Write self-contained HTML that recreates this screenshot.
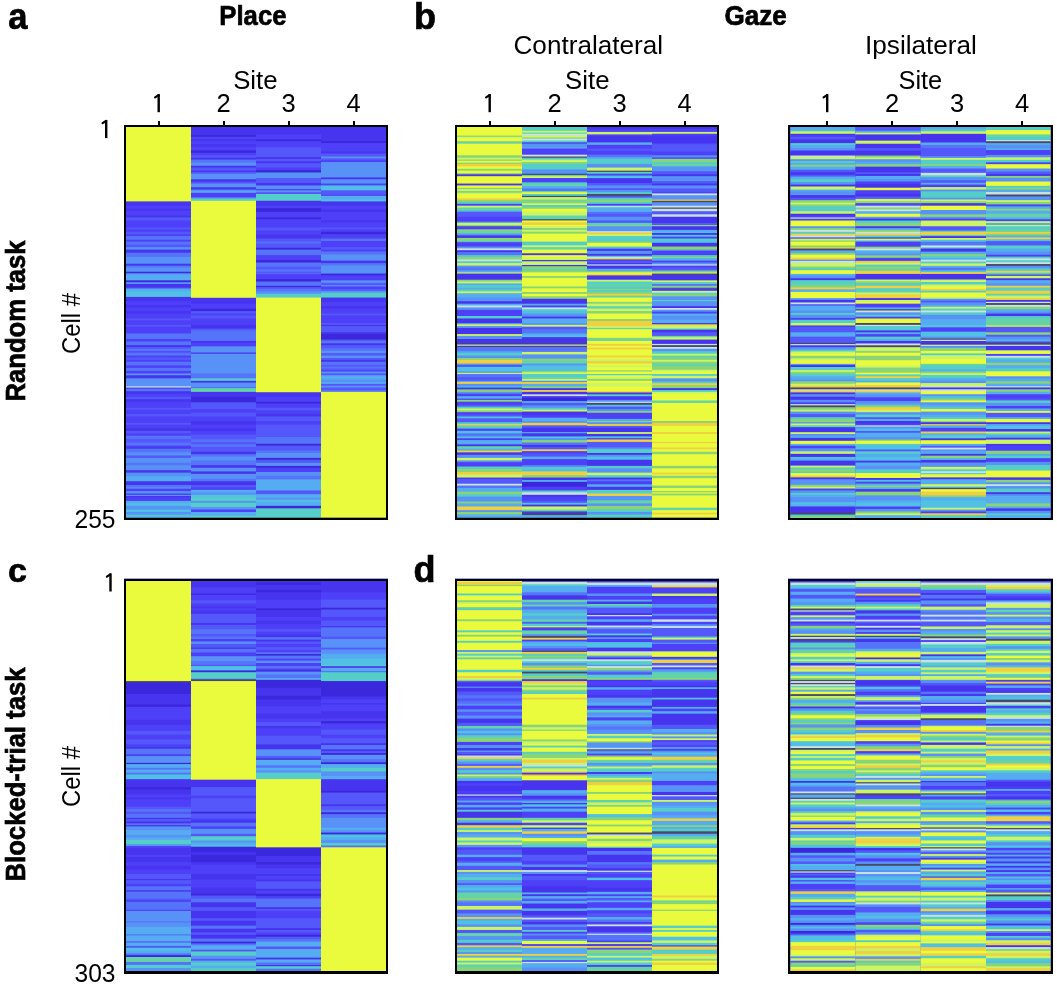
<!DOCTYPE html>
<html><head><meta charset="utf-8"><title>Figure</title>
<style>html,body{margin:0;padding:0;background:#fff;}body{width:1057px;height:985px;overflow:hidden;font-family:"Liberation Sans",sans-serif;}svg{display:block;will-change:transform;}</style>
</head><body>
<svg width="1057" height="985" viewBox="0 0 1057 985" shape-rendering="crispEdges">
<rect width="1057" height="985" fill="#fff"/>
<g shape-rendering="auto">
<rect x="124" y="125" width="264" height="395" fill="#4c46f8"/>
<rect x="455" y="125" width="264" height="395" fill="#4c46f8"/>
<rect x="788" y="125" width="265" height="395" fill="#4c46f8"/>
<rect x="124" y="578.5" width="264" height="395.0" fill="#4c46f8"/>
<rect x="455" y="578.5" width="264" height="395.0" fill="#4c46f8"/>
<rect x="788" y="578.5" width="265" height="395.0" fill="#4c46f8"/>
<rect x="126" y="127.00" width="65" height="75.39" fill="#e9fb3c"/>
<rect x="126" y="201.39" width="65" height="5.30" fill="#4634ee"/>
<rect x="126" y="205.70" width="65" height="4.07" fill="#4e40f8"/>
<rect x="126" y="208.77" width="65" height="2.84" fill="#4634ee"/>
<rect x="126" y="210.61" width="65" height="5.92" fill="#4e40f8"/>
<rect x="126" y="215.53" width="65" height="2.84" fill="#4634ee"/>
<rect x="126" y="217.38" width="65" height="4.07" fill="#5458fb"/>
<rect x="126" y="220.45" width="65" height="4.55" fill="#4e40f8"/>
<rect x="191" y="127.00" width="65" height="8.99" fill="#4634ee"/>
<rect x="191" y="134.99" width="65" height="2.84" fill="#3c28dc"/>
<rect x="191" y="136.84" width="65" height="3.46" fill="#4e40f8"/>
<rect x="191" y="139.30" width="65" height="2.84" fill="#4634ee"/>
<rect x="191" y="141.14" width="65" height="4.07" fill="#4e40f8"/>
<rect x="191" y="144.21" width="65" height="3.46" fill="#4634ee"/>
<rect x="191" y="146.67" width="65" height="4.69" fill="#4e40f8"/>
<rect x="191" y="150.36" width="65" height="3.46" fill="#3c28dc"/>
<rect x="191" y="152.82" width="65" height="3.46" fill="#4e40f8"/>
<rect x="191" y="155.28" width="65" height="3.46" fill="#5458fb"/>
<rect x="191" y="157.74" width="65" height="2.84" fill="#4634ee"/>
<rect x="191" y="159.58" width="65" height="4.07" fill="#5674fa"/>
<rect x="191" y="162.66" width="65" height="4.07" fill="#5892f6"/>
<rect x="191" y="165.73" width="65" height="2.84" fill="#4634ee"/>
<rect x="191" y="167.58" width="65" height="4.07" fill="#5458fb"/>
<rect x="191" y="170.65" width="65" height="2.23" fill="#4634ee"/>
<rect x="191" y="171.88" width="65" height="2.84" fill="#5458fb"/>
<rect x="191" y="173.73" width="65" height="6.53" fill="#5892f6"/>
<rect x="191" y="179.26" width="65" height="3.46" fill="#4634ee"/>
<rect x="191" y="181.72" width="65" height="2.84" fill="#5458fb"/>
<rect x="191" y="183.56" width="65" height="4.69" fill="#5892f6"/>
<rect x="191" y="187.25" width="65" height="2.84" fill="#4634ee"/>
<rect x="191" y="189.10" width="65" height="2.23" fill="#5458fb"/>
<rect x="191" y="190.32" width="65" height="3.46" fill="#55acf0"/>
<rect x="191" y="192.78" width="65" height="5.30" fill="#4e40f8"/>
<rect x="191" y="197.09" width="65" height="2.23" fill="#5674fa"/>
<rect x="191" y="198.32" width="65" height="3.46" fill="#55cdc8"/>
<rect x="191" y="200.78" width="65" height="24.22" fill="#e9fb3c"/>
<rect x="256" y="127.00" width="65" height="8.38" fill="#4634ee"/>
<rect x="256" y="134.38" width="65" height="5.92" fill="#4e40f8"/>
<rect x="256" y="139.30" width="65" height="2.84" fill="#3c28dc"/>
<rect x="256" y="141.14" width="65" height="7.15" fill="#4e40f8"/>
<rect x="256" y="147.29" width="65" height="10.84" fill="#5458fb"/>
<rect x="256" y="157.13" width="65" height="2.84" fill="#4634ee"/>
<rect x="256" y="158.97" width="65" height="3.46" fill="#5458fb"/>
<rect x="256" y="161.43" width="65" height="2.84" fill="#4634ee"/>
<rect x="256" y="163.27" width="65" height="5.30" fill="#5458fb"/>
<rect x="256" y="167.58" width="65" height="3.46" fill="#4e40f8"/>
<rect x="256" y="170.04" width="65" height="3.46" fill="#3c28dc"/>
<rect x="256" y="172.50" width="65" height="6.53" fill="#5892f6"/>
<rect x="256" y="178.03" width="65" height="5.92" fill="#5458fb"/>
<rect x="256" y="182.95" width="65" height="3.46" fill="#4634ee"/>
<rect x="256" y="185.41" width="65" height="4.69" fill="#5892f6"/>
<rect x="256" y="189.10" width="65" height="2.23" fill="#4e40f8"/>
<rect x="256" y="190.32" width="65" height="2.84" fill="#5892f6"/>
<rect x="256" y="192.17" width="65" height="2.84" fill="#5458fb"/>
<rect x="256" y="194.01" width="65" height="7.76" fill="#55cdc8"/>
<rect x="256" y="200.78" width="65" height="5.92" fill="#4634ee"/>
<rect x="256" y="205.70" width="65" height="3.46" fill="#4e40f8"/>
<rect x="256" y="208.15" width="65" height="4.69" fill="#3c28dc"/>
<rect x="256" y="211.84" width="65" height="6.53" fill="#4e40f8"/>
<rect x="256" y="217.38" width="65" height="2.84" fill="#3c28dc"/>
<rect x="256" y="219.22" width="65" height="5.78" fill="#4e40f8"/>
<rect x="321" y="127.00" width="65" height="15.14" fill="#4634ee"/>
<rect x="321" y="141.14" width="65" height="2.84" fill="#3c28dc"/>
<rect x="321" y="142.98" width="65" height="9.61" fill="#4e40f8"/>
<rect x="321" y="151.59" width="65" height="2.84" fill="#4634ee"/>
<rect x="321" y="153.44" width="65" height="4.07" fill="#5458fb"/>
<rect x="321" y="156.51" width="65" height="2.84" fill="#5892f6"/>
<rect x="321" y="158.36" width="65" height="2.84" fill="#5458fb"/>
<rect x="321" y="160.20" width="65" height="2.84" fill="#4e40f8"/>
<rect x="321" y="162.04" width="65" height="16.37" fill="#5892f6"/>
<rect x="321" y="177.41" width="65" height="2.84" fill="#4634ee"/>
<rect x="321" y="179.26" width="65" height="5.30" fill="#5892f6"/>
<rect x="321" y="183.56" width="65" height="2.84" fill="#4e40f8"/>
<rect x="321" y="185.41" width="65" height="5.92" fill="#50c0e4"/>
<rect x="321" y="190.32" width="65" height="5.30" fill="#5458fb"/>
<rect x="321" y="194.63" width="65" height="2.23" fill="#4e40f8"/>
<rect x="321" y="195.86" width="65" height="4.69" fill="#55acf0"/>
<rect x="321" y="199.55" width="65" height="2.84" fill="#50c0e4"/>
<rect x="321" y="201.39" width="65" height="5.30" fill="#4634ee"/>
<rect x="321" y="205.70" width="65" height="4.69" fill="#4e40f8"/>
<rect x="321" y="209.38" width="65" height="3.46" fill="#4634ee"/>
<rect x="321" y="211.84" width="65" height="9.61" fill="#4e40f8"/>
<rect x="321" y="220.45" width="65" height="2.84" fill="#4634ee"/>
<rect x="321" y="222.29" width="65" height="2.71" fill="#4e40f8"/>
<rect x="126" y="225.00" width="65" height="3.46" fill="#4e40f8"/>
<rect x="126" y="227.46" width="65" height="2.84" fill="#5458fb"/>
<rect x="126" y="229.30" width="65" height="3.46" fill="#4e40f8"/>
<rect x="126" y="231.76" width="65" height="3.46" fill="#5458fb"/>
<rect x="126" y="234.22" width="65" height="2.84" fill="#4e40f8"/>
<rect x="126" y="236.07" width="65" height="4.69" fill="#5674fa"/>
<rect x="126" y="239.76" width="65" height="2.84" fill="#4e40f8"/>
<rect x="126" y="241.60" width="65" height="4.07" fill="#5674fa"/>
<rect x="126" y="244.67" width="65" height="3.46" fill="#5458fb"/>
<rect x="126" y="247.13" width="65" height="3.46" fill="#5892f6"/>
<rect x="126" y="249.59" width="65" height="4.07" fill="#4634ee"/>
<rect x="126" y="252.67" width="65" height="5.30" fill="#5674fa"/>
<rect x="126" y="256.97" width="65" height="7.76" fill="#5892f6"/>
<rect x="126" y="263.73" width="65" height="2.84" fill="#4634ee"/>
<rect x="126" y="265.58" width="65" height="2.84" fill="#5674fa"/>
<rect x="126" y="267.42" width="65" height="5.30" fill="#5892f6"/>
<rect x="126" y="271.73" width="65" height="2.23" fill="#3c28dc"/>
<rect x="126" y="272.95" width="65" height="2.23" fill="#5674fa"/>
<rect x="126" y="274.18" width="65" height="7.15" fill="#55acf0"/>
<rect x="126" y="280.33" width="65" height="2.84" fill="#3c28dc"/>
<rect x="126" y="282.18" width="65" height="2.84" fill="#5892f6"/>
<rect x="126" y="284.02" width="65" height="4.69" fill="#4634ee"/>
<rect x="126" y="287.71" width="65" height="2.23" fill="#5674fa"/>
<rect x="126" y="288.94" width="65" height="3.46" fill="#55acf0"/>
<rect x="126" y="291.40" width="65" height="6.53" fill="#50c0e4"/>
<rect x="126" y="296.93" width="65" height="5.30" fill="#4634ee"/>
<rect x="126" y="301.24" width="65" height="4.69" fill="#4e40f8"/>
<rect x="126" y="304.92" width="65" height="3.46" fill="#4634ee"/>
<rect x="126" y="307.38" width="65" height="4.69" fill="#4e40f8"/>
<rect x="126" y="311.07" width="65" height="3.46" fill="#4634ee"/>
<rect x="126" y="313.53" width="65" height="5.92" fill="#4e40f8"/>
<rect x="126" y="318.45" width="65" height="2.84" fill="#5458fb"/>
<rect x="126" y="320.29" width="65" height="2.71" fill="#4e40f8"/>
<rect x="191" y="225.00" width="65" height="73.79" fill="#e9fb3c"/>
<rect x="191" y="297.79" width="65" height="6.90" fill="#4634ee"/>
<rect x="191" y="303.70" width="65" height="5.92" fill="#4e40f8"/>
<rect x="191" y="308.61" width="65" height="3.46" fill="#3c28dc"/>
<rect x="191" y="311.07" width="65" height="3.46" fill="#5458fb"/>
<rect x="191" y="313.53" width="65" height="2.84" fill="#4e40f8"/>
<rect x="191" y="315.38" width="65" height="4.07" fill="#5458fb"/>
<rect x="191" y="318.45" width="65" height="4.55" fill="#4e40f8"/>
<rect x="256" y="225.00" width="65" height="3.46" fill="#4e40f8"/>
<rect x="256" y="227.46" width="65" height="4.07" fill="#5458fb"/>
<rect x="256" y="230.53" width="65" height="5.30" fill="#4e40f8"/>
<rect x="256" y="234.84" width="65" height="4.69" fill="#4634ee"/>
<rect x="256" y="238.53" width="65" height="4.07" fill="#5458fb"/>
<rect x="256" y="241.60" width="65" height="2.84" fill="#5674fa"/>
<rect x="256" y="243.44" width="65" height="5.30" fill="#5458fb"/>
<rect x="256" y="247.75" width="65" height="2.84" fill="#3c28dc"/>
<rect x="256" y="249.59" width="65" height="6.53" fill="#5674fa"/>
<rect x="256" y="255.13" width="65" height="5.92" fill="#4e40f8"/>
<rect x="256" y="260.04" width="65" height="3.46" fill="#3c28dc"/>
<rect x="256" y="262.50" width="65" height="5.30" fill="#5674fa"/>
<rect x="256" y="266.81" width="65" height="3.46" fill="#5458fb"/>
<rect x="256" y="269.27" width="65" height="3.46" fill="#5674fa"/>
<rect x="256" y="271.73" width="65" height="2.84" fill="#5458fb"/>
<rect x="256" y="273.57" width="65" height="1.61" fill="#5674fa"/>
<rect x="256" y="274.18" width="65" height="5.92" fill="#4e40f8"/>
<rect x="256" y="279.10" width="65" height="3.46" fill="#3c28dc"/>
<rect x="256" y="281.56" width="65" height="5.30" fill="#5674fa"/>
<rect x="256" y="285.87" width="65" height="2.23" fill="#3c28dc"/>
<rect x="256" y="287.10" width="65" height="2.84" fill="#5458fb"/>
<rect x="256" y="288.94" width="65" height="3.46" fill="#5674fa"/>
<rect x="256" y="291.40" width="65" height="3.46" fill="#5892f6"/>
<rect x="256" y="293.86" width="65" height="4.69" fill="#55cdc8"/>
<rect x="256" y="297.55" width="65" height="25.45" fill="#e9fb3c"/>
<rect x="321" y="225.00" width="65" height="3.46" fill="#4e40f8"/>
<rect x="321" y="227.46" width="65" height="2.84" fill="#5458fb"/>
<rect x="321" y="229.30" width="65" height="3.46" fill="#4e40f8"/>
<rect x="321" y="231.76" width="65" height="3.46" fill="#3c28dc"/>
<rect x="321" y="234.22" width="65" height="5.30" fill="#4e40f8"/>
<rect x="321" y="238.53" width="65" height="3.46" fill="#5674fa"/>
<rect x="321" y="240.98" width="65" height="7.15" fill="#4e40f8"/>
<rect x="321" y="247.13" width="65" height="3.46" fill="#5458fb"/>
<rect x="321" y="249.59" width="65" height="2.84" fill="#4e40f8"/>
<rect x="321" y="251.44" width="65" height="4.07" fill="#5674fa"/>
<rect x="321" y="254.51" width="65" height="7.15" fill="#5892f6"/>
<rect x="321" y="260.66" width="65" height="3.46" fill="#4634ee"/>
<rect x="321" y="263.12" width="65" height="3.46" fill="#5674fa"/>
<rect x="321" y="265.58" width="65" height="8.99" fill="#5892f6"/>
<rect x="321" y="273.57" width="65" height="2.84" fill="#3c28dc"/>
<rect x="321" y="275.41" width="65" height="5.92" fill="#4e40f8"/>
<rect x="321" y="280.33" width="65" height="3.46" fill="#5892f6"/>
<rect x="321" y="282.79" width="65" height="3.46" fill="#5458fb"/>
<rect x="321" y="285.25" width="65" height="2.23" fill="#5892f6"/>
<rect x="321" y="286.48" width="65" height="3.46" fill="#4e40f8"/>
<rect x="321" y="288.94" width="65" height="2.84" fill="#5458fb"/>
<rect x="321" y="290.78" width="65" height="2.84" fill="#5892f6"/>
<rect x="321" y="292.63" width="65" height="5.92" fill="#55cdc8"/>
<rect x="321" y="297.55" width="65" height="5.30" fill="#4634ee"/>
<rect x="321" y="301.85" width="65" height="5.30" fill="#4e40f8"/>
<rect x="321" y="306.15" width="65" height="3.46" fill="#4634ee"/>
<rect x="321" y="308.61" width="65" height="5.92" fill="#4e40f8"/>
<rect x="321" y="313.53" width="65" height="2.84" fill="#5458fb"/>
<rect x="321" y="315.38" width="65" height="7.62" fill="#4e40f8"/>
<rect x="126" y="323.00" width="65" height="2.84" fill="#4e40f8"/>
<rect x="126" y="324.84" width="65" height="2.84" fill="#5458fb"/>
<rect x="126" y="326.69" width="65" height="7.76" fill="#4e40f8"/>
<rect x="126" y="333.45" width="65" height="6.53" fill="#5674fa"/>
<rect x="126" y="338.98" width="65" height="3.46" fill="#4e40f8"/>
<rect x="126" y="341.44" width="65" height="4.69" fill="#5674fa"/>
<rect x="126" y="345.13" width="65" height="2.84" fill="#4634ee"/>
<rect x="126" y="346.98" width="65" height="2.84" fill="#5458fb"/>
<rect x="126" y="348.82" width="65" height="3.46" fill="#5674fa"/>
<rect x="126" y="351.28" width="65" height="2.23" fill="#4e40f8"/>
<rect x="126" y="352.51" width="65" height="4.07" fill="#5674fa"/>
<rect x="126" y="355.58" width="65" height="2.84" fill="#4e40f8"/>
<rect x="126" y="357.43" width="65" height="3.46" fill="#5458fb"/>
<rect x="126" y="359.89" width="65" height="2.84" fill="#4e40f8"/>
<rect x="126" y="361.73" width="65" height="4.69" fill="#5674fa"/>
<rect x="126" y="365.42" width="65" height="3.46" fill="#4e40f8"/>
<rect x="126" y="367.88" width="65" height="4.07" fill="#5674fa"/>
<rect x="126" y="370.95" width="65" height="3.46" fill="#4e40f8"/>
<rect x="126" y="373.41" width="65" height="2.84" fill="#5892f6"/>
<rect x="126" y="375.26" width="65" height="4.07" fill="#4634ee"/>
<rect x="126" y="378.33" width="65" height="8.99" fill="#5892f6"/>
<rect x="126" y="386.32" width="65" height="2.23" fill="#c8e2e2"/>
<rect x="126" y="387.55" width="65" height="2.23" fill="#4e40f8"/>
<rect x="126" y="388.78" width="65" height="3.46" fill="#5674fa"/>
<rect x="126" y="391.24" width="65" height="3.46" fill="#4634ee"/>
<rect x="126" y="393.70" width="65" height="4.07" fill="#4e40f8"/>
<rect x="126" y="396.78" width="65" height="3.46" fill="#5458fb"/>
<rect x="126" y="399.24" width="65" height="3.46" fill="#4634ee"/>
<rect x="126" y="401.70" width="65" height="7.15" fill="#4e40f8"/>
<rect x="126" y="407.84" width="65" height="2.84" fill="#5458fb"/>
<rect x="126" y="409.69" width="65" height="5.30" fill="#4e40f8"/>
<rect x="126" y="413.99" width="65" height="3.46" fill="#5458fb"/>
<rect x="126" y="416.45" width="65" height="4.55" fill="#4e40f8"/>
<rect x="191" y="323.00" width="65" height="2.84" fill="#4e40f8"/>
<rect x="191" y="324.84" width="65" height="4.69" fill="#4634ee"/>
<rect x="191" y="328.53" width="65" height="2.84" fill="#5458fb"/>
<rect x="191" y="330.38" width="65" height="11.45" fill="#5674fa"/>
<rect x="191" y="340.83" width="65" height="2.84" fill="#4634ee"/>
<rect x="191" y="342.67" width="65" height="4.69" fill="#4e40f8"/>
<rect x="191" y="346.36" width="65" height="7.15" fill="#5892f6"/>
<rect x="191" y="352.51" width="65" height="2.23" fill="#4634ee"/>
<rect x="191" y="353.74" width="65" height="20.67" fill="#5892f6"/>
<rect x="191" y="373.41" width="65" height="5.92" fill="#5674fa"/>
<rect x="191" y="378.33" width="65" height="3.46" fill="#55cdc8"/>
<rect x="191" y="380.79" width="65" height="2.84" fill="#4634ee"/>
<rect x="191" y="382.64" width="65" height="5.30" fill="#5892f6"/>
<rect x="191" y="386.94" width="65" height="2.23" fill="#5674fa"/>
<rect x="191" y="388.17" width="65" height="4.69" fill="#64d4a8"/>
<rect x="191" y="391.86" width="65" height="5.92" fill="#4634ee"/>
<rect x="191" y="396.78" width="65" height="6.53" fill="#3c28dc"/>
<rect x="191" y="402.31" width="65" height="7.76" fill="#5458fb"/>
<rect x="191" y="409.07" width="65" height="4.69" fill="#4e40f8"/>
<rect x="191" y="412.76" width="65" height="4.69" fill="#5458fb"/>
<rect x="191" y="416.45" width="65" height="4.55" fill="#4e40f8"/>
<rect x="256" y="323.00" width="65" height="70.23" fill="#e9fb3c"/>
<rect x="256" y="392.23" width="65" height="5.55" fill="#4634ee"/>
<rect x="256" y="396.78" width="65" height="5.92" fill="#4e40f8"/>
<rect x="256" y="401.70" width="65" height="2.84" fill="#3c28dc"/>
<rect x="256" y="403.54" width="65" height="5.30" fill="#4e40f8"/>
<rect x="256" y="407.84" width="65" height="3.46" fill="#5458fb"/>
<rect x="256" y="410.30" width="65" height="4.69" fill="#4e40f8"/>
<rect x="256" y="413.99" width="65" height="3.46" fill="#4634ee"/>
<rect x="256" y="416.45" width="65" height="4.55" fill="#5458fb"/>
<rect x="321" y="323.00" width="65" height="2.84" fill="#5458fb"/>
<rect x="321" y="324.84" width="65" height="2.23" fill="#4634ee"/>
<rect x="321" y="326.07" width="65" height="7.15" fill="#5458fb"/>
<rect x="321" y="332.22" width="65" height="2.84" fill="#4634ee"/>
<rect x="321" y="334.07" width="65" height="6.53" fill="#3c28dc"/>
<rect x="321" y="339.60" width="65" height="2.23" fill="#5458fb"/>
<rect x="321" y="340.83" width="65" height="3.46" fill="#5674fa"/>
<rect x="321" y="343.29" width="65" height="2.84" fill="#4634ee"/>
<rect x="321" y="345.13" width="65" height="4.07" fill="#5458fb"/>
<rect x="321" y="348.21" width="65" height="3.46" fill="#5674fa"/>
<rect x="321" y="350.67" width="65" height="3.46" fill="#5892f6"/>
<rect x="321" y="353.13" width="65" height="3.46" fill="#5458fb"/>
<rect x="321" y="355.58" width="65" height="3.46" fill="#5892f6"/>
<rect x="321" y="358.04" width="65" height="2.84" fill="#5458fb"/>
<rect x="321" y="359.89" width="65" height="2.84" fill="#4634ee"/>
<rect x="321" y="361.73" width="65" height="4.07" fill="#5674fa"/>
<rect x="321" y="364.81" width="65" height="2.84" fill="#5458fb"/>
<rect x="321" y="366.65" width="65" height="2.84" fill="#5674fa"/>
<rect x="321" y="368.50" width="65" height="2.84" fill="#5458fb"/>
<rect x="321" y="370.34" width="65" height="2.23" fill="#4e40f8"/>
<rect x="321" y="371.57" width="65" height="2.84" fill="#5892f6"/>
<rect x="321" y="373.41" width="65" height="2.84" fill="#5458fb"/>
<rect x="321" y="375.26" width="65" height="5.30" fill="#55acf0"/>
<rect x="321" y="379.56" width="65" height="3.46" fill="#5892f6"/>
<rect x="321" y="382.02" width="65" height="2.84" fill="#55acf0"/>
<rect x="321" y="383.87" width="65" height="2.84" fill="#5458fb"/>
<rect x="321" y="385.71" width="65" height="2.84" fill="#5892f6"/>
<rect x="321" y="387.55" width="65" height="3.46" fill="#5458fb"/>
<rect x="321" y="390.01" width="65" height="2.84" fill="#5674fa"/>
<rect x="321" y="391.86" width="65" height="29.14" fill="#e9fb3c"/>
<rect x="126" y="421.00" width="65" height="2.84" fill="#4e40f8"/>
<rect x="126" y="422.84" width="65" height="2.84" fill="#5458fb"/>
<rect x="126" y="424.69" width="65" height="4.69" fill="#4e40f8"/>
<rect x="126" y="428.38" width="65" height="3.46" fill="#4634ee"/>
<rect x="126" y="430.84" width="65" height="3.46" fill="#5458fb"/>
<rect x="126" y="433.30" width="65" height="3.46" fill="#4e40f8"/>
<rect x="126" y="435.76" width="65" height="4.07" fill="#5674fa"/>
<rect x="126" y="438.83" width="65" height="4.69" fill="#5458fb"/>
<rect x="126" y="442.52" width="65" height="4.07" fill="#5674fa"/>
<rect x="126" y="445.59" width="65" height="2.84" fill="#4e40f8"/>
<rect x="126" y="447.44" width="65" height="2.23" fill="#4634ee"/>
<rect x="126" y="448.67" width="65" height="4.69" fill="#5674fa"/>
<rect x="126" y="452.36" width="65" height="4.07" fill="#5892f6"/>
<rect x="126" y="455.43" width="65" height="3.46" fill="#5458fb"/>
<rect x="126" y="457.89" width="65" height="5.92" fill="#5892f6"/>
<rect x="126" y="462.81" width="65" height="3.46" fill="#5674fa"/>
<rect x="126" y="465.27" width="65" height="5.92" fill="#5892f6"/>
<rect x="126" y="470.18" width="65" height="3.46" fill="#4634ee"/>
<rect x="126" y="472.64" width="65" height="4.69" fill="#5892f6"/>
<rect x="126" y="476.33" width="65" height="5.92" fill="#55acf0"/>
<rect x="126" y="481.25" width="65" height="4.69" fill="#4634ee"/>
<rect x="126" y="484.94" width="65" height="3.46" fill="#5674fa"/>
<rect x="126" y="487.40" width="65" height="2.23" fill="#5892f6"/>
<rect x="126" y="488.63" width="65" height="3.46" fill="#4e40f8"/>
<rect x="126" y="491.09" width="65" height="3.46" fill="#5892f6"/>
<rect x="126" y="493.55" width="65" height="2.23" fill="#4634ee"/>
<rect x="126" y="494.78" width="65" height="2.23" fill="#5892f6"/>
<rect x="126" y="496.01" width="65" height="2.23" fill="#4634ee"/>
<rect x="126" y="497.24" width="65" height="4.69" fill="#4e40f8"/>
<rect x="126" y="500.92" width="65" height="3.46" fill="#55acf0"/>
<rect x="126" y="503.38" width="65" height="3.46" fill="#50c0e4"/>
<rect x="126" y="505.84" width="65" height="4.69" fill="#5892f6"/>
<rect x="126" y="509.53" width="65" height="3.46" fill="#50c0e4"/>
<rect x="126" y="511.99" width="65" height="3.46" fill="#5892f6"/>
<rect x="126" y="514.45" width="65" height="4.07" fill="#50c0e4"/>
<rect x="126" y="517.52" width="65" height="1.48" fill="#4a4868"/>
<rect x="191" y="421.00" width="65" height="4.69" fill="#4634ee"/>
<rect x="191" y="424.69" width="65" height="4.69" fill="#4e40f8"/>
<rect x="191" y="428.38" width="65" height="3.46" fill="#4634ee"/>
<rect x="191" y="430.84" width="65" height="4.69" fill="#4e40f8"/>
<rect x="191" y="434.53" width="65" height="5.92" fill="#5458fb"/>
<rect x="191" y="439.44" width="65" height="3.46" fill="#5674fa"/>
<rect x="191" y="441.90" width="65" height="3.46" fill="#5458fb"/>
<rect x="191" y="444.36" width="65" height="3.46" fill="#5674fa"/>
<rect x="191" y="446.82" width="65" height="5.92" fill="#5458fb"/>
<rect x="191" y="451.74" width="65" height="3.46" fill="#4634ee"/>
<rect x="191" y="454.20" width="65" height="3.46" fill="#5674fa"/>
<rect x="191" y="456.66" width="65" height="4.69" fill="#5892f6"/>
<rect x="191" y="460.35" width="65" height="5.92" fill="#5674fa"/>
<rect x="191" y="465.27" width="65" height="3.46" fill="#4634ee"/>
<rect x="191" y="467.73" width="65" height="4.69" fill="#5892f6"/>
<rect x="191" y="471.41" width="65" height="3.46" fill="#4634ee"/>
<rect x="191" y="473.87" width="65" height="5.92" fill="#5892f6"/>
<rect x="191" y="478.79" width="65" height="3.46" fill="#5674fa"/>
<rect x="191" y="481.25" width="65" height="4.69" fill="#4634ee"/>
<rect x="191" y="484.94" width="65" height="3.46" fill="#5458fb"/>
<rect x="191" y="487.40" width="65" height="3.46" fill="#4e40f8"/>
<rect x="191" y="489.86" width="65" height="3.46" fill="#55acf0"/>
<rect x="191" y="492.32" width="65" height="3.46" fill="#5892f6"/>
<rect x="191" y="494.78" width="65" height="3.46" fill="#50c0e4"/>
<rect x="191" y="497.24" width="65" height="4.69" fill="#55cdc8"/>
<rect x="191" y="500.92" width="65" height="2.84" fill="#5892f6"/>
<rect x="191" y="502.77" width="65" height="5.30" fill="#55cdc8"/>
<rect x="191" y="507.07" width="65" height="3.46" fill="#5892f6"/>
<rect x="191" y="509.53" width="65" height="3.46" fill="#4e40f8"/>
<rect x="191" y="511.99" width="65" height="4.69" fill="#55acf0"/>
<rect x="191" y="515.68" width="65" height="2.84" fill="#55cdc8"/>
<rect x="191" y="517.52" width="65" height="1.48" fill="#4a4868"/>
<rect x="256" y="421.00" width="65" height="4.69" fill="#4e40f8"/>
<rect x="256" y="424.69" width="65" height="2.23" fill="#5458fb"/>
<rect x="256" y="425.92" width="65" height="12.07" fill="#5458fb"/>
<rect x="256" y="436.98" width="65" height="7.76" fill="#5674fa"/>
<rect x="256" y="443.75" width="65" height="2.84" fill="#3c28dc"/>
<rect x="256" y="445.59" width="65" height="5.92" fill="#5458fb"/>
<rect x="256" y="450.51" width="65" height="3.46" fill="#5674fa"/>
<rect x="256" y="452.97" width="65" height="5.92" fill="#5892f6"/>
<rect x="256" y="457.89" width="65" height="2.84" fill="#3c28dc"/>
<rect x="256" y="459.73" width="65" height="4.07" fill="#5458fb"/>
<rect x="256" y="462.81" width="65" height="4.07" fill="#5892f6"/>
<rect x="256" y="465.88" width="65" height="2.84" fill="#3c28dc"/>
<rect x="256" y="467.73" width="65" height="5.30" fill="#4e40f8"/>
<rect x="256" y="472.03" width="65" height="4.69" fill="#5892f6"/>
<rect x="256" y="475.72" width="65" height="4.69" fill="#5674fa"/>
<rect x="256" y="479.41" width="65" height="12.07" fill="#55acf0"/>
<rect x="256" y="490.47" width="65" height="4.69" fill="#5458fb"/>
<rect x="256" y="494.16" width="65" height="4.69" fill="#55acf0"/>
<rect x="256" y="497.85" width="65" height="2.84" fill="#5892f6"/>
<rect x="256" y="499.70" width="65" height="3.46" fill="#50c0e4"/>
<rect x="256" y="502.15" width="65" height="4.69" fill="#55acf0"/>
<rect x="256" y="505.84" width="65" height="3.46" fill="#3c28dc"/>
<rect x="256" y="508.30" width="65" height="10.22" fill="#55cdc8"/>
<rect x="256" y="517.52" width="65" height="1.48" fill="#4a4868"/>
<rect x="321" y="421.00" width="65" height="97.52" fill="#e9fb3c"/>
<rect x="321" y="517.52" width="65" height="1.48" fill="#4a4868"/>
<rect x="457" y="127.00" width="65" height="9.61" fill="#e9fb3c"/>
<rect x="457" y="135.61" width="65" height="2.23" fill="#88d476"/>
<rect x="457" y="136.84" width="65" height="2.23" fill="#cbf466"/>
<rect x="457" y="138.07" width="65" height="4.07" fill="#e9fb3c"/>
<rect x="457" y="141.14" width="65" height="2.23" fill="#88d476"/>
<rect x="457" y="142.37" width="65" height="2.23" fill="#55cdc8"/>
<rect x="457" y="143.60" width="65" height="12.68" fill="#e9fb3c"/>
<rect x="457" y="155.28" width="65" height="3.46" fill="#88d476"/>
<rect x="457" y="157.74" width="65" height="2.84" fill="#cbf466"/>
<rect x="457" y="159.58" width="65" height="2.23" fill="#88d476"/>
<rect x="457" y="160.81" width="65" height="2.84" fill="#e9fb3c"/>
<rect x="457" y="162.66" width="65" height="2.23" fill="#88d476"/>
<rect x="457" y="163.89" width="65" height="3.46" fill="#f0d040"/>
<rect x="457" y="166.35" width="65" height="3.46" fill="#e9fb3c"/>
<rect x="457" y="168.81" width="65" height="2.84" fill="#88d476"/>
<rect x="457" y="170.65" width="65" height="3.46" fill="#e9fb3c"/>
<rect x="457" y="173.11" width="65" height="2.23" fill="#88d476"/>
<rect x="457" y="174.34" width="65" height="2.84" fill="#4634ee"/>
<rect x="457" y="176.18" width="65" height="8.38" fill="#e9fb3c"/>
<rect x="457" y="183.56" width="65" height="2.84" fill="#4634ee"/>
<rect x="457" y="185.41" width="65" height="3.46" fill="#e9fb3c"/>
<rect x="457" y="187.87" width="65" height="2.23" fill="#88d476"/>
<rect x="457" y="189.10" width="65" height="2.84" fill="#cbf466"/>
<rect x="457" y="190.94" width="65" height="2.84" fill="#88d476"/>
<rect x="457" y="192.78" width="65" height="2.23" fill="#cbf466"/>
<rect x="457" y="194.01" width="65" height="5.30" fill="#e9fb3c"/>
<rect x="457" y="198.32" width="65" height="2.84" fill="#f0d040"/>
<rect x="457" y="200.16" width="65" height="2.84" fill="#88d476"/>
<rect x="457" y="202.01" width="65" height="2.84" fill="#55cdc8"/>
<rect x="457" y="203.85" width="65" height="2.84" fill="#4e40f8"/>
<rect x="457" y="205.70" width="65" height="2.84" fill="#cbf466"/>
<rect x="457" y="207.54" width="65" height="4.07" fill="#64d4a8"/>
<rect x="457" y="210.61" width="65" height="2.23" fill="#55acf0"/>
<rect x="457" y="211.84" width="65" height="5.92" fill="#5458fb"/>
<rect x="457" y="216.76" width="65" height="5.92" fill="#4e40f8"/>
<rect x="457" y="221.68" width="65" height="2.23" fill="#55acf0"/>
<rect x="457" y="222.91" width="65" height="2.09" fill="#cbf466"/>
<rect x="522" y="127.00" width="65" height="4.69" fill="#55cdc8"/>
<rect x="522" y="130.69" width="65" height="2.84" fill="#cbf466"/>
<rect x="522" y="132.53" width="65" height="2.23" fill="#64d4a8"/>
<rect x="522" y="133.76" width="65" height="2.84" fill="#c8e2e2"/>
<rect x="522" y="135.61" width="65" height="2.84" fill="#cbf466"/>
<rect x="522" y="137.45" width="65" height="2.23" fill="#88d476"/>
<rect x="522" y="138.68" width="65" height="2.84" fill="#c8e2e2"/>
<rect x="522" y="140.53" width="65" height="2.84" fill="#55cdc8"/>
<rect x="522" y="142.37" width="65" height="2.23" fill="#4634ee"/>
<rect x="522" y="143.60" width="65" height="4.69" fill="#5892f6"/>
<rect x="522" y="147.29" width="65" height="2.23" fill="#55acf0"/>
<rect x="522" y="148.52" width="65" height="7.15" fill="#4e40f8"/>
<rect x="522" y="154.67" width="65" height="2.84" fill="#c8e2e2"/>
<rect x="522" y="156.51" width="65" height="2.23" fill="#4a4868"/>
<rect x="522" y="157.74" width="65" height="2.84" fill="#55cdc8"/>
<rect x="522" y="159.58" width="65" height="3.46" fill="#cbf466"/>
<rect x="522" y="162.04" width="65" height="2.84" fill="#88d476"/>
<rect x="522" y="163.89" width="65" height="6.53" fill="#55cdc8"/>
<rect x="522" y="169.42" width="65" height="5.30" fill="#5892f6"/>
<rect x="522" y="173.73" width="65" height="2.23" fill="#4a4868"/>
<rect x="522" y="174.95" width="65" height="2.23" fill="#64d4a8"/>
<rect x="522" y="176.18" width="65" height="2.84" fill="#cbf466"/>
<rect x="522" y="178.03" width="65" height="5.30" fill="#4e40f8"/>
<rect x="522" y="182.33" width="65" height="2.84" fill="#55cdc8"/>
<rect x="522" y="184.18" width="65" height="2.84" fill="#64d4a8"/>
<rect x="522" y="186.02" width="65" height="3.46" fill="#55acf0"/>
<rect x="522" y="188.48" width="65" height="3.46" fill="#5674fa"/>
<rect x="522" y="190.94" width="65" height="2.23" fill="#64d4a8"/>
<rect x="522" y="192.17" width="65" height="2.84" fill="#e9fb3c"/>
<rect x="522" y="194.01" width="65" height="2.84" fill="#55cdc8"/>
<rect x="522" y="195.86" width="65" height="2.23" fill="#4a4868"/>
<rect x="522" y="197.09" width="65" height="3.46" fill="#cbf466"/>
<rect x="522" y="199.55" width="65" height="2.23" fill="#64d4a8"/>
<rect x="522" y="200.78" width="65" height="3.46" fill="#88d476"/>
<rect x="522" y="203.24" width="65" height="2.84" fill="#cbf466"/>
<rect x="522" y="205.08" width="65" height="2.84" fill="#55cdc8"/>
<rect x="522" y="206.92" width="65" height="2.84" fill="#88d476"/>
<rect x="522" y="208.77" width="65" height="4.07" fill="#e9fb3c"/>
<rect x="522" y="211.84" width="65" height="4.69" fill="#cbf466"/>
<rect x="522" y="215.53" width="65" height="4.69" fill="#64d4a8"/>
<rect x="522" y="219.22" width="65" height="2.23" fill="#4a4868"/>
<rect x="522" y="220.45" width="65" height="2.84" fill="#e9fb3c"/>
<rect x="522" y="222.29" width="65" height="2.71" fill="#f0d040"/>
<rect x="587" y="127.00" width="65" height="2.84" fill="#4634ee"/>
<rect x="587" y="128.84" width="65" height="4.07" fill="#4e40f8"/>
<rect x="587" y="131.92" width="65" height="3.46" fill="#cbf466"/>
<rect x="587" y="134.38" width="65" height="2.84" fill="#4e40f8"/>
<rect x="587" y="136.22" width="65" height="7.15" fill="#4634ee"/>
<rect x="587" y="142.37" width="65" height="3.46" fill="#55acf0"/>
<rect x="587" y="144.83" width="65" height="4.69" fill="#4e40f8"/>
<rect x="587" y="148.52" width="65" height="3.46" fill="#5458fb"/>
<rect x="587" y="150.98" width="65" height="4.69" fill="#4e40f8"/>
<rect x="587" y="154.67" width="65" height="3.46" fill="#5674fa"/>
<rect x="587" y="157.13" width="65" height="2.84" fill="#55acf0"/>
<rect x="587" y="158.97" width="65" height="5.92" fill="#55cdc8"/>
<rect x="587" y="163.89" width="65" height="4.69" fill="#5892f6"/>
<rect x="587" y="167.58" width="65" height="4.07" fill="#cbf466"/>
<rect x="587" y="170.65" width="65" height="2.23" fill="#4a4868"/>
<rect x="587" y="171.88" width="65" height="2.84" fill="#55cdc8"/>
<rect x="587" y="173.73" width="65" height="2.84" fill="#4e40f8"/>
<rect x="587" y="175.57" width="65" height="3.46" fill="#50c0e4"/>
<rect x="587" y="178.03" width="65" height="2.23" fill="#4e40f8"/>
<rect x="587" y="179.26" width="65" height="4.69" fill="#4634ee"/>
<rect x="587" y="182.95" width="65" height="3.46" fill="#5458fb"/>
<rect x="587" y="185.41" width="65" height="4.07" fill="#5892f6"/>
<rect x="587" y="188.48" width="65" height="2.23" fill="#4e40f8"/>
<rect x="587" y="189.71" width="65" height="3.46" fill="#5892f6"/>
<rect x="587" y="192.17" width="65" height="2.84" fill="#55cdc8"/>
<rect x="587" y="194.01" width="65" height="2.84" fill="#4a4868"/>
<rect x="587" y="195.86" width="65" height="2.84" fill="#5458fb"/>
<rect x="587" y="197.70" width="65" height="2.84" fill="#55cdc8"/>
<rect x="587" y="199.55" width="65" height="3.46" fill="#88d476"/>
<rect x="587" y="202.01" width="65" height="2.84" fill="#55cdc8"/>
<rect x="587" y="203.85" width="65" height="2.84" fill="#4e40f8"/>
<rect x="587" y="205.70" width="65" height="2.23" fill="#c8e2e2"/>
<rect x="587" y="206.92" width="65" height="2.23" fill="#55cdc8"/>
<rect x="587" y="208.15" width="65" height="4.69" fill="#55acf0"/>
<rect x="587" y="211.84" width="65" height="2.84" fill="#5674fa"/>
<rect x="587" y="213.69" width="65" height="4.07" fill="#5458fb"/>
<rect x="587" y="216.76" width="65" height="4.69" fill="#5892f6"/>
<rect x="587" y="220.45" width="65" height="3.46" fill="#5458fb"/>
<rect x="587" y="222.91" width="65" height="2.09" fill="#55cdc8"/>
<rect x="652" y="127.00" width="65" height="2.84" fill="#4634ee"/>
<rect x="652" y="128.84" width="65" height="4.07" fill="#4e40f8"/>
<rect x="652" y="131.92" width="65" height="2.84" fill="#cbf466"/>
<rect x="652" y="133.76" width="65" height="2.84" fill="#4e40f8"/>
<rect x="652" y="135.61" width="65" height="8.38" fill="#4634ee"/>
<rect x="652" y="142.98" width="65" height="2.23" fill="#4e40f8"/>
<rect x="652" y="144.21" width="65" height="8.38" fill="#5458fb"/>
<rect x="652" y="151.59" width="65" height="4.69" fill="#4e40f8"/>
<rect x="652" y="155.28" width="65" height="2.84" fill="#5892f6"/>
<rect x="652" y="157.13" width="65" height="2.84" fill="#5458fb"/>
<rect x="652" y="158.97" width="65" height="4.07" fill="#88d476"/>
<rect x="652" y="162.04" width="65" height="2.84" fill="#55cdc8"/>
<rect x="652" y="163.89" width="65" height="3.46" fill="#64d4a8"/>
<rect x="652" y="166.35" width="65" height="5.92" fill="#5892f6"/>
<rect x="652" y="171.27" width="65" height="4.07" fill="#5458fb"/>
<rect x="652" y="174.34" width="65" height="2.84" fill="#4634ee"/>
<rect x="652" y="176.18" width="65" height="5.92" fill="#5892f6"/>
<rect x="652" y="181.10" width="65" height="3.46" fill="#5458fb"/>
<rect x="652" y="183.56" width="65" height="2.84" fill="#4634ee"/>
<rect x="652" y="185.41" width="65" height="4.07" fill="#5892f6"/>
<rect x="652" y="188.48" width="65" height="4.69" fill="#5458fb"/>
<rect x="652" y="192.17" width="65" height="2.23" fill="#4e40f8"/>
<rect x="652" y="193.40" width="65" height="2.84" fill="#c8e2e2"/>
<rect x="652" y="195.24" width="65" height="5.30" fill="#5892f6"/>
<rect x="652" y="199.55" width="65" height="2.23" fill="#f0d040"/>
<rect x="652" y="200.78" width="65" height="2.48" fill="#4a4868"/>
<rect x="652" y="202.25" width="65" height="4.44" fill="#5892f6"/>
<rect x="652" y="205.70" width="65" height="2.84" fill="#c8e2e2"/>
<rect x="652" y="207.54" width="65" height="2.23" fill="#4a4868"/>
<rect x="652" y="208.77" width="65" height="3.46" fill="#c8e2e2"/>
<rect x="652" y="211.23" width="65" height="4.07" fill="#5458fb"/>
<rect x="652" y="214.30" width="65" height="3.46" fill="#c8e2e2"/>
<rect x="652" y="216.76" width="65" height="7.15" fill="#4634ee"/>
<rect x="652" y="222.91" width="65" height="2.09" fill="#5458fb"/>
<rect x="457" y="225.00" width="65" height="2.23" fill="#88d476"/>
<rect x="457" y="226.23" width="65" height="4.07" fill="#4e40f8"/>
<rect x="457" y="229.30" width="65" height="2.84" fill="#88d476"/>
<rect x="457" y="231.15" width="65" height="3.46" fill="#64d4a8"/>
<rect x="457" y="233.61" width="65" height="2.84" fill="#5892f6"/>
<rect x="457" y="235.45" width="65" height="3.46" fill="#4634ee"/>
<rect x="457" y="237.91" width="65" height="4.07" fill="#88d476"/>
<rect x="457" y="240.98" width="65" height="2.23" fill="#50c0e4"/>
<rect x="457" y="242.21" width="65" height="5.30" fill="#4e40f8"/>
<rect x="457" y="246.52" width="65" height="2.84" fill="#5892f6"/>
<rect x="457" y="248.36" width="65" height="2.84" fill="#c8e2e2"/>
<rect x="457" y="250.21" width="65" height="2.84" fill="#4634ee"/>
<rect x="457" y="252.05" width="65" height="4.07" fill="#5674fa"/>
<rect x="457" y="255.13" width="65" height="2.84" fill="#55cdc8"/>
<rect x="457" y="256.97" width="65" height="3.46" fill="#88d476"/>
<rect x="457" y="259.43" width="65" height="2.84" fill="#c8e2e2"/>
<rect x="457" y="261.27" width="65" height="2.84" fill="#55cdc8"/>
<rect x="457" y="263.12" width="65" height="3.46" fill="#cbf466"/>
<rect x="457" y="265.58" width="65" height="2.84" fill="#5892f6"/>
<rect x="457" y="267.42" width="65" height="4.07" fill="#5674fa"/>
<rect x="457" y="270.50" width="65" height="2.84" fill="#55acf0"/>
<rect x="457" y="272.34" width="65" height="2.23" fill="#cbf466"/>
<rect x="457" y="273.57" width="65" height="7.15" fill="#4634ee"/>
<rect x="457" y="279.72" width="65" height="2.84" fill="#88d476"/>
<rect x="457" y="281.56" width="65" height="2.84" fill="#cbf466"/>
<rect x="457" y="283.41" width="65" height="2.84" fill="#55acf0"/>
<rect x="457" y="285.25" width="65" height="3.46" fill="#55cdc8"/>
<rect x="457" y="287.71" width="65" height="2.84" fill="#55acf0"/>
<rect x="457" y="289.55" width="65" height="2.84" fill="#64d4a8"/>
<rect x="457" y="291.40" width="65" height="2.84" fill="#cbf466"/>
<rect x="457" y="293.24" width="65" height="5.30" fill="#55acf0"/>
<rect x="457" y="297.55" width="65" height="4.69" fill="#5892f6"/>
<rect x="457" y="301.24" width="65" height="3.46" fill="#4634ee"/>
<rect x="457" y="303.70" width="65" height="2.84" fill="#55acf0"/>
<rect x="457" y="305.54" width="65" height="2.84" fill="#c8e2e2"/>
<rect x="457" y="307.38" width="65" height="3.46" fill="#5892f6"/>
<rect x="457" y="309.84" width="65" height="7.15" fill="#4e40f8"/>
<rect x="457" y="315.99" width="65" height="3.46" fill="#55cdc8"/>
<rect x="457" y="318.45" width="65" height="4.55" fill="#4634ee"/>
<rect x="522" y="225.00" width="65" height="2.23" fill="#e9fb3c"/>
<rect x="522" y="226.23" width="65" height="2.84" fill="#cbf466"/>
<rect x="522" y="228.07" width="65" height="2.84" fill="#88d476"/>
<rect x="522" y="229.92" width="65" height="2.84" fill="#cbf466"/>
<rect x="522" y="231.76" width="65" height="2.84" fill="#88d476"/>
<rect x="522" y="233.61" width="65" height="8.99" fill="#e9fb3c"/>
<rect x="522" y="241.60" width="65" height="4.69" fill="#55cdc8"/>
<rect x="522" y="245.29" width="65" height="2.84" fill="#cbf466"/>
<rect x="522" y="247.13" width="65" height="3.46" fill="#64d4a8"/>
<rect x="522" y="249.59" width="65" height="4.69" fill="#e9fb3c"/>
<rect x="522" y="253.28" width="65" height="2.84" fill="#4634ee"/>
<rect x="522" y="255.13" width="65" height="3.46" fill="#e9fb3c"/>
<rect x="522" y="257.58" width="65" height="3.46" fill="#cbf466"/>
<rect x="522" y="260.04" width="65" height="2.23" fill="#4634ee"/>
<rect x="522" y="261.27" width="65" height="4.69" fill="#cbf466"/>
<rect x="522" y="264.96" width="65" height="2.23" fill="#4634ee"/>
<rect x="522" y="266.19" width="65" height="3.46" fill="#88d476"/>
<rect x="522" y="268.65" width="65" height="2.84" fill="#64d4a8"/>
<rect x="522" y="270.50" width="65" height="2.84" fill="#88d476"/>
<rect x="522" y="272.34" width="65" height="4.69" fill="#e9fb3c"/>
<rect x="522" y="276.03" width="65" height="2.84" fill="#88d476"/>
<rect x="522" y="277.87" width="65" height="9.61" fill="#e9fb3c"/>
<rect x="522" y="286.48" width="65" height="2.84" fill="#88d476"/>
<rect x="522" y="288.32" width="65" height="4.69" fill="#e9fb3c"/>
<rect x="522" y="292.01" width="65" height="2.84" fill="#88d476"/>
<rect x="522" y="293.86" width="65" height="3.46" fill="#e9fb3c"/>
<rect x="522" y="296.32" width="65" height="3.46" fill="#88d476"/>
<rect x="522" y="298.78" width="65" height="5.92" fill="#4634ee"/>
<rect x="522" y="303.70" width="65" height="2.84" fill="#55acf0"/>
<rect x="522" y="305.54" width="65" height="2.84" fill="#4e40f8"/>
<rect x="522" y="307.38" width="65" height="2.84" fill="#c8e2e2"/>
<rect x="522" y="309.23" width="65" height="2.84" fill="#55cdc8"/>
<rect x="522" y="311.07" width="65" height="3.46" fill="#50c0e4"/>
<rect x="522" y="313.53" width="65" height="4.07" fill="#5892f6"/>
<rect x="522" y="316.61" width="65" height="2.84" fill="#4634ee"/>
<rect x="522" y="318.45" width="65" height="4.55" fill="#55acf0"/>
<rect x="587" y="225.00" width="65" height="2.23" fill="#88d476"/>
<rect x="587" y="226.23" width="65" height="5.92" fill="#5892f6"/>
<rect x="587" y="231.15" width="65" height="2.23" fill="#c8e2e2"/>
<rect x="587" y="232.38" width="65" height="2.84" fill="#f0d040"/>
<rect x="587" y="234.22" width="65" height="2.84" fill="#cbf466"/>
<rect x="587" y="236.07" width="65" height="6.53" fill="#55cdc8"/>
<rect x="587" y="241.60" width="65" height="2.23" fill="#88d476"/>
<rect x="587" y="242.83" width="65" height="4.69" fill="#e9fb3c"/>
<rect x="587" y="246.52" width="65" height="2.23" fill="#55cdc8"/>
<rect x="587" y="247.75" width="65" height="2.23" fill="#5892f6"/>
<rect x="587" y="248.98" width="65" height="2.84" fill="#4634ee"/>
<rect x="587" y="250.82" width="65" height="4.07" fill="#5892f6"/>
<rect x="587" y="253.90" width="65" height="2.84" fill="#4634ee"/>
<rect x="587" y="255.74" width="65" height="2.23" fill="#55cdc8"/>
<rect x="587" y="256.97" width="65" height="2.23" fill="#c8e2e2"/>
<rect x="587" y="258.20" width="65" height="2.23" fill="#f0d040"/>
<rect x="587" y="259.43" width="65" height="2.23" fill="#4634ee"/>
<rect x="587" y="260.66" width="65" height="3.46" fill="#5458fb"/>
<rect x="587" y="263.12" width="65" height="2.23" fill="#4634ee"/>
<rect x="587" y="264.35" width="65" height="2.23" fill="#c8e2e2"/>
<rect x="587" y="265.58" width="65" height="4.07" fill="#4634ee"/>
<rect x="587" y="268.65" width="65" height="3.46" fill="#55acf0"/>
<rect x="587" y="271.11" width="65" height="2.23" fill="#88d476"/>
<rect x="587" y="272.34" width="65" height="2.84" fill="#e9fb3c"/>
<rect x="587" y="274.18" width="65" height="2.23" fill="#f0d040"/>
<rect x="587" y="275.41" width="65" height="5.30" fill="#4634ee"/>
<rect x="587" y="279.72" width="65" height="2.84" fill="#cbf466"/>
<rect x="587" y="281.56" width="65" height="3.46" fill="#55cdc8"/>
<rect x="587" y="284.02" width="65" height="3.46" fill="#64d4a8"/>
<rect x="587" y="286.48" width="65" height="3.46" fill="#55cdc8"/>
<rect x="587" y="288.94" width="65" height="2.23" fill="#88d476"/>
<rect x="587" y="290.17" width="65" height="2.84" fill="#55cdc8"/>
<rect x="587" y="292.01" width="65" height="2.84" fill="#88d476"/>
<rect x="587" y="293.86" width="65" height="2.84" fill="#f0d040"/>
<rect x="587" y="295.70" width="65" height="2.84" fill="#64d4a8"/>
<rect x="587" y="297.55" width="65" height="5.30" fill="#e9fb3c"/>
<rect x="587" y="301.85" width="65" height="2.84" fill="#88d476"/>
<rect x="587" y="303.70" width="65" height="3.46" fill="#cbf466"/>
<rect x="587" y="306.15" width="65" height="3.46" fill="#64d4a8"/>
<rect x="587" y="308.61" width="65" height="3.46" fill="#cbf466"/>
<rect x="587" y="311.07" width="65" height="3.46" fill="#88d476"/>
<rect x="587" y="313.53" width="65" height="6.53" fill="#e9fb3c"/>
<rect x="587" y="319.07" width="65" height="2.84" fill="#88d476"/>
<rect x="587" y="320.91" width="65" height="2.09" fill="#f0d040"/>
<rect x="652" y="225.00" width="65" height="2.23" fill="#88d476"/>
<rect x="652" y="226.23" width="65" height="4.69" fill="#4634ee"/>
<rect x="652" y="229.92" width="65" height="2.84" fill="#55acf0"/>
<rect x="652" y="231.76" width="65" height="2.23" fill="#50c0e4"/>
<rect x="652" y="232.99" width="65" height="2.84" fill="#4634ee"/>
<rect x="652" y="234.84" width="65" height="2.84" fill="#50c0e4"/>
<rect x="652" y="236.68" width="65" height="2.84" fill="#4e40f8"/>
<rect x="652" y="238.53" width="65" height="3.46" fill="#55cdc8"/>
<rect x="652" y="240.98" width="65" height="2.84" fill="#50c0e4"/>
<rect x="652" y="242.83" width="65" height="4.69" fill="#4634ee"/>
<rect x="652" y="246.52" width="65" height="4.07" fill="#88d476"/>
<rect x="652" y="249.59" width="65" height="2.23" fill="#5892f6"/>
<rect x="652" y="250.82" width="65" height="5.30" fill="#4e40f8"/>
<rect x="652" y="255.13" width="65" height="2.84" fill="#55cdc8"/>
<rect x="652" y="256.97" width="65" height="2.23" fill="#88d476"/>
<rect x="652" y="258.20" width="65" height="3.46" fill="#55acf0"/>
<rect x="652" y="260.66" width="65" height="2.84" fill="#4e40f8"/>
<rect x="652" y="262.50" width="65" height="2.84" fill="#5892f6"/>
<rect x="652" y="264.35" width="65" height="2.23" fill="#c8e2e2"/>
<rect x="652" y="265.58" width="65" height="2.84" fill="#4e40f8"/>
<rect x="652" y="267.42" width="65" height="3.46" fill="#5458fb"/>
<rect x="652" y="269.88" width="65" height="2.23" fill="#5892f6"/>
<rect x="652" y="271.11" width="65" height="2.23" fill="#88d476"/>
<rect x="652" y="272.34" width="65" height="2.23" fill="#cbf466"/>
<rect x="652" y="273.57" width="65" height="2.23" fill="#4a4868"/>
<rect x="652" y="274.80" width="65" height="6.53" fill="#4634ee"/>
<rect x="652" y="280.33" width="65" height="2.84" fill="#cbf466"/>
<rect x="652" y="282.18" width="65" height="2.84" fill="#55cdc8"/>
<rect x="652" y="284.02" width="65" height="2.84" fill="#5674fa"/>
<rect x="652" y="285.87" width="65" height="2.84" fill="#88d476"/>
<rect x="652" y="287.71" width="65" height="2.84" fill="#4e40f8"/>
<rect x="652" y="289.55" width="65" height="2.23" fill="#4a4868"/>
<rect x="652" y="290.78" width="65" height="2.84" fill="#c8e2e2"/>
<rect x="652" y="292.63" width="65" height="2.84" fill="#64d4a8"/>
<rect x="652" y="294.47" width="65" height="2.84" fill="#88d476"/>
<rect x="652" y="296.32" width="65" height="4.69" fill="#5892f6"/>
<rect x="652" y="300.01" width="65" height="2.23" fill="#55cdc8"/>
<rect x="652" y="301.24" width="65" height="5.92" fill="#5892f6"/>
<rect x="652" y="306.15" width="65" height="2.84" fill="#4634ee"/>
<rect x="652" y="308.00" width="65" height="2.84" fill="#c8e2e2"/>
<rect x="652" y="309.84" width="65" height="2.84" fill="#5892f6"/>
<rect x="652" y="311.69" width="65" height="2.84" fill="#4e40f8"/>
<rect x="652" y="313.53" width="65" height="3.46" fill="#55acf0"/>
<rect x="652" y="315.99" width="65" height="4.69" fill="#5892f6"/>
<rect x="652" y="319.68" width="65" height="3.32" fill="#55acf0"/>
<rect x="457" y="323.00" width="65" height="2.23" fill="#5892f6"/>
<rect x="457" y="324.23" width="65" height="2.84" fill="#cbf466"/>
<rect x="457" y="326.07" width="65" height="2.84" fill="#5892f6"/>
<rect x="457" y="327.92" width="65" height="7.15" fill="#4634ee"/>
<rect x="457" y="334.07" width="65" height="2.84" fill="#cbf466"/>
<rect x="457" y="335.91" width="65" height="4.07" fill="#5892f6"/>
<rect x="457" y="338.98" width="65" height="5.30" fill="#4634ee"/>
<rect x="457" y="343.29" width="65" height="2.23" fill="#4a4868"/>
<rect x="457" y="344.52" width="65" height="2.23" fill="#c8e2e2"/>
<rect x="457" y="345.75" width="65" height="2.23" fill="#4a4868"/>
<rect x="457" y="346.98" width="65" height="5.30" fill="#5674fa"/>
<rect x="457" y="351.28" width="65" height="2.84" fill="#55acf0"/>
<rect x="457" y="353.13" width="65" height="3.46" fill="#55cdc8"/>
<rect x="457" y="355.58" width="65" height="3.46" fill="#5892f6"/>
<rect x="457" y="358.04" width="65" height="2.84" fill="#88d476"/>
<rect x="457" y="359.89" width="65" height="4.69" fill="#f0d040"/>
<rect x="457" y="363.58" width="65" height="2.84" fill="#5892f6"/>
<rect x="457" y="365.42" width="65" height="2.23" fill="#4634ee"/>
<rect x="457" y="366.65" width="65" height="5.92" fill="#50c0e4"/>
<rect x="457" y="371.57" width="65" height="2.23" fill="#5892f6"/>
<rect x="457" y="372.80" width="65" height="2.23" fill="#cbf466"/>
<rect x="457" y="374.03" width="65" height="4.07" fill="#5674fa"/>
<rect x="457" y="377.10" width="65" height="4.69" fill="#5458fb"/>
<rect x="457" y="380.79" width="65" height="2.23" fill="#55acf0"/>
<rect x="457" y="382.02" width="65" height="2.84" fill="#f0d040"/>
<rect x="457" y="383.87" width="65" height="3.46" fill="#5892f6"/>
<rect x="457" y="386.32" width="65" height="2.23" fill="#50c0e4"/>
<rect x="457" y="387.55" width="65" height="2.84" fill="#4634ee"/>
<rect x="457" y="389.40" width="65" height="3.46" fill="#88d476"/>
<rect x="457" y="391.86" width="65" height="2.84" fill="#5892f6"/>
<rect x="457" y="393.70" width="65" height="3.46" fill="#4e40f8"/>
<rect x="457" y="396.16" width="65" height="3.46" fill="#55acf0"/>
<rect x="457" y="398.62" width="65" height="2.23" fill="#4e40f8"/>
<rect x="457" y="399.85" width="65" height="2.84" fill="#88d476"/>
<rect x="457" y="401.70" width="65" height="4.07" fill="#4e40f8"/>
<rect x="457" y="404.77" width="65" height="2.84" fill="#5458fb"/>
<rect x="457" y="406.61" width="65" height="2.84" fill="#55cdc8"/>
<rect x="457" y="408.46" width="65" height="2.84" fill="#cbf466"/>
<rect x="457" y="410.30" width="65" height="2.84" fill="#88d476"/>
<rect x="457" y="412.15" width="65" height="3.46" fill="#4e40f8"/>
<rect x="457" y="414.61" width="65" height="2.84" fill="#5458fb"/>
<rect x="457" y="416.45" width="65" height="2.84" fill="#50c0e4"/>
<rect x="457" y="418.29" width="65" height="2.71" fill="#5458fb"/>
<rect x="522" y="323.00" width="65" height="2.84" fill="#5892f6"/>
<rect x="522" y="324.84" width="65" height="2.84" fill="#cbf466"/>
<rect x="522" y="326.69" width="65" height="3.46" fill="#5458fb"/>
<rect x="522" y="329.15" width="65" height="5.30" fill="#5674fa"/>
<rect x="522" y="333.45" width="65" height="2.84" fill="#55acf0"/>
<rect x="522" y="335.30" width="65" height="2.84" fill="#50c0e4"/>
<rect x="522" y="337.14" width="65" height="7.15" fill="#4634ee"/>
<rect x="522" y="343.29" width="65" height="2.23" fill="#4a4868"/>
<rect x="522" y="344.52" width="65" height="2.23" fill="#c8e2e2"/>
<rect x="522" y="345.75" width="65" height="2.23" fill="#4a4868"/>
<rect x="522" y="346.98" width="65" height="5.92" fill="#5674fa"/>
<rect x="522" y="351.90" width="65" height="3.46" fill="#cbf466"/>
<rect x="522" y="354.36" width="65" height="5.30" fill="#5892f6"/>
<rect x="522" y="358.66" width="65" height="2.84" fill="#88d476"/>
<rect x="522" y="360.50" width="65" height="4.07" fill="#64d4a8"/>
<rect x="522" y="363.58" width="65" height="2.84" fill="#5892f6"/>
<rect x="522" y="365.42" width="65" height="6.53" fill="#50c0e4"/>
<rect x="522" y="370.95" width="65" height="2.23" fill="#88d476"/>
<rect x="522" y="372.18" width="65" height="2.84" fill="#cbf466"/>
<rect x="522" y="374.03" width="65" height="4.07" fill="#55cdc8"/>
<rect x="522" y="377.10" width="65" height="2.84" fill="#64d4a8"/>
<rect x="522" y="378.95" width="65" height="2.84" fill="#cbf466"/>
<rect x="522" y="380.79" width="65" height="2.23" fill="#5892f6"/>
<rect x="522" y="382.02" width="65" height="2.84" fill="#f0d040"/>
<rect x="522" y="383.87" width="65" height="3.46" fill="#55acf0"/>
<rect x="522" y="386.32" width="65" height="2.84" fill="#88d476"/>
<rect x="522" y="388.17" width="65" height="2.84" fill="#4634ee"/>
<rect x="522" y="390.01" width="65" height="2.84" fill="#f0d040"/>
<rect x="522" y="391.86" width="65" height="3.46" fill="#4634ee"/>
<rect x="522" y="394.32" width="65" height="2.84" fill="#c8e2e2"/>
<rect x="522" y="396.16" width="65" height="2.84" fill="#4634ee"/>
<rect x="522" y="398.01" width="65" height="4.07" fill="#3c28dc"/>
<rect x="522" y="401.08" width="65" height="2.84" fill="#55acf0"/>
<rect x="522" y="402.92" width="65" height="3.46" fill="#5458fb"/>
<rect x="522" y="405.38" width="65" height="3.46" fill="#5892f6"/>
<rect x="522" y="407.84" width="65" height="2.84" fill="#55cdc8"/>
<rect x="522" y="409.69" width="65" height="2.84" fill="#cbf466"/>
<rect x="522" y="411.53" width="65" height="4.69" fill="#4634ee"/>
<rect x="522" y="415.22" width="65" height="3.46" fill="#4e40f8"/>
<rect x="522" y="417.68" width="65" height="3.32" fill="#55acf0"/>
<rect x="587" y="323.00" width="65" height="4.07" fill="#f0d040"/>
<rect x="587" y="326.07" width="65" height="2.84" fill="#cbf466"/>
<rect x="587" y="327.92" width="65" height="2.23" fill="#64d4a8"/>
<rect x="587" y="329.15" width="65" height="9.61" fill="#e9fb3c"/>
<rect x="587" y="337.76" width="65" height="2.84" fill="#88d476"/>
<rect x="587" y="339.60" width="65" height="2.23" fill="#55cdc8"/>
<rect x="587" y="340.83" width="65" height="4.07" fill="#e9fb3c"/>
<rect x="587" y="343.90" width="65" height="2.84" fill="#f0d040"/>
<rect x="587" y="345.75" width="65" height="2.84" fill="#e9fb3c"/>
<rect x="587" y="347.59" width="65" height="2.84" fill="#f0d040"/>
<rect x="587" y="349.44" width="65" height="7.15" fill="#e9fb3c"/>
<rect x="587" y="355.58" width="65" height="2.84" fill="#f0d040"/>
<rect x="587" y="357.43" width="65" height="2.84" fill="#e9fb3c"/>
<rect x="587" y="359.27" width="65" height="2.84" fill="#cbf466"/>
<rect x="587" y="361.12" width="65" height="3.46" fill="#f0d040"/>
<rect x="587" y="363.58" width="65" height="2.84" fill="#e9fb3c"/>
<rect x="587" y="365.42" width="65" height="2.84" fill="#cbf466"/>
<rect x="587" y="367.27" width="65" height="4.07" fill="#e9fb3c"/>
<rect x="587" y="370.34" width="65" height="2.23" fill="#88d476"/>
<rect x="587" y="371.57" width="65" height="3.46" fill="#e9fb3c"/>
<rect x="587" y="374.03" width="65" height="2.23" fill="#55cdc8"/>
<rect x="587" y="375.26" width="65" height="2.84" fill="#e9fb3c"/>
<rect x="587" y="377.10" width="65" height="2.84" fill="#cbf466"/>
<rect x="587" y="378.95" width="65" height="2.84" fill="#88d476"/>
<rect x="587" y="380.79" width="65" height="3.46" fill="#e9fb3c"/>
<rect x="587" y="383.25" width="65" height="4.07" fill="#cbf466"/>
<rect x="587" y="386.32" width="65" height="5.92" fill="#e9fb3c"/>
<rect x="587" y="391.24" width="65" height="2.23" fill="#f0d040"/>
<rect x="587" y="392.47" width="65" height="2.84" fill="#4634ee"/>
<rect x="587" y="394.32" width="65" height="2.84" fill="#55cdc8"/>
<rect x="587" y="396.16" width="65" height="2.23" fill="#4e40f8"/>
<rect x="587" y="397.39" width="65" height="3.46" fill="#4634ee"/>
<rect x="587" y="399.85" width="65" height="2.84" fill="#5892f6"/>
<rect x="587" y="401.70" width="65" height="2.23" fill="#c8e2e2"/>
<rect x="587" y="402.92" width="65" height="2.84" fill="#4a4868"/>
<rect x="587" y="404.77" width="65" height="2.84" fill="#50c0e4"/>
<rect x="587" y="406.61" width="65" height="3.46" fill="#5458fb"/>
<rect x="587" y="409.07" width="65" height="2.84" fill="#5892f6"/>
<rect x="587" y="410.92" width="65" height="2.84" fill="#88d476"/>
<rect x="587" y="412.76" width="65" height="7.15" fill="#4e40f8"/>
<rect x="587" y="418.91" width="65" height="2.09" fill="#55acf0"/>
<rect x="652" y="323.00" width="65" height="2.23" fill="#4634ee"/>
<rect x="652" y="324.23" width="65" height="2.23" fill="#f0d040"/>
<rect x="652" y="325.46" width="65" height="4.07" fill="#cbf466"/>
<rect x="652" y="328.53" width="65" height="2.23" fill="#55cdc8"/>
<rect x="652" y="329.76" width="65" height="3.46" fill="#4634ee"/>
<rect x="652" y="332.22" width="65" height="4.69" fill="#5458fb"/>
<rect x="652" y="335.91" width="65" height="2.23" fill="#64d4a8"/>
<rect x="652" y="337.14" width="65" height="3.46" fill="#cbf466"/>
<rect x="652" y="339.60" width="65" height="5.30" fill="#4634ee"/>
<rect x="652" y="343.90" width="65" height="2.23" fill="#c8e2e2"/>
<rect x="652" y="345.13" width="65" height="2.84" fill="#4a4868"/>
<rect x="652" y="346.98" width="65" height="2.84" fill="#c8e2e2"/>
<rect x="652" y="348.82" width="65" height="3.46" fill="#5892f6"/>
<rect x="652" y="351.28" width="65" height="3.46" fill="#55cdc8"/>
<rect x="652" y="353.74" width="65" height="2.84" fill="#cbf466"/>
<rect x="652" y="355.58" width="65" height="3.46" fill="#64d4a8"/>
<rect x="652" y="358.04" width="65" height="2.84" fill="#88d476"/>
<rect x="652" y="359.89" width="65" height="2.84" fill="#cbf466"/>
<rect x="652" y="361.73" width="65" height="2.84" fill="#88d476"/>
<rect x="652" y="363.58" width="65" height="3.46" fill="#64d4a8"/>
<rect x="652" y="366.04" width="65" height="4.69" fill="#88d476"/>
<rect x="652" y="369.73" width="65" height="2.84" fill="#cbf466"/>
<rect x="652" y="371.57" width="65" height="3.46" fill="#e9fb3c"/>
<rect x="652" y="374.03" width="65" height="2.84" fill="#55cdc8"/>
<rect x="652" y="375.87" width="65" height="3.46" fill="#cbf466"/>
<rect x="652" y="378.33" width="65" height="4.07" fill="#5892f6"/>
<rect x="652" y="381.41" width="65" height="2.84" fill="#55cdc8"/>
<rect x="652" y="383.25" width="65" height="2.84" fill="#f0d040"/>
<rect x="652" y="385.10" width="65" height="4.07" fill="#88d476"/>
<rect x="652" y="388.17" width="65" height="2.84" fill="#4634ee"/>
<rect x="652" y="390.01" width="65" height="2.84" fill="#55cdc8"/>
<rect x="652" y="391.86" width="65" height="2.84" fill="#cbf466"/>
<rect x="652" y="393.70" width="65" height="7.76" fill="#e9fb3c"/>
<rect x="652" y="400.47" width="65" height="3.46" fill="#64d4a8"/>
<rect x="652" y="402.92" width="65" height="18.08" fill="#e9fb3c"/>
<rect x="457" y="421.00" width="65" height="2.23" fill="#5458fb"/>
<rect x="457" y="422.23" width="65" height="2.84" fill="#55cdc8"/>
<rect x="457" y="424.07" width="65" height="2.23" fill="#f0d040"/>
<rect x="457" y="425.30" width="65" height="3.46" fill="#64d4a8"/>
<rect x="457" y="427.76" width="65" height="2.23" fill="#5892f6"/>
<rect x="457" y="428.99" width="65" height="2.84" fill="#4e40f8"/>
<rect x="457" y="430.84" width="65" height="3.46" fill="#50c0e4"/>
<rect x="457" y="433.30" width="65" height="4.07" fill="#5674fa"/>
<rect x="457" y="436.37" width="65" height="2.84" fill="#50c0e4"/>
<rect x="457" y="438.21" width="65" height="2.84" fill="#4e40f8"/>
<rect x="457" y="440.06" width="65" height="5.30" fill="#55acf0"/>
<rect x="457" y="444.36" width="65" height="2.84" fill="#4634ee"/>
<rect x="457" y="446.21" width="65" height="3.46" fill="#64d4a8"/>
<rect x="457" y="448.67" width="65" height="2.84" fill="#55acf0"/>
<rect x="457" y="450.51" width="65" height="2.84" fill="#f0d040"/>
<rect x="457" y="452.36" width="65" height="3.46" fill="#4634ee"/>
<rect x="457" y="454.81" width="65" height="4.07" fill="#5892f6"/>
<rect x="457" y="457.89" width="65" height="3.46" fill="#cbf466"/>
<rect x="457" y="460.35" width="65" height="2.84" fill="#5892f6"/>
<rect x="457" y="462.19" width="65" height="5.30" fill="#4e40f8"/>
<rect x="457" y="466.50" width="65" height="3.46" fill="#55cdc8"/>
<rect x="457" y="468.95" width="65" height="4.07" fill="#88d476"/>
<rect x="457" y="472.03" width="65" height="3.46" fill="#f0d040"/>
<rect x="457" y="474.49" width="65" height="4.07" fill="#cbf466"/>
<rect x="457" y="477.56" width="65" height="2.23" fill="#4634ee"/>
<rect x="457" y="478.79" width="65" height="5.92" fill="#5458fb"/>
<rect x="457" y="483.71" width="65" height="2.84" fill="#c8e2e2"/>
<rect x="457" y="485.55" width="65" height="3.46" fill="#5674fa"/>
<rect x="457" y="488.01" width="65" height="4.69" fill="#55acf0"/>
<rect x="457" y="491.70" width="65" height="3.46" fill="#88d476"/>
<rect x="457" y="494.16" width="65" height="3.46" fill="#55cdc8"/>
<rect x="457" y="496.62" width="65" height="5.92" fill="#5892f6"/>
<rect x="457" y="501.54" width="65" height="2.84" fill="#88d476"/>
<rect x="457" y="503.38" width="65" height="4.07" fill="#55acf0"/>
<rect x="457" y="506.46" width="65" height="4.69" fill="#f0d040"/>
<rect x="457" y="510.15" width="65" height="2.84" fill="#5892f6"/>
<rect x="457" y="511.99" width="65" height="3.46" fill="#88d476"/>
<rect x="457" y="514.45" width="65" height="4.07" fill="#55acf0"/>
<rect x="457" y="517.52" width="65" height="1.48" fill="#4a4868"/>
<rect x="522" y="421.00" width="65" height="2.84" fill="#5892f6"/>
<rect x="522" y="422.84" width="65" height="3.46" fill="#f0d040"/>
<rect x="522" y="425.30" width="65" height="3.46" fill="#5458fb"/>
<rect x="522" y="427.76" width="65" height="5.30" fill="#4634ee"/>
<rect x="522" y="432.07" width="65" height="2.23" fill="#55acf0"/>
<rect x="522" y="433.30" width="65" height="4.07" fill="#4634ee"/>
<rect x="522" y="436.37" width="65" height="2.84" fill="#50c0e4"/>
<rect x="522" y="438.21" width="65" height="2.84" fill="#5892f6"/>
<rect x="522" y="440.06" width="65" height="3.46" fill="#88d476"/>
<rect x="522" y="442.52" width="65" height="3.46" fill="#5674fa"/>
<rect x="522" y="444.98" width="65" height="2.84" fill="#4634ee"/>
<rect x="522" y="446.82" width="65" height="3.46" fill="#5458fb"/>
<rect x="522" y="449.28" width="65" height="2.84" fill="#f0d040"/>
<rect x="522" y="451.13" width="65" height="3.46" fill="#4e40f8"/>
<rect x="522" y="453.58" width="65" height="4.07" fill="#5458fb"/>
<rect x="522" y="456.66" width="65" height="3.46" fill="#55acf0"/>
<rect x="522" y="459.12" width="65" height="7.15" fill="#4e40f8"/>
<rect x="522" y="465.27" width="65" height="2.84" fill="#5892f6"/>
<rect x="522" y="467.11" width="65" height="2.84" fill="#55cdc8"/>
<rect x="522" y="468.95" width="65" height="3.46" fill="#50c0e4"/>
<rect x="522" y="471.41" width="65" height="4.69" fill="#f0d040"/>
<rect x="522" y="475.10" width="65" height="3.46" fill="#88d476"/>
<rect x="522" y="477.56" width="65" height="3.46" fill="#4634ee"/>
<rect x="522" y="480.02" width="65" height="2.84" fill="#55acf0"/>
<rect x="522" y="481.87" width="65" height="5.92" fill="#3c28dc"/>
<rect x="522" y="486.78" width="65" height="4.69" fill="#4e40f8"/>
<rect x="522" y="490.47" width="65" height="2.84" fill="#55cdc8"/>
<rect x="522" y="492.32" width="65" height="3.46" fill="#c8e2e2"/>
<rect x="522" y="494.78" width="65" height="2.84" fill="#4634ee"/>
<rect x="522" y="496.62" width="65" height="5.30" fill="#4e40f8"/>
<rect x="522" y="500.92" width="65" height="2.84" fill="#5458fb"/>
<rect x="522" y="502.77" width="65" height="2.84" fill="#50c0e4"/>
<rect x="522" y="504.61" width="65" height="2.84" fill="#4634ee"/>
<rect x="522" y="506.46" width="65" height="4.07" fill="#cbf466"/>
<rect x="522" y="509.53" width="65" height="2.84" fill="#64d4a8"/>
<rect x="522" y="511.38" width="65" height="2.84" fill="#4634ee"/>
<rect x="522" y="513.22" width="65" height="2.84" fill="#4a4868"/>
<rect x="522" y="515.07" width="65" height="3.46" fill="#55acf0"/>
<rect x="522" y="517.52" width="65" height="1.48" fill="#4a4868"/>
<rect x="587" y="421.00" width="65" height="2.23" fill="#88d476"/>
<rect x="587" y="422.23" width="65" height="2.84" fill="#5892f6"/>
<rect x="587" y="424.07" width="65" height="2.84" fill="#f0d040"/>
<rect x="587" y="425.92" width="65" height="2.84" fill="#5458fb"/>
<rect x="587" y="427.76" width="65" height="5.30" fill="#4634ee"/>
<rect x="587" y="432.07" width="65" height="2.84" fill="#cbf466"/>
<rect x="587" y="433.91" width="65" height="3.46" fill="#4634ee"/>
<rect x="587" y="436.37" width="65" height="2.84" fill="#50c0e4"/>
<rect x="587" y="438.21" width="65" height="2.23" fill="#4634ee"/>
<rect x="587" y="439.44" width="65" height="3.46" fill="#f0d040"/>
<rect x="587" y="441.90" width="65" height="6.53" fill="#5458fb"/>
<rect x="587" y="447.44" width="65" height="2.84" fill="#5892f6"/>
<rect x="587" y="449.28" width="65" height="4.69" fill="#55cdc8"/>
<rect x="587" y="452.97" width="65" height="2.84" fill="#4634ee"/>
<rect x="587" y="454.81" width="65" height="2.84" fill="#5892f6"/>
<rect x="587" y="456.66" width="65" height="4.07" fill="#50c0e4"/>
<rect x="587" y="459.73" width="65" height="7.15" fill="#4634ee"/>
<rect x="587" y="465.88" width="65" height="3.46" fill="#55cdc8"/>
<rect x="587" y="468.34" width="65" height="5.30" fill="#5892f6"/>
<rect x="587" y="472.64" width="65" height="3.46" fill="#cbf466"/>
<rect x="587" y="475.10" width="65" height="3.46" fill="#55cdc8"/>
<rect x="587" y="477.56" width="65" height="2.84" fill="#4634ee"/>
<rect x="587" y="479.41" width="65" height="2.84" fill="#5674fa"/>
<rect x="587" y="481.25" width="65" height="4.07" fill="#4e40f8"/>
<rect x="587" y="484.32" width="65" height="3.46" fill="#55acf0"/>
<rect x="587" y="486.78" width="65" height="4.07" fill="#4634ee"/>
<rect x="587" y="489.86" width="65" height="4.69" fill="#55cdc8"/>
<rect x="587" y="493.55" width="65" height="3.46" fill="#f0d040"/>
<rect x="587" y="496.01" width="65" height="5.30" fill="#5892f6"/>
<rect x="587" y="500.31" width="65" height="4.07" fill="#64d4a8"/>
<rect x="587" y="503.38" width="65" height="3.46" fill="#5892f6"/>
<rect x="587" y="505.84" width="65" height="4.69" fill="#88d476"/>
<rect x="587" y="509.53" width="65" height="3.46" fill="#55cdc8"/>
<rect x="587" y="511.99" width="65" height="3.46" fill="#5892f6"/>
<rect x="587" y="514.45" width="65" height="4.07" fill="#55cdc8"/>
<rect x="587" y="517.52" width="65" height="1.48" fill="#4a4868"/>
<rect x="652" y="421.00" width="65" height="2.84" fill="#88d476"/>
<rect x="652" y="422.84" width="65" height="4.07" fill="#f0d040"/>
<rect x="652" y="425.92" width="65" height="7.15" fill="#e9fb3c"/>
<rect x="652" y="432.07" width="65" height="2.84" fill="#f0d040"/>
<rect x="652" y="433.91" width="65" height="8.99" fill="#e9fb3c"/>
<rect x="652" y="441.90" width="65" height="2.23" fill="#f0d040"/>
<rect x="652" y="443.13" width="65" height="5.30" fill="#e9fb3c"/>
<rect x="652" y="447.44" width="65" height="2.84" fill="#f0d040"/>
<rect x="652" y="449.28" width="65" height="3.46" fill="#e9fb3c"/>
<rect x="652" y="451.74" width="65" height="3.46" fill="#88d476"/>
<rect x="652" y="454.20" width="65" height="12.68" fill="#e9fb3c"/>
<rect x="652" y="465.88" width="65" height="3.46" fill="#88d476"/>
<rect x="652" y="468.34" width="65" height="5.30" fill="#e9fb3c"/>
<rect x="652" y="472.64" width="65" height="2.84" fill="#f0d040"/>
<rect x="652" y="474.49" width="65" height="2.23" fill="#e9fb3c"/>
<rect x="652" y="475.72" width="65" height="3.46" fill="#88d476"/>
<rect x="652" y="478.18" width="65" height="8.38" fill="#e9fb3c"/>
<rect x="652" y="485.55" width="65" height="3.46" fill="#88d476"/>
<rect x="652" y="488.01" width="65" height="4.07" fill="#e9fb3c"/>
<rect x="652" y="491.09" width="65" height="2.23" fill="#88d476"/>
<rect x="652" y="492.32" width="65" height="2.23" fill="#e9fb3c"/>
<rect x="652" y="493.55" width="65" height="2.84" fill="#88d476"/>
<rect x="652" y="495.39" width="65" height="13.30" fill="#e9fb3c"/>
<rect x="652" y="507.69" width="65" height="3.46" fill="#64d4a8"/>
<rect x="652" y="510.15" width="65" height="3.46" fill="#e9fb3c"/>
<rect x="652" y="512.61" width="65" height="2.84" fill="#f0d040"/>
<rect x="652" y="514.45" width="65" height="4.07" fill="#e9fb3c"/>
<rect x="652" y="517.52" width="65" height="1.48" fill="#4a4868"/>
<rect x="790.5" y="127.00" width="65.0" height="4.10" fill="#55acf0"/>
<rect x="790.5" y="130.10" width="65.0" height="2.24" fill="#55cdc8"/>
<rect x="790.5" y="131.34" width="65.0" height="3.48" fill="#cbf466"/>
<rect x="790.5" y="133.81" width="65.0" height="2.24" fill="#4634ee"/>
<rect x="790.5" y="135.05" width="65.0" height="2.86" fill="#4e40f8"/>
<rect x="790.5" y="136.91" width="65.0" height="3.48" fill="#5458fb"/>
<rect x="790.5" y="139.39" width="65.0" height="4.72" fill="#4634ee"/>
<rect x="790.5" y="143.11" width="65.0" height="2.86" fill="#55cdc8"/>
<rect x="790.5" y="144.96" width="65.0" height="4.10" fill="#55acf0"/>
<rect x="790.5" y="148.06" width="65.0" height="3.48" fill="#5892f6"/>
<rect x="790.5" y="150.54" width="65.0" height="5.96" fill="#4634ee"/>
<rect x="790.5" y="155.50" width="65.0" height="2.24" fill="#c8e2e2"/>
<rect x="790.5" y="156.73" width="65.0" height="3.48" fill="#cbf466"/>
<rect x="790.5" y="159.21" width="65.0" height="2.86" fill="#5892f6"/>
<rect x="790.5" y="161.07" width="65.0" height="2.86" fill="#55cdc8"/>
<rect x="790.5" y="162.93" width="65.0" height="2.86" fill="#55acf0"/>
<rect x="790.5" y="164.79" width="65.0" height="2.86" fill="#88d476"/>
<rect x="790.5" y="166.65" width="65.0" height="4.10" fill="#55acf0"/>
<rect x="790.5" y="169.74" width="65.0" height="3.48" fill="#5458fb"/>
<rect x="790.5" y="172.22" width="65.0" height="3.48" fill="#4634ee"/>
<rect x="790.5" y="174.70" width="65.0" height="2.86" fill="#5458fb"/>
<rect x="790.5" y="176.56" width="65.0" height="3.48" fill="#55acf0"/>
<rect x="790.5" y="179.04" width="65.0" height="4.10" fill="#55cdc8"/>
<rect x="790.5" y="182.13" width="65.0" height="3.48" fill="#5892f6"/>
<rect x="790.5" y="184.61" width="65.0" height="2.86" fill="#4634ee"/>
<rect x="790.5" y="186.47" width="65.0" height="4.10" fill="#cbf466"/>
<rect x="790.5" y="189.57" width="65.0" height="2.86" fill="#55acf0"/>
<rect x="790.5" y="191.42" width="65.0" height="4.72" fill="#5892f6"/>
<rect x="790.5" y="195.14" width="65.0" height="3.48" fill="#4634ee"/>
<rect x="790.5" y="197.62" width="65.0" height="3.48" fill="#5458fb"/>
<rect x="790.5" y="200.10" width="65.0" height="3.48" fill="#88d476"/>
<rect x="790.5" y="202.58" width="65.0" height="2.86" fill="#cbf466"/>
<rect x="790.5" y="204.43" width="65.0" height="2.86" fill="#88d476"/>
<rect x="790.5" y="206.29" width="65.0" height="5.96" fill="#55cdc8"/>
<rect x="790.5" y="211.25" width="65.0" height="3.48" fill="#cbf466"/>
<rect x="790.5" y="213.73" width="65.0" height="2.86" fill="#4634ee"/>
<rect x="790.5" y="215.58" width="65.0" height="2.86" fill="#4e40f8"/>
<rect x="790.5" y="217.44" width="65.0" height="2.24" fill="#c8e2e2"/>
<rect x="790.5" y="218.68" width="65.0" height="2.86" fill="#4e40f8"/>
<rect x="790.5" y="220.54" width="65.0" height="4.46" fill="#e9fb3c"/>
<rect x="855.5" y="127.00" width="65.20000000000005" height="4.72" fill="#5458fb"/>
<rect x="855.5" y="130.72" width="65.20000000000005" height="2.86" fill="#55acf0"/>
<rect x="855.5" y="132.58" width="65.20000000000005" height="2.86" fill="#cbf466"/>
<rect x="855.5" y="134.43" width="65.20000000000005" height="7.19" fill="#4634ee"/>
<rect x="855.5" y="140.63" width="65.20000000000005" height="4.10" fill="#cbf466"/>
<rect x="855.5" y="143.73" width="65.20000000000005" height="5.34" fill="#4634ee"/>
<rect x="855.5" y="148.06" width="65.20000000000005" height="3.48" fill="#5458fb"/>
<rect x="855.5" y="150.54" width="65.20000000000005" height="5.96" fill="#4634ee"/>
<rect x="855.5" y="155.50" width="65.20000000000005" height="2.86" fill="#88d476"/>
<rect x="855.5" y="157.35" width="65.20000000000005" height="2.86" fill="#cbf466"/>
<rect x="855.5" y="159.21" width="65.20000000000005" height="3.48" fill="#5892f6"/>
<rect x="855.5" y="161.69" width="65.20000000000005" height="3.48" fill="#55acf0"/>
<rect x="855.5" y="164.17" width="65.20000000000005" height="3.48" fill="#88d476"/>
<rect x="855.5" y="166.65" width="65.20000000000005" height="6.58" fill="#4634ee"/>
<rect x="855.5" y="172.22" width="65.20000000000005" height="2.86" fill="#5458fb"/>
<rect x="855.5" y="174.08" width="65.20000000000005" height="2.86" fill="#4634ee"/>
<rect x="855.5" y="175.94" width="65.20000000000005" height="4.10" fill="#55acf0"/>
<rect x="855.5" y="179.04" width="65.20000000000005" height="3.48" fill="#5892f6"/>
<rect x="855.5" y="181.51" width="65.20000000000005" height="3.48" fill="#4e40f8"/>
<rect x="855.5" y="183.99" width="65.20000000000005" height="4.72" fill="#4634ee"/>
<rect x="855.5" y="187.71" width="65.20000000000005" height="3.48" fill="#e9fb3c"/>
<rect x="855.5" y="190.19" width="65.20000000000005" height="4.72" fill="#4e40f8"/>
<rect x="855.5" y="193.90" width="65.20000000000005" height="3.48" fill="#4634ee"/>
<rect x="855.5" y="196.38" width="65.20000000000005" height="3.48" fill="#5458fb"/>
<rect x="855.5" y="198.86" width="65.20000000000005" height="3.48" fill="#cbf466"/>
<rect x="855.5" y="201.34" width="65.20000000000005" height="2.86" fill="#88d476"/>
<rect x="855.5" y="203.19" width="65.20000000000005" height="3.48" fill="#4e40f8"/>
<rect x="855.5" y="205.67" width="65.20000000000005" height="2.86" fill="#c8e2e2"/>
<rect x="855.5" y="207.53" width="65.20000000000005" height="2.86" fill="#88d476"/>
<rect x="855.5" y="209.39" width="65.20000000000005" height="2.86" fill="#c8e2e2"/>
<rect x="855.5" y="211.25" width="65.20000000000005" height="3.48" fill="#55acf0"/>
<rect x="855.5" y="213.73" width="65.20000000000005" height="4.10" fill="#e9fb3c"/>
<rect x="855.5" y="216.82" width="65.20000000000005" height="2.86" fill="#5892f6"/>
<rect x="855.5" y="218.68" width="65.20000000000005" height="2.86" fill="#4634ee"/>
<rect x="855.5" y="220.54" width="65.20000000000005" height="3.48" fill="#55cdc8"/>
<rect x="855.5" y="223.02" width="65.20000000000005" height="1.98" fill="#88d476"/>
<rect x="920.7" y="127.00" width="65.29999999999995" height="3.48" fill="#55acf0"/>
<rect x="920.7" y="129.48" width="65.29999999999995" height="2.86" fill="#55cdc8"/>
<rect x="920.7" y="131.34" width="65.29999999999995" height="3.48" fill="#cbf466"/>
<rect x="920.7" y="133.81" width="65.29999999999995" height="9.67" fill="#4634ee"/>
<rect x="920.7" y="142.49" width="65.29999999999995" height="3.48" fill="#55acf0"/>
<rect x="920.7" y="144.96" width="65.29999999999995" height="4.10" fill="#5674fa"/>
<rect x="920.7" y="148.06" width="65.29999999999995" height="9.05" fill="#5458fb"/>
<rect x="920.7" y="156.12" width="65.29999999999995" height="2.86" fill="#5892f6"/>
<rect x="920.7" y="157.97" width="65.29999999999995" height="2.86" fill="#cbf466"/>
<rect x="920.7" y="159.83" width="65.29999999999995" height="5.34" fill="#55cdc8"/>
<rect x="920.7" y="164.17" width="65.29999999999995" height="2.86" fill="#88d476"/>
<rect x="920.7" y="166.03" width="65.29999999999995" height="3.48" fill="#55acf0"/>
<rect x="920.7" y="168.50" width="65.29999999999995" height="5.34" fill="#5458fb"/>
<rect x="920.7" y="172.84" width="65.29999999999995" height="3.48" fill="#c8e2e2"/>
<rect x="920.7" y="175.32" width="65.29999999999995" height="2.86" fill="#55cdc8"/>
<rect x="920.7" y="177.18" width="65.29999999999995" height="4.10" fill="#5892f6"/>
<rect x="920.7" y="180.27" width="65.29999999999995" height="3.48" fill="#5458fb"/>
<rect x="920.7" y="182.75" width="65.29999999999995" height="2.86" fill="#55acf0"/>
<rect x="920.7" y="184.61" width="65.29999999999995" height="3.48" fill="#4e40f8"/>
<rect x="920.7" y="187.09" width="65.29999999999995" height="3.48" fill="#cbf466"/>
<rect x="920.7" y="189.57" width="65.29999999999995" height="2.86" fill="#5892f6"/>
<rect x="920.7" y="191.42" width="65.29999999999995" height="7.19" fill="#55cdc8"/>
<rect x="920.7" y="197.62" width="65.29999999999995" height="2.86" fill="#5892f6"/>
<rect x="920.7" y="199.48" width="65.29999999999995" height="2.86" fill="#cbf466"/>
<rect x="920.7" y="201.34" width="65.29999999999995" height="2.86" fill="#88d476"/>
<rect x="920.7" y="203.19" width="65.29999999999995" height="3.48" fill="#4634ee"/>
<rect x="920.7" y="205.67" width="65.29999999999995" height="5.34" fill="#e9fb3c"/>
<rect x="920.7" y="210.01" width="65.29999999999995" height="5.34" fill="#5892f6"/>
<rect x="920.7" y="214.35" width="65.29999999999995" height="3.48" fill="#88d476"/>
<rect x="920.7" y="216.82" width="65.29999999999995" height="2.86" fill="#5892f6"/>
<rect x="920.7" y="218.68" width="65.29999999999995" height="2.86" fill="#4e40f8"/>
<rect x="920.7" y="220.54" width="65.29999999999995" height="4.46" fill="#cbf466"/>
<rect x="986" y="127.00" width="64.5" height="4.10" fill="#55cdc8"/>
<rect x="986" y="130.10" width="64.5" height="5.34" fill="#e9fb3c"/>
<rect x="986" y="134.43" width="64.5" height="3.48" fill="#64d4a8"/>
<rect x="986" y="136.91" width="64.5" height="4.10" fill="#55cdc8"/>
<rect x="986" y="140.01" width="64.5" height="2.24" fill="#c8e2e2"/>
<rect x="986" y="141.25" width="64.5" height="2.86" fill="#4a4868"/>
<rect x="986" y="143.11" width="64.5" height="2.86" fill="#55acf0"/>
<rect x="986" y="144.96" width="64.5" height="4.72" fill="#5892f6"/>
<rect x="986" y="148.68" width="64.5" height="2.24" fill="#50c0e4"/>
<rect x="986" y="149.92" width="64.5" height="5.96" fill="#4e40f8"/>
<rect x="986" y="154.88" width="64.5" height="3.48" fill="#5892f6"/>
<rect x="986" y="157.35" width="64.5" height="3.48" fill="#cbf466"/>
<rect x="986" y="159.83" width="64.5" height="3.48" fill="#55cdc8"/>
<rect x="986" y="162.31" width="64.5" height="2.86" fill="#4e40f8"/>
<rect x="986" y="164.17" width="64.5" height="5.34" fill="#e9fb3c"/>
<rect x="986" y="168.50" width="64.5" height="4.10" fill="#5892f6"/>
<rect x="986" y="171.60" width="64.5" height="3.48" fill="#5458fb"/>
<rect x="986" y="174.08" width="64.5" height="2.86" fill="#4634ee"/>
<rect x="986" y="175.94" width="64.5" height="2.86" fill="#88d476"/>
<rect x="986" y="177.80" width="64.5" height="4.72" fill="#5892f6"/>
<rect x="986" y="181.51" width="64.5" height="5.34" fill="#e9fb3c"/>
<rect x="986" y="185.85" width="64.5" height="2.86" fill="#55cdc8"/>
<rect x="986" y="187.71" width="64.5" height="2.86" fill="#88d476"/>
<rect x="986" y="189.57" width="64.5" height="3.48" fill="#55acf0"/>
<rect x="986" y="192.04" width="64.5" height="3.48" fill="#c8e2e2"/>
<rect x="986" y="194.52" width="64.5" height="2.86" fill="#4a4868"/>
<rect x="986" y="196.38" width="64.5" height="4.72" fill="#5892f6"/>
<rect x="986" y="200.10" width="64.5" height="2.86" fill="#cbf466"/>
<rect x="986" y="201.96" width="64.5" height="3.48" fill="#88d476"/>
<rect x="986" y="204.43" width="64.5" height="2.86" fill="#4e40f8"/>
<rect x="986" y="206.29" width="64.5" height="3.48" fill="#55acf0"/>
<rect x="986" y="208.77" width="64.5" height="2.86" fill="#88d476"/>
<rect x="986" y="210.63" width="64.5" height="4.10" fill="#55acf0"/>
<rect x="986" y="213.73" width="64.5" height="4.72" fill="#64d4a8"/>
<rect x="986" y="217.44" width="64.5" height="2.86" fill="#55acf0"/>
<rect x="986" y="219.30" width="64.5" height="2.86" fill="#4e40f8"/>
<rect x="986" y="221.16" width="64.5" height="2.86" fill="#cbf466"/>
<rect x="986" y="223.02" width="64.5" height="1.98" fill="#55acf0"/>
<rect x="790.5" y="225.00" width="65.0" height="2.24" fill="#e9fb3c"/>
<rect x="790.5" y="226.24" width="65.0" height="2.86" fill="#5892f6"/>
<rect x="790.5" y="228.10" width="65.0" height="2.86" fill="#88d476"/>
<rect x="790.5" y="229.96" width="65.0" height="2.86" fill="#c8e2e2"/>
<rect x="790.5" y="231.81" width="65.0" height="2.86" fill="#55cdc8"/>
<rect x="790.5" y="233.67" width="65.0" height="2.86" fill="#f0d040"/>
<rect x="790.5" y="235.53" width="65.0" height="2.86" fill="#c8e2e2"/>
<rect x="790.5" y="237.39" width="65.0" height="2.24" fill="#4e40f8"/>
<rect x="790.5" y="238.63" width="65.0" height="2.86" fill="#cbf466"/>
<rect x="790.5" y="240.49" width="65.0" height="2.24" fill="#88d476"/>
<rect x="790.5" y="241.73" width="65.0" height="4.72" fill="#e9fb3c"/>
<rect x="790.5" y="245.44" width="65.0" height="2.86" fill="#88d476"/>
<rect x="790.5" y="247.30" width="65.0" height="2.24" fill="#f0d040"/>
<rect x="790.5" y="248.54" width="65.0" height="2.86" fill="#4a4868"/>
<rect x="790.5" y="250.40" width="65.0" height="3.48" fill="#55acf0"/>
<rect x="790.5" y="252.88" width="65.0" height="2.86" fill="#88d476"/>
<rect x="790.5" y="254.73" width="65.0" height="4.10" fill="#e9fb3c"/>
<rect x="790.5" y="257.83" width="65.0" height="2.86" fill="#f0d040"/>
<rect x="790.5" y="259.69" width="65.0" height="2.24" fill="#5892f6"/>
<rect x="790.5" y="260.93" width="65.0" height="2.86" fill="#c8e2e2"/>
<rect x="790.5" y="262.79" width="65.0" height="4.72" fill="#cbf466"/>
<rect x="790.5" y="266.50" width="65.0" height="2.86" fill="#88d476"/>
<rect x="790.5" y="268.36" width="65.0" height="2.86" fill="#55cdc8"/>
<rect x="790.5" y="270.22" width="65.0" height="4.72" fill="#e9fb3c"/>
<rect x="790.5" y="273.94" width="65.0" height="2.86" fill="#55acf0"/>
<rect x="790.5" y="275.80" width="65.0" height="3.48" fill="#5892f6"/>
<rect x="790.5" y="278.27" width="65.0" height="2.86" fill="#4634ee"/>
<rect x="790.5" y="280.13" width="65.0" height="4.10" fill="#55cdc8"/>
<rect x="790.5" y="283.23" width="65.0" height="3.48" fill="#64d4a8"/>
<rect x="790.5" y="285.71" width="65.0" height="2.86" fill="#88d476"/>
<rect x="790.5" y="287.57" width="65.0" height="2.86" fill="#f0d040"/>
<rect x="790.5" y="289.42" width="65.0" height="3.48" fill="#55acf0"/>
<rect x="790.5" y="291.90" width="65.0" height="7.19" fill="#e9fb3c"/>
<rect x="790.5" y="298.10" width="65.0" height="2.86" fill="#5892f6"/>
<rect x="790.5" y="299.96" width="65.0" height="3.48" fill="#4634ee"/>
<rect x="790.5" y="302.43" width="65.0" height="2.86" fill="#c8e2e2"/>
<rect x="790.5" y="304.29" width="65.0" height="2.24" fill="#4e40f8"/>
<rect x="790.5" y="305.53" width="65.0" height="5.96" fill="#55acf0"/>
<rect x="790.5" y="310.49" width="65.0" height="3.48" fill="#5892f6"/>
<rect x="790.5" y="312.96" width="65.0" height="2.86" fill="#55cdc8"/>
<rect x="790.5" y="314.82" width="65.0" height="4.10" fill="#5892f6"/>
<rect x="790.5" y="317.92" width="65.0" height="2.86" fill="#4e40f8"/>
<rect x="790.5" y="319.78" width="65.0" height="3.22" fill="#55cdc8"/>
<rect x="855.5" y="225.00" width="65.20000000000005" height="2.24" fill="#88d476"/>
<rect x="855.5" y="226.24" width="65.20000000000005" height="2.86" fill="#4634ee"/>
<rect x="855.5" y="228.10" width="65.20000000000005" height="2.86" fill="#55acf0"/>
<rect x="855.5" y="229.96" width="65.20000000000005" height="2.86" fill="#88d476"/>
<rect x="855.5" y="231.81" width="65.20000000000005" height="2.86" fill="#c8e2e2"/>
<rect x="855.5" y="233.67" width="65.20000000000005" height="2.86" fill="#f0d040"/>
<rect x="855.5" y="235.53" width="65.20000000000005" height="2.86" fill="#55cdc8"/>
<rect x="855.5" y="237.39" width="65.20000000000005" height="2.24" fill="#4634ee"/>
<rect x="855.5" y="238.63" width="65.20000000000005" height="2.86" fill="#cbf466"/>
<rect x="855.5" y="240.49" width="65.20000000000005" height="2.24" fill="#55acf0"/>
<rect x="855.5" y="241.73" width="65.20000000000005" height="5.96" fill="#4e40f8"/>
<rect x="855.5" y="246.68" width="65.20000000000005" height="2.86" fill="#88d476"/>
<rect x="855.5" y="248.54" width="65.20000000000005" height="2.86" fill="#c8e2e2"/>
<rect x="855.5" y="250.40" width="65.20000000000005" height="4.10" fill="#55acf0"/>
<rect x="855.5" y="253.50" width="65.20000000000005" height="2.86" fill="#5892f6"/>
<rect x="855.5" y="255.35" width="65.20000000000005" height="3.48" fill="#88d476"/>
<rect x="855.5" y="257.83" width="65.20000000000005" height="4.10" fill="#4e40f8"/>
<rect x="855.5" y="260.93" width="65.20000000000005" height="2.86" fill="#f0d040"/>
<rect x="855.5" y="262.79" width="65.20000000000005" height="2.86" fill="#cbf466"/>
<rect x="855.5" y="264.65" width="65.20000000000005" height="2.86" fill="#55cdc8"/>
<rect x="855.5" y="266.50" width="65.20000000000005" height="3.48" fill="#88d476"/>
<rect x="855.5" y="268.98" width="65.20000000000005" height="2.86" fill="#64d4a8"/>
<rect x="855.5" y="270.84" width="65.20000000000005" height="4.10" fill="#f0d040"/>
<rect x="855.5" y="273.94" width="65.20000000000005" height="6.58" fill="#4634ee"/>
<rect x="855.5" y="279.51" width="65.20000000000005" height="2.86" fill="#cbf466"/>
<rect x="855.5" y="281.37" width="65.20000000000005" height="2.86" fill="#88d476"/>
<rect x="855.5" y="283.23" width="65.20000000000005" height="3.48" fill="#55cdc8"/>
<rect x="855.5" y="285.71" width="65.20000000000005" height="3.48" fill="#f0d040"/>
<rect x="855.5" y="288.19" width="65.20000000000005" height="3.48" fill="#55cdc8"/>
<rect x="855.5" y="290.66" width="65.20000000000005" height="2.86" fill="#64d4a8"/>
<rect x="855.5" y="292.52" width="65.20000000000005" height="2.86" fill="#cbf466"/>
<rect x="855.5" y="294.38" width="65.20000000000005" height="4.72" fill="#f0d040"/>
<rect x="855.5" y="298.10" width="65.20000000000005" height="2.86" fill="#4634ee"/>
<rect x="855.5" y="299.96" width="65.20000000000005" height="2.86" fill="#cbf466"/>
<rect x="855.5" y="301.81" width="65.20000000000005" height="2.86" fill="#e9fb3c"/>
<rect x="855.5" y="303.67" width="65.20000000000005" height="4.72" fill="#4e40f8"/>
<rect x="855.5" y="307.39" width="65.20000000000005" height="2.86" fill="#55acf0"/>
<rect x="855.5" y="309.25" width="65.20000000000005" height="2.24" fill="#4a4868"/>
<rect x="855.5" y="310.49" width="65.20000000000005" height="2.86" fill="#c8e2e2"/>
<rect x="855.5" y="312.35" width="65.20000000000005" height="3.48" fill="#5892f6"/>
<rect x="855.5" y="314.82" width="65.20000000000005" height="2.86" fill="#55cdc8"/>
<rect x="855.5" y="316.68" width="65.20000000000005" height="2.86" fill="#4e40f8"/>
<rect x="855.5" y="318.54" width="65.20000000000005" height="4.46" fill="#e9fb3c"/>
<rect x="920.7" y="225.00" width="65.29999999999995" height="2.24" fill="#cbf466"/>
<rect x="920.7" y="226.24" width="65.29999999999995" height="5.34" fill="#5458fb"/>
<rect x="920.7" y="230.58" width="65.29999999999995" height="2.24" fill="#55cdc8"/>
<rect x="920.7" y="231.81" width="65.29999999999995" height="4.10" fill="#f0d040"/>
<rect x="920.7" y="234.91" width="65.29999999999995" height="2.24" fill="#55cdc8"/>
<rect x="920.7" y="236.15" width="65.29999999999995" height="2.86" fill="#4634ee"/>
<rect x="920.7" y="238.01" width="65.29999999999995" height="2.86" fill="#cbf466"/>
<rect x="920.7" y="239.87" width="65.29999999999995" height="2.86" fill="#50c0e4"/>
<rect x="920.7" y="241.73" width="65.29999999999995" height="4.72" fill="#5674fa"/>
<rect x="920.7" y="245.44" width="65.29999999999995" height="2.86" fill="#c8e2e2"/>
<rect x="920.7" y="247.30" width="65.29999999999995" height="2.24" fill="#55cdc8"/>
<rect x="920.7" y="248.54" width="65.29999999999995" height="4.10" fill="#4634ee"/>
<rect x="920.7" y="251.64" width="65.29999999999995" height="3.48" fill="#55acf0"/>
<rect x="920.7" y="254.12" width="65.29999999999995" height="2.86" fill="#88d476"/>
<rect x="920.7" y="255.97" width="65.29999999999995" height="2.86" fill="#55cdc8"/>
<rect x="920.7" y="257.83" width="65.29999999999995" height="2.86" fill="#55acf0"/>
<rect x="920.7" y="259.69" width="65.29999999999995" height="2.86" fill="#c8e2e2"/>
<rect x="920.7" y="261.55" width="65.29999999999995" height="2.86" fill="#55cdc8"/>
<rect x="920.7" y="263.41" width="65.29999999999995" height="3.48" fill="#cbf466"/>
<rect x="920.7" y="265.88" width="65.29999999999995" height="2.86" fill="#55acf0"/>
<rect x="920.7" y="267.74" width="65.29999999999995" height="3.48" fill="#5674fa"/>
<rect x="920.7" y="270.22" width="65.29999999999995" height="2.86" fill="#50c0e4"/>
<rect x="920.7" y="272.08" width="65.29999999999995" height="2.86" fill="#f0d040"/>
<rect x="920.7" y="273.94" width="65.29999999999995" height="6.58" fill="#4634ee"/>
<rect x="920.7" y="279.51" width="65.29999999999995" height="3.48" fill="#cbf466"/>
<rect x="920.7" y="281.99" width="65.29999999999995" height="3.48" fill="#55cdc8"/>
<rect x="920.7" y="284.47" width="65.29999999999995" height="2.86" fill="#cbf466"/>
<rect x="920.7" y="286.33" width="65.29999999999995" height="3.48" fill="#e9fb3c"/>
<rect x="920.7" y="288.81" width="65.29999999999995" height="2.86" fill="#f0d040"/>
<rect x="920.7" y="290.66" width="65.29999999999995" height="2.86" fill="#55cdc8"/>
<rect x="920.7" y="292.52" width="65.29999999999995" height="5.34" fill="#e9fb3c"/>
<rect x="920.7" y="296.86" width="65.29999999999995" height="2.86" fill="#cbf466"/>
<rect x="920.7" y="298.72" width="65.29999999999995" height="2.86" fill="#5892f6"/>
<rect x="920.7" y="300.58" width="65.29999999999995" height="2.86" fill="#5458fb"/>
<rect x="920.7" y="302.43" width="65.29999999999995" height="3.48" fill="#5892f6"/>
<rect x="920.7" y="304.91" width="65.29999999999995" height="2.86" fill="#55acf0"/>
<rect x="920.7" y="306.77" width="65.29999999999995" height="2.86" fill="#cbf466"/>
<rect x="920.7" y="308.63" width="65.29999999999995" height="2.86" fill="#55cdc8"/>
<rect x="920.7" y="310.49" width="65.29999999999995" height="2.86" fill="#c8e2e2"/>
<rect x="920.7" y="312.35" width="65.29999999999995" height="3.48" fill="#55cdc8"/>
<rect x="920.7" y="314.82" width="65.29999999999995" height="5.34" fill="#5892f6"/>
<rect x="920.7" y="319.16" width="65.29999999999995" height="3.84" fill="#55acf0"/>
<rect x="986" y="225.00" width="64.5" height="2.24" fill="#cbf466"/>
<rect x="986" y="226.24" width="64.5" height="4.10" fill="#55cdc8"/>
<rect x="986" y="229.34" width="64.5" height="3.48" fill="#64d4a8"/>
<rect x="986" y="231.81" width="64.5" height="2.86" fill="#f0d040"/>
<rect x="986" y="233.67" width="64.5" height="2.86" fill="#88d476"/>
<rect x="986" y="235.53" width="64.5" height="2.86" fill="#55acf0"/>
<rect x="986" y="237.39" width="64.5" height="2.86" fill="#f0d040"/>
<rect x="986" y="239.25" width="64.5" height="2.86" fill="#50c0e4"/>
<rect x="986" y="241.11" width="64.5" height="5.34" fill="#5458fb"/>
<rect x="986" y="245.44" width="64.5" height="4.10" fill="#55cdc8"/>
<rect x="986" y="248.54" width="64.5" height="4.10" fill="#55acf0"/>
<rect x="986" y="251.64" width="64.5" height="4.10" fill="#5892f6"/>
<rect x="986" y="254.73" width="64.5" height="2.86" fill="#4e40f8"/>
<rect x="986" y="256.59" width="64.5" height="2.86" fill="#55cdc8"/>
<rect x="986" y="258.45" width="64.5" height="2.86" fill="#c8e2e2"/>
<rect x="986" y="260.31" width="64.5" height="2.86" fill="#55cdc8"/>
<rect x="986" y="262.17" width="64.5" height="2.86" fill="#c8e2e2"/>
<rect x="986" y="264.03" width="64.5" height="2.86" fill="#4a4868"/>
<rect x="986" y="265.88" width="64.5" height="3.48" fill="#5892f6"/>
<rect x="986" y="268.36" width="64.5" height="3.48" fill="#55cdc8"/>
<rect x="986" y="270.84" width="64.5" height="2.86" fill="#f0d040"/>
<rect x="986" y="272.70" width="64.5" height="2.86" fill="#55cdc8"/>
<rect x="986" y="274.56" width="64.5" height="2.24" fill="#4634ee"/>
<rect x="986" y="275.80" width="64.5" height="3.48" fill="#cbf466"/>
<rect x="986" y="278.27" width="64.5" height="2.86" fill="#4634ee"/>
<rect x="986" y="280.13" width="64.5" height="4.10" fill="#55acf0"/>
<rect x="986" y="283.23" width="64.5" height="3.48" fill="#5892f6"/>
<rect x="986" y="285.71" width="64.5" height="2.86" fill="#f0d040"/>
<rect x="986" y="287.57" width="64.5" height="4.10" fill="#55cdc8"/>
<rect x="986" y="290.66" width="64.5" height="4.10" fill="#f0d040"/>
<rect x="986" y="293.76" width="64.5" height="2.86" fill="#64d4a8"/>
<rect x="986" y="295.62" width="64.5" height="3.48" fill="#cbf466"/>
<rect x="986" y="298.10" width="64.5" height="2.86" fill="#f0d040"/>
<rect x="986" y="299.96" width="64.5" height="2.86" fill="#4634ee"/>
<rect x="986" y="301.81" width="64.5" height="2.24" fill="#c8e2e2"/>
<rect x="986" y="303.05" width="64.5" height="2.86" fill="#4a4868"/>
<rect x="986" y="304.91" width="64.5" height="2.86" fill="#c8e2e2"/>
<rect x="986" y="306.77" width="64.5" height="3.48" fill="#88d476"/>
<rect x="986" y="309.25" width="64.5" height="3.48" fill="#55acf0"/>
<rect x="986" y="311.73" width="64.5" height="2.86" fill="#5892f6"/>
<rect x="986" y="313.58" width="64.5" height="3.48" fill="#4634ee"/>
<rect x="986" y="316.06" width="64.5" height="3.48" fill="#55cdc8"/>
<rect x="986" y="318.54" width="64.5" height="4.46" fill="#64d4a8"/>
<rect x="790.5" y="323.00" width="65.0" height="3.48" fill="#cbf466"/>
<rect x="790.5" y="325.48" width="65.0" height="2.24" fill="#4634ee"/>
<rect x="790.5" y="326.72" width="65.0" height="6.58" fill="#5458fb"/>
<rect x="790.5" y="332.29" width="65.0" height="5.34" fill="#55acf0"/>
<rect x="790.5" y="336.63" width="65.0" height="7.19" fill="#5458fb"/>
<rect x="790.5" y="342.82" width="65.0" height="2.24" fill="#4a4868"/>
<rect x="790.5" y="344.06" width="65.0" height="2.24" fill="#c8e2e2"/>
<rect x="790.5" y="345.30" width="65.0" height="2.86" fill="#4634ee"/>
<rect x="790.5" y="347.16" width="65.0" height="3.48" fill="#5892f6"/>
<rect x="790.5" y="349.64" width="65.0" height="2.86" fill="#55cdc8"/>
<rect x="790.5" y="351.50" width="65.0" height="2.86" fill="#cbf466"/>
<rect x="790.5" y="353.35" width="65.0" height="3.48" fill="#e9fb3c"/>
<rect x="790.5" y="355.83" width="65.0" height="3.48" fill="#88d476"/>
<rect x="790.5" y="358.31" width="65.0" height="2.86" fill="#cbf466"/>
<rect x="790.5" y="360.17" width="65.0" height="4.72" fill="#e9fb3c"/>
<rect x="790.5" y="363.88" width="65.0" height="2.24" fill="#5892f6"/>
<rect x="790.5" y="365.12" width="65.0" height="2.86" fill="#4634ee"/>
<rect x="790.5" y="366.98" width="65.0" height="4.10" fill="#55cdc8"/>
<rect x="790.5" y="370.08" width="65.0" height="2.86" fill="#cbf466"/>
<rect x="790.5" y="371.94" width="65.0" height="2.86" fill="#88d476"/>
<rect x="790.5" y="373.80" width="65.0" height="3.48" fill="#55cdc8"/>
<rect x="790.5" y="376.27" width="65.0" height="4.10" fill="#55acf0"/>
<rect x="790.5" y="379.37" width="65.0" height="2.86" fill="#5892f6"/>
<rect x="790.5" y="381.23" width="65.0" height="3.48" fill="#88d476"/>
<rect x="790.5" y="383.71" width="65.0" height="2.86" fill="#cbf466"/>
<rect x="790.5" y="385.57" width="65.0" height="2.86" fill="#f0d040"/>
<rect x="790.5" y="387.42" width="65.0" height="2.86" fill="#4a4868"/>
<rect x="790.5" y="389.28" width="65.0" height="2.24" fill="#c8e2e2"/>
<rect x="790.5" y="390.52" width="65.0" height="2.86" fill="#f0d040"/>
<rect x="790.5" y="392.38" width="65.0" height="2.86" fill="#4634ee"/>
<rect x="790.5" y="394.24" width="65.0" height="3.48" fill="#5892f6"/>
<rect x="790.5" y="396.72" width="65.0" height="4.10" fill="#4634ee"/>
<rect x="790.5" y="399.81" width="65.0" height="3.48" fill="#5892f6"/>
<rect x="790.5" y="402.29" width="65.0" height="2.86" fill="#4e40f8"/>
<rect x="790.5" y="404.15" width="65.0" height="2.24" fill="#c8e2e2"/>
<rect x="790.5" y="405.39" width="65.0" height="2.86" fill="#4a4868"/>
<rect x="790.5" y="407.25" width="65.0" height="3.48" fill="#88d476"/>
<rect x="790.5" y="409.73" width="65.0" height="2.86" fill="#cbf466"/>
<rect x="790.5" y="411.58" width="65.0" height="3.48" fill="#5892f6"/>
<rect x="790.5" y="414.06" width="65.0" height="4.10" fill="#5458fb"/>
<rect x="790.5" y="417.16" width="65.0" height="2.86" fill="#55cdc8"/>
<rect x="790.5" y="419.02" width="65.0" height="1.98" fill="#88d476"/>
<rect x="855.5" y="323.00" width="65.20000000000005" height="2.86" fill="#4a4868"/>
<rect x="855.5" y="324.86" width="65.20000000000005" height="2.24" fill="#c8e2e2"/>
<rect x="855.5" y="326.10" width="65.20000000000005" height="4.10" fill="#55cdc8"/>
<rect x="855.5" y="329.19" width="65.20000000000005" height="2.24" fill="#50c0e4"/>
<rect x="855.5" y="330.43" width="65.20000000000005" height="2.86" fill="#4634ee"/>
<rect x="855.5" y="332.29" width="65.20000000000005" height="2.86" fill="#55acf0"/>
<rect x="855.5" y="334.15" width="65.20000000000005" height="3.48" fill="#4e40f8"/>
<rect x="855.5" y="336.63" width="65.20000000000005" height="3.48" fill="#55cdc8"/>
<rect x="855.5" y="339.11" width="65.20000000000005" height="2.86" fill="#55acf0"/>
<rect x="855.5" y="340.96" width="65.20000000000005" height="3.48" fill="#4634ee"/>
<rect x="855.5" y="343.44" width="65.20000000000005" height="2.86" fill="#c8e2e2"/>
<rect x="855.5" y="345.30" width="65.20000000000005" height="2.86" fill="#4a4868"/>
<rect x="855.5" y="347.16" width="65.20000000000005" height="4.72" fill="#cbf466"/>
<rect x="855.5" y="350.88" width="65.20000000000005" height="2.86" fill="#88d476"/>
<rect x="855.5" y="352.73" width="65.20000000000005" height="4.10" fill="#e9fb3c"/>
<rect x="855.5" y="355.83" width="65.20000000000005" height="5.34" fill="#88d476"/>
<rect x="855.5" y="360.17" width="65.20000000000005" height="6.58" fill="#e9fb3c"/>
<rect x="855.5" y="365.74" width="65.20000000000005" height="2.86" fill="#cbf466"/>
<rect x="855.5" y="367.60" width="65.20000000000005" height="5.96" fill="#88d476"/>
<rect x="855.5" y="372.56" width="65.20000000000005" height="2.86" fill="#e9fb3c"/>
<rect x="855.5" y="374.42" width="65.20000000000005" height="2.86" fill="#55cdc8"/>
<rect x="855.5" y="376.27" width="65.20000000000005" height="2.86" fill="#f0d040"/>
<rect x="855.5" y="378.13" width="65.20000000000005" height="3.48" fill="#55cdc8"/>
<rect x="855.5" y="380.61" width="65.20000000000005" height="2.86" fill="#55acf0"/>
<rect x="855.5" y="382.47" width="65.20000000000005" height="3.48" fill="#e9fb3c"/>
<rect x="855.5" y="384.95" width="65.20000000000005" height="3.48" fill="#f0d040"/>
<rect x="855.5" y="387.42" width="65.20000000000005" height="2.86" fill="#4a4868"/>
<rect x="855.5" y="389.28" width="65.20000000000005" height="2.24" fill="#c8e2e2"/>
<rect x="855.5" y="390.52" width="65.20000000000005" height="2.86" fill="#f0d040"/>
<rect x="855.5" y="392.38" width="65.20000000000005" height="2.86" fill="#55acf0"/>
<rect x="855.5" y="394.24" width="65.20000000000005" height="4.10" fill="#5892f6"/>
<rect x="855.5" y="397.34" width="65.20000000000005" height="4.72" fill="#4e40f8"/>
<rect x="855.5" y="401.05" width="65.20000000000005" height="3.48" fill="#5892f6"/>
<rect x="855.5" y="403.53" width="65.20000000000005" height="2.86" fill="#55acf0"/>
<rect x="855.5" y="405.39" width="65.20000000000005" height="2.86" fill="#88d476"/>
<rect x="855.5" y="407.25" width="65.20000000000005" height="3.48" fill="#f0d040"/>
<rect x="855.5" y="409.73" width="65.20000000000005" height="3.48" fill="#cbf466"/>
<rect x="855.5" y="412.20" width="65.20000000000005" height="3.48" fill="#5892f6"/>
<rect x="855.5" y="414.68" width="65.20000000000005" height="3.48" fill="#55cdc8"/>
<rect x="855.5" y="417.16" width="65.20000000000005" height="2.86" fill="#5458fb"/>
<rect x="855.5" y="419.02" width="65.20000000000005" height="1.98" fill="#55acf0"/>
<rect x="920.7" y="323.00" width="65.29999999999995" height="2.86" fill="#55acf0"/>
<rect x="920.7" y="324.86" width="65.29999999999995" height="3.48" fill="#50c0e4"/>
<rect x="920.7" y="327.34" width="65.29999999999995" height="5.34" fill="#4e40f8"/>
<rect x="920.7" y="331.67" width="65.29999999999995" height="5.96" fill="#50c0e4"/>
<rect x="920.7" y="336.63" width="65.29999999999995" height="2.86" fill="#5892f6"/>
<rect x="920.7" y="338.49" width="65.29999999999995" height="2.24" fill="#4a4868"/>
<rect x="920.7" y="339.73" width="65.29999999999995" height="2.24" fill="#c8e2e2"/>
<rect x="920.7" y="340.96" width="65.29999999999995" height="3.48" fill="#4634ee"/>
<rect x="920.7" y="343.44" width="65.29999999999995" height="2.24" fill="#4a4868"/>
<rect x="920.7" y="344.68" width="65.29999999999995" height="2.24" fill="#c8e2e2"/>
<rect x="920.7" y="345.92" width="65.29999999999995" height="2.86" fill="#5892f6"/>
<rect x="920.7" y="347.78" width="65.29999999999995" height="4.10" fill="#88d476"/>
<rect x="920.7" y="350.88" width="65.29999999999995" height="3.48" fill="#e9fb3c"/>
<rect x="920.7" y="353.35" width="65.29999999999995" height="2.86" fill="#55cdc8"/>
<rect x="920.7" y="355.21" width="65.29999999999995" height="4.72" fill="#cbf466"/>
<rect x="920.7" y="358.93" width="65.29999999999995" height="5.96" fill="#e9fb3c"/>
<rect x="920.7" y="363.88" width="65.29999999999995" height="2.86" fill="#64d4a8"/>
<rect x="920.7" y="365.74" width="65.29999999999995" height="4.72" fill="#55cdc8"/>
<rect x="920.7" y="369.46" width="65.29999999999995" height="2.86" fill="#55acf0"/>
<rect x="920.7" y="371.32" width="65.29999999999995" height="2.86" fill="#88d476"/>
<rect x="920.7" y="373.18" width="65.29999999999995" height="2.86" fill="#cbf466"/>
<rect x="920.7" y="375.04" width="65.29999999999995" height="4.10" fill="#55cdc8"/>
<rect x="920.7" y="378.13" width="65.29999999999995" height="3.48" fill="#55acf0"/>
<rect x="920.7" y="380.61" width="65.29999999999995" height="3.48" fill="#5892f6"/>
<rect x="920.7" y="383.09" width="65.29999999999995" height="4.10" fill="#cbf466"/>
<rect x="920.7" y="386.19" width="65.29999999999995" height="2.24" fill="#c8e2e2"/>
<rect x="920.7" y="387.42" width="65.29999999999995" height="2.86" fill="#4634ee"/>
<rect x="920.7" y="389.28" width="65.29999999999995" height="2.86" fill="#c8e2e2"/>
<rect x="920.7" y="391.14" width="65.29999999999995" height="4.10" fill="#e9fb3c"/>
<rect x="920.7" y="394.24" width="65.29999999999995" height="2.86" fill="#5892f6"/>
<rect x="920.7" y="396.10" width="65.29999999999995" height="3.48" fill="#50c0e4"/>
<rect x="920.7" y="398.58" width="65.29999999999995" height="2.86" fill="#88d476"/>
<rect x="920.7" y="400.43" width="65.29999999999995" height="2.86" fill="#e9fb3c"/>
<rect x="920.7" y="402.29" width="65.29999999999995" height="3.48" fill="#5892f6"/>
<rect x="920.7" y="404.77" width="65.29999999999995" height="3.48" fill="#55acf0"/>
<rect x="920.7" y="407.25" width="65.29999999999995" height="2.86" fill="#55cdc8"/>
<rect x="920.7" y="409.11" width="65.29999999999995" height="3.48" fill="#e9fb3c"/>
<rect x="920.7" y="411.58" width="65.29999999999995" height="4.10" fill="#5892f6"/>
<rect x="920.7" y="414.68" width="65.29999999999995" height="3.48" fill="#55acf0"/>
<rect x="920.7" y="417.16" width="65.29999999999995" height="2.86" fill="#55cdc8"/>
<rect x="920.7" y="419.02" width="65.29999999999995" height="1.98" fill="#cbf466"/>
<rect x="986" y="323.00" width="64.5" height="3.48" fill="#64d4a8"/>
<rect x="986" y="325.48" width="64.5" height="2.24" fill="#e9fb3c"/>
<rect x="986" y="326.72" width="64.5" height="6.58" fill="#5458fb"/>
<rect x="986" y="332.29" width="64.5" height="3.48" fill="#88d476"/>
<rect x="986" y="334.77" width="64.5" height="2.86" fill="#5458fb"/>
<rect x="986" y="336.63" width="64.5" height="3.48" fill="#5892f6"/>
<rect x="986" y="339.11" width="64.5" height="3.48" fill="#55acf0"/>
<rect x="986" y="341.58" width="64.5" height="2.24" fill="#4e40f8"/>
<rect x="986" y="342.82" width="64.5" height="2.86" fill="#4a4868"/>
<rect x="986" y="344.68" width="64.5" height="2.24" fill="#c8e2e2"/>
<rect x="986" y="345.92" width="64.5" height="5.34" fill="#4634ee"/>
<rect x="986" y="350.26" width="64.5" height="2.24" fill="#cbf466"/>
<rect x="986" y="351.50" width="64.5" height="3.48" fill="#e9fb3c"/>
<rect x="986" y="353.97" width="64.5" height="2.86" fill="#4e40f8"/>
<rect x="986" y="355.83" width="64.5" height="2.86" fill="#c8e2e2"/>
<rect x="986" y="357.69" width="64.5" height="2.86" fill="#55cdc8"/>
<rect x="986" y="359.55" width="64.5" height="4.10" fill="#55acf0"/>
<rect x="986" y="362.65" width="64.5" height="3.48" fill="#88d476"/>
<rect x="986" y="365.12" width="64.5" height="4.10" fill="#55acf0"/>
<rect x="986" y="368.22" width="64.5" height="4.10" fill="#55cdc8"/>
<rect x="986" y="371.32" width="64.5" height="5.96" fill="#e9fb3c"/>
<rect x="986" y="376.27" width="64.5" height="3.48" fill="#5892f6"/>
<rect x="986" y="378.75" width="64.5" height="3.48" fill="#55acf0"/>
<rect x="986" y="381.23" width="64.5" height="3.48" fill="#88d476"/>
<rect x="986" y="383.71" width="64.5" height="3.48" fill="#55acf0"/>
<rect x="986" y="386.19" width="64.5" height="2.24" fill="#c8e2e2"/>
<rect x="986" y="387.42" width="64.5" height="2.86" fill="#4634ee"/>
<rect x="986" y="389.28" width="64.5" height="3.48" fill="#88d476"/>
<rect x="986" y="391.76" width="64.5" height="3.48" fill="#55acf0"/>
<rect x="986" y="394.24" width="64.5" height="5.34" fill="#4e40f8"/>
<rect x="986" y="398.58" width="64.5" height="2.86" fill="#5458fb"/>
<rect x="986" y="400.43" width="64.5" height="3.48" fill="#55cdc8"/>
<rect x="986" y="402.91" width="64.5" height="4.10" fill="#5892f6"/>
<rect x="986" y="406.01" width="64.5" height="3.48" fill="#4e40f8"/>
<rect x="986" y="408.49" width="64.5" height="3.48" fill="#55acf0"/>
<rect x="986" y="410.96" width="64.5" height="2.86" fill="#e9fb3c"/>
<rect x="986" y="412.82" width="64.5" height="5.34" fill="#5458fb"/>
<rect x="986" y="417.16" width="64.5" height="2.86" fill="#55acf0"/>
<rect x="986" y="419.02" width="64.5" height="1.98" fill="#e9fb3c"/>
<rect x="790.5" y="421.00" width="65.0" height="2.24" fill="#88d476"/>
<rect x="790.5" y="422.24" width="65.0" height="2.24" fill="#5892f6"/>
<rect x="790.5" y="423.48" width="65.0" height="2.86" fill="#cbf466"/>
<rect x="790.5" y="425.34" width="65.0" height="2.86" fill="#55cdc8"/>
<rect x="790.5" y="427.19" width="65.0" height="5.96" fill="#4634ee"/>
<rect x="790.5" y="432.15" width="65.0" height="2.86" fill="#cbf466"/>
<rect x="790.5" y="434.01" width="65.0" height="3.48" fill="#5892f6"/>
<rect x="790.5" y="436.49" width="65.0" height="2.24" fill="#50c0e4"/>
<rect x="790.5" y="437.73" width="65.0" height="4.10" fill="#4634ee"/>
<rect x="790.5" y="440.82" width="65.0" height="4.10" fill="#e9fb3c"/>
<rect x="790.5" y="443.92" width="65.0" height="2.86" fill="#55acf0"/>
<rect x="790.5" y="445.78" width="65.0" height="3.48" fill="#4e40f8"/>
<rect x="790.5" y="448.26" width="65.0" height="4.10" fill="#5892f6"/>
<rect x="790.5" y="451.35" width="65.0" height="3.48" fill="#cbf466"/>
<rect x="790.5" y="453.83" width="65.0" height="4.10" fill="#4634ee"/>
<rect x="790.5" y="456.93" width="65.0" height="2.86" fill="#50c0e4"/>
<rect x="790.5" y="458.79" width="65.0" height="2.86" fill="#55acf0"/>
<rect x="790.5" y="460.65" width="65.0" height="5.96" fill="#4634ee"/>
<rect x="790.5" y="465.60" width="65.0" height="2.86" fill="#cbf466"/>
<rect x="790.5" y="467.46" width="65.0" height="2.86" fill="#55cdc8"/>
<rect x="790.5" y="469.32" width="65.0" height="3.48" fill="#88d476"/>
<rect x="790.5" y="471.80" width="65.0" height="2.24" fill="#55cdc8"/>
<rect x="790.5" y="473.04" width="65.0" height="3.48" fill="#e9fb3c"/>
<rect x="790.5" y="475.51" width="65.0" height="2.86" fill="#f0d040"/>
<rect x="790.5" y="477.37" width="65.0" height="2.86" fill="#4634ee"/>
<rect x="790.5" y="479.23" width="65.0" height="6.58" fill="#5892f6"/>
<rect x="790.5" y="484.81" width="65.0" height="2.86" fill="#88d476"/>
<rect x="790.5" y="486.66" width="65.0" height="2.86" fill="#cbf466"/>
<rect x="790.5" y="488.52" width="65.0" height="2.86" fill="#4e40f8"/>
<rect x="790.5" y="490.38" width="65.0" height="3.48" fill="#5892f6"/>
<rect x="790.5" y="492.86" width="65.0" height="2.86" fill="#55cdc8"/>
<rect x="790.5" y="494.72" width="65.0" height="3.48" fill="#55acf0"/>
<rect x="790.5" y="497.19" width="65.0" height="5.96" fill="#5892f6"/>
<rect x="790.5" y="502.15" width="65.0" height="3.48" fill="#50c0e4"/>
<rect x="790.5" y="504.63" width="65.0" height="2.86" fill="#55acf0"/>
<rect x="790.5" y="506.49" width="65.0" height="7.19" fill="#4634ee"/>
<rect x="790.5" y="512.68" width="65.0" height="2.86" fill="#4a4868"/>
<rect x="790.5" y="514.54" width="65.0" height="2.86" fill="#55cdc8"/>
<rect x="790.5" y="516.40" width="65.0" height="2.86" fill="#88d476"/>
<rect x="790.5" y="518.26" width="65.0" height="0.74" fill="#4a4868"/>
<rect x="855.5" y="421.00" width="65.20000000000005" height="3.48" fill="#4634ee"/>
<rect x="855.5" y="423.48" width="65.20000000000005" height="2.86" fill="#4e40f8"/>
<rect x="855.5" y="425.34" width="65.20000000000005" height="2.24" fill="#c8e2e2"/>
<rect x="855.5" y="426.58" width="65.20000000000005" height="2.86" fill="#5892f6"/>
<rect x="855.5" y="428.43" width="65.20000000000005" height="3.48" fill="#50c0e4"/>
<rect x="855.5" y="430.91" width="65.20000000000005" height="2.86" fill="#5458fb"/>
<rect x="855.5" y="432.77" width="65.20000000000005" height="5.34" fill="#55acf0"/>
<rect x="855.5" y="437.11" width="65.20000000000005" height="3.48" fill="#5892f6"/>
<rect x="855.5" y="439.58" width="65.20000000000005" height="2.24" fill="#88d476"/>
<rect x="855.5" y="440.82" width="65.20000000000005" height="4.10" fill="#e9fb3c"/>
<rect x="855.5" y="443.92" width="65.20000000000005" height="2.24" fill="#55cdc8"/>
<rect x="855.5" y="445.16" width="65.20000000000005" height="5.34" fill="#50c0e4"/>
<rect x="855.5" y="449.50" width="65.20000000000005" height="2.86" fill="#5458fb"/>
<rect x="855.5" y="451.35" width="65.20000000000005" height="3.48" fill="#55cdc8"/>
<rect x="855.5" y="453.83" width="65.20000000000005" height="4.10" fill="#55acf0"/>
<rect x="855.5" y="456.93" width="65.20000000000005" height="4.72" fill="#50c0e4"/>
<rect x="855.5" y="460.65" width="65.20000000000005" height="2.86" fill="#4634ee"/>
<rect x="855.5" y="462.50" width="65.20000000000005" height="4.10" fill="#55acf0"/>
<rect x="855.5" y="465.60" width="65.20000000000005" height="4.72" fill="#5892f6"/>
<rect x="855.5" y="469.32" width="65.20000000000005" height="4.72" fill="#55cdc8"/>
<rect x="855.5" y="473.04" width="65.20000000000005" height="5.96" fill="#e9fb3c"/>
<rect x="855.5" y="477.99" width="65.20000000000005" height="2.86" fill="#4634ee"/>
<rect x="855.5" y="479.85" width="65.20000000000005" height="2.86" fill="#50c0e4"/>
<rect x="855.5" y="481.71" width="65.20000000000005" height="2.86" fill="#4e40f8"/>
<rect x="855.5" y="483.57" width="65.20000000000005" height="2.86" fill="#55acf0"/>
<rect x="855.5" y="485.42" width="65.20000000000005" height="2.86" fill="#88d476"/>
<rect x="855.5" y="487.28" width="65.20000000000005" height="2.86" fill="#55acf0"/>
<rect x="855.5" y="489.14" width="65.20000000000005" height="3.48" fill="#4634ee"/>
<rect x="855.5" y="491.62" width="65.20000000000005" height="4.72" fill="#88d476"/>
<rect x="855.5" y="495.34" width="65.20000000000005" height="5.96" fill="#5892f6"/>
<rect x="855.5" y="500.29" width="65.20000000000005" height="3.48" fill="#55acf0"/>
<rect x="855.5" y="502.77" width="65.20000000000005" height="4.72" fill="#50c0e4"/>
<rect x="855.5" y="506.49" width="65.20000000000005" height="3.48" fill="#4e40f8"/>
<rect x="855.5" y="508.96" width="65.20000000000005" height="3.48" fill="#5892f6"/>
<rect x="855.5" y="511.44" width="65.20000000000005" height="2.86" fill="#88d476"/>
<rect x="855.5" y="513.30" width="65.20000000000005" height="2.86" fill="#cbf466"/>
<rect x="855.5" y="515.16" width="65.20000000000005" height="4.10" fill="#55acf0"/>
<rect x="855.5" y="518.26" width="65.20000000000005" height="0.74" fill="#4a4868"/>
<rect x="920.7" y="421.00" width="65.29999999999995" height="2.24" fill="#88d476"/>
<rect x="920.7" y="422.24" width="65.29999999999995" height="2.86" fill="#4634ee"/>
<rect x="920.7" y="424.10" width="65.29999999999995" height="2.24" fill="#f0d040"/>
<rect x="920.7" y="425.34" width="65.29999999999995" height="3.48" fill="#55acf0"/>
<rect x="920.7" y="427.81" width="65.29999999999995" height="4.72" fill="#4e40f8"/>
<rect x="920.7" y="431.53" width="65.29999999999995" height="2.86" fill="#f0d040"/>
<rect x="920.7" y="433.39" width="65.29999999999995" height="2.86" fill="#55acf0"/>
<rect x="920.7" y="435.25" width="65.29999999999995" height="4.10" fill="#55cdc8"/>
<rect x="920.7" y="438.35" width="65.29999999999995" height="2.86" fill="#4634ee"/>
<rect x="920.7" y="440.20" width="65.29999999999995" height="4.72" fill="#e9fb3c"/>
<rect x="920.7" y="443.92" width="65.29999999999995" height="2.86" fill="#55acf0"/>
<rect x="920.7" y="445.78" width="65.29999999999995" height="2.86" fill="#5458fb"/>
<rect x="920.7" y="447.64" width="65.29999999999995" height="2.86" fill="#c8e2e2"/>
<rect x="920.7" y="449.50" width="65.29999999999995" height="2.86" fill="#5892f6"/>
<rect x="920.7" y="451.35" width="65.29999999999995" height="3.48" fill="#55acf0"/>
<rect x="920.7" y="453.83" width="65.29999999999995" height="2.86" fill="#4634ee"/>
<rect x="920.7" y="455.69" width="65.29999999999995" height="3.48" fill="#88d476"/>
<rect x="920.7" y="458.17" width="65.29999999999995" height="2.86" fill="#55acf0"/>
<rect x="920.7" y="460.03" width="65.29999999999995" height="3.48" fill="#4634ee"/>
<rect x="920.7" y="462.50" width="65.29999999999995" height="5.34" fill="#5892f6"/>
<rect x="920.7" y="466.84" width="65.29999999999995" height="3.48" fill="#cbf466"/>
<rect x="920.7" y="469.32" width="65.29999999999995" height="2.86" fill="#55cdc8"/>
<rect x="920.7" y="471.18" width="65.29999999999995" height="2.86" fill="#c8e2e2"/>
<rect x="920.7" y="473.04" width="65.29999999999995" height="2.24" fill="#55cdc8"/>
<rect x="920.7" y="474.27" width="65.29999999999995" height="4.10" fill="#e9fb3c"/>
<rect x="920.7" y="477.37" width="65.29999999999995" height="2.86" fill="#4634ee"/>
<rect x="920.7" y="479.23" width="65.29999999999995" height="5.96" fill="#55acf0"/>
<rect x="920.7" y="484.19" width="65.29999999999995" height="3.48" fill="#cbf466"/>
<rect x="920.7" y="486.66" width="65.29999999999995" height="2.24" fill="#55acf0"/>
<rect x="920.7" y="487.90" width="65.29999999999995" height="2.24" fill="#4a4868"/>
<rect x="920.7" y="489.14" width="65.29999999999995" height="3.48" fill="#e9fb3c"/>
<rect x="920.7" y="491.62" width="65.29999999999995" height="4.72" fill="#f0d040"/>
<rect x="920.7" y="495.34" width="65.29999999999995" height="2.86" fill="#88d476"/>
<rect x="920.7" y="497.19" width="65.29999999999995" height="4.10" fill="#55acf0"/>
<rect x="920.7" y="500.29" width="65.29999999999995" height="8.43" fill="#50c0e4"/>
<rect x="920.7" y="507.73" width="65.29999999999995" height="2.86" fill="#cbf466"/>
<rect x="920.7" y="509.58" width="65.29999999999995" height="2.86" fill="#5892f6"/>
<rect x="920.7" y="511.44" width="65.29999999999995" height="2.86" fill="#4e40f8"/>
<rect x="920.7" y="513.30" width="65.29999999999995" height="2.86" fill="#f0d040"/>
<rect x="920.7" y="515.16" width="65.29999999999995" height="4.10" fill="#55cdc8"/>
<rect x="920.7" y="518.26" width="65.29999999999995" height="0.74" fill="#4a4868"/>
<rect x="986" y="421.00" width="64.5" height="2.24" fill="#e9fb3c"/>
<rect x="986" y="422.24" width="64.5" height="2.86" fill="#4634ee"/>
<rect x="986" y="424.10" width="64.5" height="2.86" fill="#55acf0"/>
<rect x="986" y="425.96" width="64.5" height="4.10" fill="#50c0e4"/>
<rect x="986" y="429.05" width="64.5" height="3.48" fill="#4634ee"/>
<rect x="986" y="431.53" width="64.5" height="2.86" fill="#cbf466"/>
<rect x="986" y="433.39" width="64.5" height="2.86" fill="#55cdc8"/>
<rect x="986" y="435.25" width="64.5" height="3.48" fill="#55acf0"/>
<rect x="986" y="437.73" width="64.5" height="2.86" fill="#4634ee"/>
<rect x="986" y="439.58" width="64.5" height="5.34" fill="#cbf466"/>
<rect x="986" y="443.92" width="64.5" height="2.86" fill="#4634ee"/>
<rect x="986" y="445.78" width="64.5" height="5.96" fill="#4e40f8"/>
<rect x="986" y="450.73" width="64.5" height="4.10" fill="#88d476"/>
<rect x="986" y="453.83" width="64.5" height="2.86" fill="#55acf0"/>
<rect x="986" y="455.69" width="64.5" height="3.48" fill="#55cdc8"/>
<rect x="986" y="458.17" width="64.5" height="4.72" fill="#4e40f8"/>
<rect x="986" y="461.88" width="64.5" height="4.10" fill="#5892f6"/>
<rect x="986" y="464.98" width="64.5" height="6.58" fill="#55cdc8"/>
<rect x="986" y="470.56" width="64.5" height="7.81" fill="#e9fb3c"/>
<rect x="986" y="477.37" width="64.5" height="3.48" fill="#4634ee"/>
<rect x="986" y="479.85" width="64.5" height="3.48" fill="#88d476"/>
<rect x="986" y="482.33" width="64.5" height="2.86" fill="#5892f6"/>
<rect x="986" y="484.19" width="64.5" height="2.86" fill="#c8e2e2"/>
<rect x="986" y="486.04" width="64.5" height="3.48" fill="#5892f6"/>
<rect x="986" y="488.52" width="64.5" height="4.72" fill="#55cdc8"/>
<rect x="986" y="492.24" width="64.5" height="2.86" fill="#4634ee"/>
<rect x="986" y="494.10" width="64.5" height="2.86" fill="#5892f6"/>
<rect x="986" y="495.96" width="64.5" height="8.43" fill="#55acf0"/>
<rect x="986" y="503.39" width="64.5" height="4.10" fill="#88d476"/>
<rect x="986" y="506.49" width="64.5" height="2.86" fill="#55acf0"/>
<rect x="986" y="508.35" width="64.5" height="3.48" fill="#4634ee"/>
<rect x="986" y="510.82" width="64.5" height="3.48" fill="#5892f6"/>
<rect x="986" y="513.30" width="64.5" height="2.86" fill="#55cdc8"/>
<rect x="986" y="515.16" width="64.5" height="4.10" fill="#55acf0"/>
<rect x="986" y="518.26" width="64.5" height="0.74" fill="#4a4868"/>
<rect x="126" y="580.00" width="65" height="98.00" fill="#e9fb3c"/>
<rect x="191" y="580.00" width="65" height="8.38" fill="#4634ee"/>
<rect x="191" y="587.38" width="65" height="7.15" fill="#4e40f8"/>
<rect x="191" y="593.53" width="65" height="2.23" fill="#3c28dc"/>
<rect x="191" y="594.76" width="65" height="6.53" fill="#4e40f8"/>
<rect x="191" y="600.29" width="65" height="4.07" fill="#5458fb"/>
<rect x="191" y="603.36" width="65" height="4.07" fill="#4e40f8"/>
<rect x="191" y="606.44" width="65" height="2.84" fill="#4634ee"/>
<rect x="191" y="608.28" width="65" height="3.46" fill="#4e40f8"/>
<rect x="191" y="610.74" width="65" height="4.07" fill="#4634ee"/>
<rect x="191" y="613.81" width="65" height="10.22" fill="#5458fb"/>
<rect x="191" y="623.04" width="65" height="2.84" fill="#4634ee"/>
<rect x="191" y="624.88" width="65" height="5.30" fill="#5458fb"/>
<rect x="191" y="629.18" width="65" height="5.92" fill="#5674fa"/>
<rect x="191" y="634.10" width="65" height="3.46" fill="#5458fb"/>
<rect x="191" y="636.56" width="65" height="3.46" fill="#5674fa"/>
<rect x="191" y="639.02" width="65" height="3.46" fill="#4e40f8"/>
<rect x="191" y="641.48" width="65" height="3.46" fill="#5892f6"/>
<rect x="191" y="643.94" width="65" height="4.69" fill="#5458fb"/>
<rect x="191" y="647.63" width="65" height="2.23" fill="#4634ee"/>
<rect x="191" y="648.86" width="65" height="4.69" fill="#5674fa"/>
<rect x="191" y="652.55" width="65" height="4.69" fill="#4e40f8"/>
<rect x="191" y="656.24" width="65" height="5.92" fill="#5892f6"/>
<rect x="191" y="661.15" width="65" height="4.69" fill="#5674fa"/>
<rect x="191" y="664.84" width="65" height="2.23" fill="#5458fb"/>
<rect x="191" y="666.07" width="65" height="5.30" fill="#50c0e4"/>
<rect x="191" y="670.38" width="65" height="2.84" fill="#3c28dc"/>
<rect x="191" y="672.22" width="65" height="5.78" fill="#55cdc8"/>
<rect x="256" y="580.00" width="65" height="3.46" fill="#4634ee"/>
<rect x="256" y="582.46" width="65" height="3.46" fill="#3c28dc"/>
<rect x="256" y="584.92" width="65" height="5.92" fill="#4634ee"/>
<rect x="256" y="589.84" width="65" height="3.46" fill="#3c28dc"/>
<rect x="256" y="592.30" width="65" height="8.38" fill="#4634ee"/>
<rect x="256" y="599.67" width="65" height="9.61" fill="#4e40f8"/>
<rect x="256" y="608.28" width="65" height="2.84" fill="#3c28dc"/>
<rect x="256" y="610.13" width="65" height="7.76" fill="#4634ee"/>
<rect x="256" y="616.89" width="65" height="4.69" fill="#4e40f8"/>
<rect x="256" y="620.58" width="65" height="4.69" fill="#4634ee"/>
<rect x="256" y="624.27" width="65" height="5.92" fill="#4e40f8"/>
<rect x="256" y="629.18" width="65" height="3.46" fill="#5458fb"/>
<rect x="256" y="631.64" width="65" height="4.07" fill="#4e40f8"/>
<rect x="256" y="634.72" width="65" height="3.46" fill="#4634ee"/>
<rect x="256" y="637.18" width="65" height="3.46" fill="#5674fa"/>
<rect x="256" y="639.64" width="65" height="2.84" fill="#4634ee"/>
<rect x="256" y="641.48" width="65" height="3.46" fill="#5458fb"/>
<rect x="256" y="643.94" width="65" height="4.07" fill="#4e40f8"/>
<rect x="256" y="647.01" width="65" height="4.07" fill="#5458fb"/>
<rect x="256" y="650.09" width="65" height="3.46" fill="#4e40f8"/>
<rect x="256" y="652.55" width="65" height="2.23" fill="#5892f6"/>
<rect x="256" y="653.78" width="65" height="2.84" fill="#3c28dc"/>
<rect x="256" y="655.62" width="65" height="4.07" fill="#5674fa"/>
<rect x="256" y="658.70" width="65" height="2.84" fill="#4e40f8"/>
<rect x="256" y="660.54" width="65" height="3.46" fill="#5892f6"/>
<rect x="256" y="663.00" width="65" height="4.07" fill="#4e40f8"/>
<rect x="256" y="666.07" width="65" height="3.46" fill="#5674fa"/>
<rect x="256" y="668.53" width="65" height="2.84" fill="#4e40f8"/>
<rect x="256" y="670.38" width="65" height="2.23" fill="#3c28dc"/>
<rect x="256" y="671.61" width="65" height="4.07" fill="#5892f6"/>
<rect x="256" y="674.68" width="65" height="3.32" fill="#5674fa"/>
<rect x="321" y="580.00" width="65" height="13.30" fill="#4634ee"/>
<rect x="321" y="592.30" width="65" height="8.38" fill="#4e40f8"/>
<rect x="321" y="599.67" width="65" height="8.99" fill="#5458fb"/>
<rect x="321" y="607.67" width="65" height="2.84" fill="#3c28dc"/>
<rect x="321" y="609.51" width="65" height="8.38" fill="#5458fb"/>
<rect x="321" y="616.89" width="65" height="4.69" fill="#4e40f8"/>
<rect x="321" y="620.58" width="65" height="6.53" fill="#5458fb"/>
<rect x="321" y="626.11" width="65" height="2.23" fill="#4634ee"/>
<rect x="321" y="627.34" width="65" height="10.22" fill="#5674fa"/>
<rect x="321" y="636.56" width="65" height="3.46" fill="#5458fb"/>
<rect x="321" y="639.02" width="65" height="9.61" fill="#5892f6"/>
<rect x="321" y="647.63" width="65" height="2.84" fill="#5458fb"/>
<rect x="321" y="649.47" width="65" height="5.30" fill="#5892f6"/>
<rect x="321" y="653.78" width="65" height="5.92" fill="#55acf0"/>
<rect x="321" y="658.70" width="65" height="7.15" fill="#50c0e4"/>
<rect x="321" y="664.84" width="65" height="2.23" fill="#55cdc8"/>
<rect x="321" y="666.07" width="65" height="2.84" fill="#4e40f8"/>
<rect x="321" y="667.92" width="65" height="4.07" fill="#55acf0"/>
<rect x="321" y="670.99" width="65" height="2.23" fill="#5674fa"/>
<rect x="321" y="672.22" width="65" height="5.78" fill="#55cdc8"/>
<rect x="126" y="678.00" width="65" height="4.07" fill="#e9fb3c"/>
<rect x="126" y="681.07" width="65" height="2.23" fill="#4a4868"/>
<rect x="126" y="682.30" width="65" height="12.68" fill="#3c28dc"/>
<rect x="126" y="693.98" width="65" height="11.45" fill="#4634ee"/>
<rect x="126" y="704.44" width="65" height="3.46" fill="#3c28dc"/>
<rect x="126" y="706.90" width="65" height="13.91" fill="#4e40f8"/>
<rect x="126" y="719.81" width="65" height="5.92" fill="#4634ee"/>
<rect x="126" y="724.73" width="65" height="7.15" fill="#4e40f8"/>
<rect x="126" y="730.87" width="65" height="4.69" fill="#5458fb"/>
<rect x="126" y="734.56" width="65" height="5.92" fill="#4e40f8"/>
<rect x="126" y="739.48" width="65" height="5.92" fill="#5458fb"/>
<rect x="126" y="744.40" width="65" height="3.46" fill="#4e40f8"/>
<rect x="126" y="746.86" width="65" height="2.84" fill="#4634ee"/>
<rect x="126" y="748.70" width="65" height="6.53" fill="#5674fa"/>
<rect x="126" y="754.24" width="65" height="2.84" fill="#4e40f8"/>
<rect x="126" y="756.08" width="65" height="7.76" fill="#5892f6"/>
<rect x="126" y="762.84" width="65" height="2.23" fill="#3c28dc"/>
<rect x="126" y="764.07" width="65" height="4.69" fill="#55acf0"/>
<rect x="126" y="767.76" width="65" height="2.84" fill="#5674fa"/>
<rect x="126" y="769.61" width="65" height="4.07" fill="#55acf0"/>
<rect x="126" y="772.68" width="65" height="2.84" fill="#5674fa"/>
<rect x="126" y="774.52" width="65" height="1.48" fill="#50c0e4"/>
<rect x="191" y="678.00" width="65" height="2.23" fill="#55acf0"/>
<rect x="191" y="679.23" width="65" height="2.84" fill="#4a4868"/>
<rect x="191" y="681.07" width="65" height="94.93" fill="#e9fb3c"/>
<rect x="256" y="678.00" width="65" height="2.84" fill="#55acf0"/>
<rect x="256" y="679.84" width="65" height="8.99" fill="#3c28dc"/>
<rect x="256" y="687.84" width="65" height="8.99" fill="#4634ee"/>
<rect x="256" y="695.83" width="65" height="4.69" fill="#3c28dc"/>
<rect x="256" y="699.52" width="65" height="7.76" fill="#4634ee"/>
<rect x="256" y="706.28" width="65" height="8.38" fill="#4e40f8"/>
<rect x="256" y="713.66" width="65" height="5.92" fill="#4634ee"/>
<rect x="256" y="718.58" width="65" height="4.69" fill="#4e40f8"/>
<rect x="256" y="722.27" width="65" height="4.69" fill="#5458fb"/>
<rect x="256" y="725.95" width="65" height="3.46" fill="#4634ee"/>
<rect x="256" y="728.41" width="65" height="8.38" fill="#4e40f8"/>
<rect x="256" y="735.79" width="65" height="9.61" fill="#5458fb"/>
<rect x="256" y="744.40" width="65" height="5.92" fill="#4634ee"/>
<rect x="256" y="749.32" width="65" height="7.76" fill="#5892f6"/>
<rect x="256" y="756.08" width="65" height="3.46" fill="#5458fb"/>
<rect x="256" y="758.54" width="65" height="2.23" fill="#3c28dc"/>
<rect x="256" y="759.77" width="65" height="6.53" fill="#55acf0"/>
<rect x="256" y="765.30" width="65" height="3.46" fill="#5674fa"/>
<rect x="256" y="767.76" width="65" height="3.46" fill="#55acf0"/>
<rect x="256" y="770.22" width="65" height="3.46" fill="#5892f6"/>
<rect x="256" y="772.68" width="65" height="3.32" fill="#55cdc8"/>
<rect x="321" y="678.00" width="65" height="4.07" fill="#55cdc8"/>
<rect x="321" y="681.07" width="65" height="16.37" fill="#3c28dc"/>
<rect x="321" y="696.44" width="65" height="4.07" fill="#4634ee"/>
<rect x="321" y="699.52" width="65" height="4.69" fill="#4e40f8"/>
<rect x="321" y="703.21" width="65" height="2.23" fill="#4634ee"/>
<rect x="321" y="704.44" width="65" height="7.76" fill="#4e40f8"/>
<rect x="321" y="711.20" width="65" height="8.38" fill="#4634ee"/>
<rect x="321" y="718.58" width="65" height="3.46" fill="#4e40f8"/>
<rect x="321" y="721.04" width="65" height="3.46" fill="#3c28dc"/>
<rect x="321" y="723.50" width="65" height="7.15" fill="#4e40f8"/>
<rect x="321" y="729.64" width="65" height="5.92" fill="#5458fb"/>
<rect x="321" y="734.56" width="65" height="4.69" fill="#4e40f8"/>
<rect x="321" y="738.25" width="65" height="5.92" fill="#5458fb"/>
<rect x="321" y="743.17" width="65" height="2.84" fill="#4634ee"/>
<rect x="321" y="745.01" width="65" height="5.30" fill="#5674fa"/>
<rect x="321" y="749.32" width="65" height="2.84" fill="#4634ee"/>
<rect x="321" y="751.16" width="65" height="2.84" fill="#5458fb"/>
<rect x="321" y="753.01" width="65" height="2.84" fill="#3c28dc"/>
<rect x="321" y="754.85" width="65" height="5.30" fill="#5892f6"/>
<rect x="321" y="759.15" width="65" height="4.07" fill="#5674fa"/>
<rect x="321" y="762.23" width="65" height="2.84" fill="#3c28dc"/>
<rect x="321" y="764.07" width="65" height="4.69" fill="#55acf0"/>
<rect x="321" y="767.76" width="65" height="4.69" fill="#55cdc8"/>
<rect x="321" y="771.45" width="65" height="4.55" fill="#5892f6"/>
<rect x="126" y="776.00" width="65" height="4.07" fill="#50c0e4"/>
<rect x="126" y="779.07" width="65" height="2.23" fill="#4e40f8"/>
<rect x="126" y="780.30" width="65" height="7.76" fill="#4634ee"/>
<rect x="126" y="787.07" width="65" height="3.46" fill="#3c28dc"/>
<rect x="126" y="789.53" width="65" height="5.92" fill="#4634ee"/>
<rect x="126" y="794.44" width="65" height="4.07" fill="#4e40f8"/>
<rect x="126" y="797.52" width="65" height="2.84" fill="#4634ee"/>
<rect x="126" y="799.36" width="65" height="8.38" fill="#4e40f8"/>
<rect x="126" y="806.74" width="65" height="3.46" fill="#5458fb"/>
<rect x="126" y="809.20" width="65" height="3.46" fill="#5674fa"/>
<rect x="126" y="811.66" width="65" height="3.46" fill="#5458fb"/>
<rect x="126" y="814.12" width="65" height="4.69" fill="#5674fa"/>
<rect x="126" y="817.81" width="65" height="2.23" fill="#4634ee"/>
<rect x="126" y="819.04" width="65" height="3.46" fill="#5458fb"/>
<rect x="126" y="821.50" width="65" height="2.84" fill="#4634ee"/>
<rect x="126" y="823.34" width="65" height="2.84" fill="#5674fa"/>
<rect x="126" y="825.18" width="65" height="2.23" fill="#4634ee"/>
<rect x="126" y="826.41" width="65" height="4.69" fill="#5892f6"/>
<rect x="126" y="830.10" width="65" height="5.92" fill="#55acf0"/>
<rect x="126" y="835.02" width="65" height="3.46" fill="#5892f6"/>
<rect x="126" y="837.48" width="65" height="3.46" fill="#55acf0"/>
<rect x="126" y="839.94" width="65" height="5.30" fill="#55cdc8"/>
<rect x="126" y="844.24" width="65" height="2.84" fill="#5892f6"/>
<rect x="126" y="846.09" width="65" height="2.84" fill="#4e40f8"/>
<rect x="126" y="847.93" width="65" height="7.76" fill="#4634ee"/>
<rect x="126" y="854.70" width="65" height="3.46" fill="#4e40f8"/>
<rect x="126" y="857.15" width="65" height="5.92" fill="#4634ee"/>
<rect x="126" y="862.07" width="65" height="4.69" fill="#4e40f8"/>
<rect x="126" y="865.76" width="65" height="4.69" fill="#4634ee"/>
<rect x="126" y="869.45" width="65" height="4.55" fill="#4e40f8"/>
<rect x="191" y="776.00" width="65" height="4.69" fill="#e9fb3c"/>
<rect x="191" y="779.69" width="65" height="8.38" fill="#4634ee"/>
<rect x="191" y="787.07" width="65" height="9.61" fill="#5458fb"/>
<rect x="191" y="795.67" width="65" height="3.46" fill="#4e40f8"/>
<rect x="191" y="798.13" width="65" height="14.53" fill="#5458fb"/>
<rect x="191" y="811.66" width="65" height="2.84" fill="#3c28dc"/>
<rect x="191" y="813.50" width="65" height="5.92" fill="#5458fb"/>
<rect x="191" y="818.42" width="65" height="2.84" fill="#4e40f8"/>
<rect x="191" y="820.27" width="65" height="3.46" fill="#4634ee"/>
<rect x="191" y="822.73" width="65" height="4.69" fill="#5674fa"/>
<rect x="191" y="826.41" width="65" height="3.46" fill="#4e40f8"/>
<rect x="191" y="828.87" width="65" height="5.92" fill="#5892f6"/>
<rect x="191" y="833.79" width="65" height="3.46" fill="#5458fb"/>
<rect x="191" y="836.25" width="65" height="5.30" fill="#55cdc8"/>
<rect x="191" y="840.55" width="65" height="2.84" fill="#5892f6"/>
<rect x="191" y="842.40" width="65" height="3.46" fill="#55acf0"/>
<rect x="191" y="844.86" width="65" height="2.84" fill="#50c0e4"/>
<rect x="191" y="846.70" width="65" height="6.53" fill="#3c28dc"/>
<rect x="191" y="852.24" width="65" height="3.46" fill="#4634ee"/>
<rect x="191" y="854.70" width="65" height="8.38" fill="#3c28dc"/>
<rect x="191" y="862.07" width="65" height="3.46" fill="#4634ee"/>
<rect x="191" y="864.53" width="65" height="9.47" fill="#4e40f8"/>
<rect x="256" y="776.00" width="65" height="4.07" fill="#55cdc8"/>
<rect x="256" y="779.07" width="65" height="69.24" fill="#e9fb3c"/>
<rect x="256" y="847.32" width="65" height="9.61" fill="#3c28dc"/>
<rect x="256" y="855.92" width="65" height="7.15" fill="#4634ee"/>
<rect x="256" y="862.07" width="65" height="3.46" fill="#3c28dc"/>
<rect x="256" y="864.53" width="65" height="4.69" fill="#4634ee"/>
<rect x="256" y="868.22" width="65" height="5.78" fill="#4e40f8"/>
<rect x="321" y="776.00" width="65" height="4.07" fill="#55acf0"/>
<rect x="321" y="779.07" width="65" height="2.23" fill="#4e40f8"/>
<rect x="321" y="780.30" width="65" height="11.45" fill="#4634ee"/>
<rect x="321" y="790.76" width="65" height="2.84" fill="#3c28dc"/>
<rect x="321" y="792.60" width="65" height="12.68" fill="#5458fb"/>
<rect x="321" y="804.28" width="65" height="2.84" fill="#4634ee"/>
<rect x="321" y="806.13" width="65" height="4.69" fill="#5458fb"/>
<rect x="321" y="809.81" width="65" height="3.46" fill="#5674fa"/>
<rect x="321" y="812.27" width="65" height="2.84" fill="#3c28dc"/>
<rect x="321" y="814.12" width="65" height="4.69" fill="#5674fa"/>
<rect x="321" y="817.81" width="65" height="10.84" fill="#5892f6"/>
<rect x="321" y="827.64" width="65" height="3.46" fill="#55acf0"/>
<rect x="321" y="830.10" width="65" height="3.46" fill="#5892f6"/>
<rect x="321" y="832.56" width="65" height="2.84" fill="#3c28dc"/>
<rect x="321" y="834.41" width="65" height="4.07" fill="#50c0e4"/>
<rect x="321" y="837.48" width="65" height="3.46" fill="#55acf0"/>
<rect x="321" y="839.94" width="65" height="4.07" fill="#5892f6"/>
<rect x="321" y="843.01" width="65" height="3.46" fill="#55cdc8"/>
<rect x="321" y="845.47" width="65" height="2.84" fill="#5674fa"/>
<rect x="321" y="847.32" width="65" height="26.68" fill="#e9fb3c"/>
<rect x="126" y="874.00" width="65" height="5.92" fill="#5458fb"/>
<rect x="126" y="878.92" width="65" height="2.23" fill="#4634ee"/>
<rect x="126" y="880.15" width="65" height="4.69" fill="#5458fb"/>
<rect x="126" y="883.84" width="65" height="3.46" fill="#4e40f8"/>
<rect x="126" y="886.30" width="65" height="4.69" fill="#5674fa"/>
<rect x="126" y="889.98" width="65" height="2.84" fill="#4e40f8"/>
<rect x="126" y="891.83" width="65" height="7.76" fill="#5674fa"/>
<rect x="126" y="898.59" width="65" height="2.84" fill="#5458fb"/>
<rect x="126" y="900.44" width="65" height="2.23" fill="#4634ee"/>
<rect x="126" y="901.67" width="65" height="8.99" fill="#5674fa"/>
<rect x="126" y="909.66" width="65" height="2.23" fill="#4e40f8"/>
<rect x="126" y="910.89" width="65" height="11.45" fill="#5892f6"/>
<rect x="126" y="921.34" width="65" height="2.23" fill="#5674fa"/>
<rect x="126" y="922.57" width="65" height="5.30" fill="#5892f6"/>
<rect x="126" y="926.87" width="65" height="8.38" fill="#55acf0"/>
<rect x="126" y="934.25" width="65" height="2.23" fill="#5674fa"/>
<rect x="126" y="935.48" width="65" height="6.53" fill="#55acf0"/>
<rect x="126" y="941.01" width="65" height="2.84" fill="#5674fa"/>
<rect x="126" y="942.86" width="65" height="4.07" fill="#55acf0"/>
<rect x="126" y="945.93" width="65" height="2.84" fill="#5458fb"/>
<rect x="126" y="947.78" width="65" height="4.07" fill="#50c0e4"/>
<rect x="126" y="950.85" width="65" height="3.46" fill="#55acf0"/>
<rect x="126" y="953.31" width="65" height="2.84" fill="#5674fa"/>
<rect x="126" y="955.15" width="65" height="2.84" fill="#3c28dc"/>
<rect x="126" y="957.00" width="65" height="5.92" fill="#64d4a8"/>
<rect x="126" y="961.92" width="65" height="4.07" fill="#5674fa"/>
<rect x="126" y="964.99" width="65" height="4.07" fill="#55cdc8"/>
<rect x="126" y="968.07" width="65" height="4.07" fill="#5892f6"/>
<rect x="126" y="971.14" width="65" height="0.86" fill="#4a4868"/>
<rect x="191" y="874.00" width="65" height="6.53" fill="#4634ee"/>
<rect x="191" y="879.53" width="65" height="8.99" fill="#4e40f8"/>
<rect x="191" y="887.53" width="65" height="7.15" fill="#4634ee"/>
<rect x="191" y="893.67" width="65" height="2.84" fill="#3c28dc"/>
<rect x="191" y="895.52" width="65" height="4.07" fill="#5458fb"/>
<rect x="191" y="898.59" width="65" height="4.69" fill="#5674fa"/>
<rect x="191" y="902.28" width="65" height="5.92" fill="#4634ee"/>
<rect x="191" y="907.20" width="65" height="4.69" fill="#5458fb"/>
<rect x="191" y="910.89" width="65" height="8.38" fill="#4634ee"/>
<rect x="191" y="918.27" width="65" height="3.46" fill="#5458fb"/>
<rect x="191" y="920.73" width="65" height="5.92" fill="#4634ee"/>
<rect x="191" y="925.64" width="65" height="4.07" fill="#5674fa"/>
<rect x="191" y="928.72" width="65" height="4.69" fill="#4634ee"/>
<rect x="191" y="932.41" width="65" height="3.46" fill="#5458fb"/>
<rect x="191" y="934.87" width="65" height="4.69" fill="#4634ee"/>
<rect x="191" y="938.55" width="65" height="4.07" fill="#5674fa"/>
<rect x="191" y="941.63" width="65" height="2.84" fill="#3c28dc"/>
<rect x="191" y="943.47" width="65" height="2.84" fill="#5674fa"/>
<rect x="191" y="945.32" width="65" height="5.30" fill="#55acf0"/>
<rect x="191" y="949.62" width="65" height="2.84" fill="#5458fb"/>
<rect x="191" y="951.47" width="65" height="5.30" fill="#55cdc8"/>
<rect x="191" y="955.77" width="65" height="4.07" fill="#5892f6"/>
<rect x="191" y="958.84" width="65" height="2.84" fill="#5458fb"/>
<rect x="191" y="960.69" width="65" height="2.84" fill="#55acf0"/>
<rect x="191" y="962.53" width="65" height="4.07" fill="#55cdc8"/>
<rect x="191" y="965.61" width="65" height="3.46" fill="#55acf0"/>
<rect x="191" y="968.07" width="65" height="4.07" fill="#55cdc8"/>
<rect x="191" y="971.14" width="65" height="0.86" fill="#4a4868"/>
<rect x="256" y="874.00" width="65" height="2.84" fill="#4634ee"/>
<rect x="256" y="875.84" width="65" height="4.69" fill="#4e40f8"/>
<rect x="256" y="879.53" width="65" height="2.84" fill="#4634ee"/>
<rect x="256" y="881.38" width="65" height="8.38" fill="#5458fb"/>
<rect x="256" y="888.76" width="65" height="2.84" fill="#4634ee"/>
<rect x="256" y="890.60" width="65" height="4.07" fill="#4e40f8"/>
<rect x="256" y="893.67" width="65" height="3.46" fill="#3c28dc"/>
<rect x="256" y="896.13" width="65" height="3.46" fill="#4e40f8"/>
<rect x="256" y="898.59" width="65" height="9.61" fill="#5674fa"/>
<rect x="256" y="907.20" width="65" height="2.84" fill="#4634ee"/>
<rect x="256" y="909.04" width="65" height="2.84" fill="#5458fb"/>
<rect x="256" y="910.89" width="65" height="8.38" fill="#4e40f8"/>
<rect x="256" y="918.27" width="65" height="10.84" fill="#5458fb"/>
<rect x="256" y="928.10" width="65" height="2.84" fill="#4634ee"/>
<rect x="256" y="929.95" width="65" height="3.46" fill="#5458fb"/>
<rect x="256" y="932.41" width="65" height="3.46" fill="#4e40f8"/>
<rect x="256" y="934.87" width="65" height="2.84" fill="#3c28dc"/>
<rect x="256" y="936.71" width="65" height="3.46" fill="#5458fb"/>
<rect x="256" y="939.17" width="65" height="3.46" fill="#5674fa"/>
<rect x="256" y="941.63" width="65" height="5.92" fill="#55acf0"/>
<rect x="256" y="946.55" width="65" height="3.46" fill="#5458fb"/>
<rect x="256" y="949.01" width="65" height="9.61" fill="#55acf0"/>
<rect x="256" y="957.61" width="65" height="2.84" fill="#4634ee"/>
<rect x="256" y="959.46" width="65" height="4.07" fill="#55acf0"/>
<rect x="256" y="962.53" width="65" height="3.46" fill="#5674fa"/>
<rect x="256" y="964.99" width="65" height="2.23" fill="#4634ee"/>
<rect x="256" y="966.22" width="65" height="3.46" fill="#55cdc8"/>
<rect x="256" y="968.68" width="65" height="3.46" fill="#5674fa"/>
<rect x="256" y="971.14" width="65" height="0.86" fill="#4a4868"/>
<rect x="321" y="874.00" width="65" height="98.14" fill="#e9fb3c"/>
<rect x="321" y="971.14" width="65" height="0.86" fill="#4a4868"/>
<rect x="457" y="580.00" width="65" height="2.84" fill="#e9fb3c"/>
<rect x="457" y="581.84" width="65" height="4.07" fill="#f0d040"/>
<rect x="457" y="584.92" width="65" height="2.23" fill="#88d476"/>
<rect x="457" y="586.15" width="65" height="8.38" fill="#e9fb3c"/>
<rect x="457" y="593.53" width="65" height="2.84" fill="#55cdc8"/>
<rect x="457" y="595.37" width="65" height="5.92" fill="#e9fb3c"/>
<rect x="457" y="600.29" width="65" height="2.84" fill="#88d476"/>
<rect x="457" y="602.13" width="65" height="2.84" fill="#cbf466"/>
<rect x="457" y="603.98" width="65" height="4.07" fill="#e9fb3c"/>
<rect x="457" y="607.05" width="65" height="2.23" fill="#88d476"/>
<rect x="457" y="608.28" width="65" height="2.84" fill="#55cdc8"/>
<rect x="457" y="610.13" width="65" height="10.22" fill="#e9fb3c"/>
<rect x="457" y="619.35" width="65" height="2.84" fill="#88d476"/>
<rect x="457" y="621.19" width="65" height="10.22" fill="#e9fb3c"/>
<rect x="457" y="630.41" width="65" height="2.84" fill="#55cdc8"/>
<rect x="457" y="632.26" width="65" height="3.46" fill="#e9fb3c"/>
<rect x="457" y="634.72" width="65" height="2.84" fill="#88d476"/>
<rect x="457" y="636.56" width="65" height="5.30" fill="#e9fb3c"/>
<rect x="457" y="640.87" width="65" height="2.84" fill="#55cdc8"/>
<rect x="457" y="642.71" width="65" height="8.38" fill="#e9fb3c"/>
<rect x="457" y="650.09" width="65" height="2.84" fill="#5892f6"/>
<rect x="457" y="651.93" width="65" height="2.84" fill="#cbf466"/>
<rect x="457" y="653.78" width="65" height="2.84" fill="#55cdc8"/>
<rect x="457" y="655.62" width="65" height="2.84" fill="#cbf466"/>
<rect x="457" y="657.47" width="65" height="2.84" fill="#64d4a8"/>
<rect x="457" y="659.31" width="65" height="11.45" fill="#e9fb3c"/>
<rect x="457" y="669.76" width="65" height="3.46" fill="#55cdc8"/>
<rect x="457" y="672.22" width="65" height="4.69" fill="#e9fb3c"/>
<rect x="457" y="675.91" width="65" height="2.09" fill="#f0d040"/>
<rect x="522" y="580.00" width="65" height="2.84" fill="#4634ee"/>
<rect x="522" y="581.84" width="65" height="3.46" fill="#c8e2e2"/>
<rect x="522" y="584.30" width="65" height="2.84" fill="#55cdc8"/>
<rect x="522" y="586.15" width="65" height="7.15" fill="#55acf0"/>
<rect x="522" y="592.30" width="65" height="4.07" fill="#5674fa"/>
<rect x="522" y="595.37" width="65" height="5.30" fill="#4634ee"/>
<rect x="522" y="599.67" width="65" height="3.46" fill="#64d4a8"/>
<rect x="522" y="602.13" width="65" height="3.46" fill="#5892f6"/>
<rect x="522" y="604.59" width="65" height="2.84" fill="#64d4a8"/>
<rect x="522" y="606.44" width="65" height="4.07" fill="#5674fa"/>
<rect x="522" y="609.51" width="65" height="4.69" fill="#55acf0"/>
<rect x="522" y="613.20" width="65" height="3.46" fill="#55cdc8"/>
<rect x="522" y="615.66" width="65" height="4.69" fill="#55acf0"/>
<rect x="522" y="619.35" width="65" height="3.46" fill="#64d4a8"/>
<rect x="522" y="621.81" width="65" height="2.84" fill="#5458fb"/>
<rect x="522" y="623.65" width="65" height="3.46" fill="#55cdc8"/>
<rect x="522" y="626.11" width="65" height="2.23" fill="#cbf466"/>
<rect x="522" y="627.34" width="65" height="4.07" fill="#4e40f8"/>
<rect x="522" y="630.41" width="65" height="4.69" fill="#64d4a8"/>
<rect x="522" y="634.10" width="65" height="2.84" fill="#5892f6"/>
<rect x="522" y="635.95" width="65" height="2.84" fill="#4a4868"/>
<rect x="522" y="637.79" width="65" height="2.84" fill="#f0d040"/>
<rect x="522" y="639.64" width="65" height="2.84" fill="#4e40f8"/>
<rect x="522" y="641.48" width="65" height="3.46" fill="#55acf0"/>
<rect x="522" y="643.94" width="65" height="2.84" fill="#50c0e4"/>
<rect x="522" y="645.78" width="65" height="3.46" fill="#5892f6"/>
<rect x="522" y="648.24" width="65" height="3.46" fill="#5458fb"/>
<rect x="522" y="650.70" width="65" height="2.23" fill="#4a4868"/>
<rect x="522" y="651.93" width="65" height="2.84" fill="#f0d040"/>
<rect x="522" y="653.78" width="65" height="2.84" fill="#55cdc8"/>
<rect x="522" y="655.62" width="65" height="2.84" fill="#88d476"/>
<rect x="522" y="657.47" width="65" height="2.84" fill="#64d4a8"/>
<rect x="522" y="659.31" width="65" height="2.84" fill="#c8e2e2"/>
<rect x="522" y="661.15" width="65" height="2.84" fill="#55cdc8"/>
<rect x="522" y="663.00" width="65" height="3.46" fill="#5892f6"/>
<rect x="522" y="665.46" width="65" height="3.46" fill="#88d476"/>
<rect x="522" y="667.92" width="65" height="2.84" fill="#f0d040"/>
<rect x="522" y="669.76" width="65" height="2.84" fill="#55cdc8"/>
<rect x="522" y="671.61" width="65" height="2.84" fill="#4a4868"/>
<rect x="522" y="673.45" width="65" height="3.46" fill="#55cdc8"/>
<rect x="522" y="675.91" width="65" height="2.09" fill="#88d476"/>
<rect x="587" y="580.00" width="65" height="3.46" fill="#4634ee"/>
<rect x="587" y="582.46" width="65" height="3.46" fill="#c8e2e2"/>
<rect x="587" y="584.92" width="65" height="2.84" fill="#55acf0"/>
<rect x="587" y="586.76" width="65" height="7.76" fill="#4e40f8"/>
<rect x="587" y="593.53" width="65" height="3.46" fill="#5892f6"/>
<rect x="587" y="595.98" width="65" height="4.69" fill="#4e40f8"/>
<rect x="587" y="599.67" width="65" height="2.84" fill="#55acf0"/>
<rect x="587" y="601.52" width="65" height="3.46" fill="#4634ee"/>
<rect x="587" y="603.98" width="65" height="2.84" fill="#64d4a8"/>
<rect x="587" y="605.82" width="65" height="2.84" fill="#55acf0"/>
<rect x="587" y="607.67" width="65" height="6.53" fill="#5458fb"/>
<rect x="587" y="613.20" width="65" height="2.84" fill="#4634ee"/>
<rect x="587" y="615.04" width="65" height="2.23" fill="#c8e2e2"/>
<rect x="587" y="616.27" width="65" height="4.07" fill="#4e40f8"/>
<rect x="587" y="619.35" width="65" height="3.46" fill="#55acf0"/>
<rect x="587" y="621.81" width="65" height="4.69" fill="#4634ee"/>
<rect x="587" y="625.50" width="65" height="2.84" fill="#c8e2e2"/>
<rect x="587" y="627.34" width="65" height="2.84" fill="#5892f6"/>
<rect x="587" y="629.18" width="65" height="5.30" fill="#5458fb"/>
<rect x="587" y="633.49" width="65" height="2.84" fill="#55cdc8"/>
<rect x="587" y="635.33" width="65" height="2.84" fill="#4634ee"/>
<rect x="587" y="637.18" width="65" height="2.84" fill="#5892f6"/>
<rect x="587" y="639.02" width="65" height="4.07" fill="#4e40f8"/>
<rect x="587" y="642.10" width="65" height="6.53" fill="#50c0e4"/>
<rect x="587" y="647.63" width="65" height="4.69" fill="#4634ee"/>
<rect x="587" y="651.32" width="65" height="2.84" fill="#c8e2e2"/>
<rect x="587" y="653.16" width="65" height="3.46" fill="#cbf466"/>
<rect x="587" y="655.62" width="65" height="2.84" fill="#5892f6"/>
<rect x="587" y="657.47" width="65" height="2.84" fill="#4634ee"/>
<rect x="587" y="659.31" width="65" height="2.84" fill="#c8e2e2"/>
<rect x="587" y="661.15" width="65" height="4.69" fill="#55cdc8"/>
<rect x="587" y="664.84" width="65" height="2.23" fill="#5892f6"/>
<rect x="587" y="666.07" width="65" height="2.84" fill="#c8e2e2"/>
<rect x="587" y="667.92" width="65" height="3.46" fill="#88d476"/>
<rect x="587" y="670.38" width="65" height="2.84" fill="#5892f6"/>
<rect x="587" y="672.22" width="65" height="3.46" fill="#5458fb"/>
<rect x="587" y="674.68" width="65" height="3.32" fill="#55cdc8"/>
<rect x="652" y="580.00" width="65" height="3.46" fill="#4634ee"/>
<rect x="652" y="582.46" width="65" height="4.07" fill="#c8e2e2"/>
<rect x="652" y="585.53" width="65" height="2.84" fill="#f0d040"/>
<rect x="652" y="587.38" width="65" height="7.15" fill="#4e40f8"/>
<rect x="652" y="593.53" width="65" height="3.46" fill="#cbf466"/>
<rect x="652" y="595.98" width="65" height="3.46" fill="#4634ee"/>
<rect x="652" y="598.44" width="65" height="6.53" fill="#4e40f8"/>
<rect x="652" y="603.98" width="65" height="4.69" fill="#5892f6"/>
<rect x="652" y="607.67" width="65" height="7.15" fill="#4e40f8"/>
<rect x="652" y="613.81" width="65" height="2.84" fill="#5892f6"/>
<rect x="652" y="615.66" width="65" height="4.69" fill="#4e40f8"/>
<rect x="652" y="619.35" width="65" height="3.46" fill="#c8e2e2"/>
<rect x="652" y="621.81" width="65" height="3.46" fill="#4e40f8"/>
<rect x="652" y="624.27" width="65" height="2.84" fill="#5892f6"/>
<rect x="652" y="626.11" width="65" height="2.84" fill="#c8e2e2"/>
<rect x="652" y="627.95" width="65" height="9.61" fill="#5458fb"/>
<rect x="652" y="636.56" width="65" height="2.23" fill="#55cdc8"/>
<rect x="652" y="637.79" width="65" height="2.84" fill="#cbf466"/>
<rect x="652" y="639.64" width="65" height="4.07" fill="#5458fb"/>
<rect x="652" y="642.71" width="65" height="2.23" fill="#5892f6"/>
<rect x="652" y="643.94" width="65" height="8.38" fill="#4e40f8"/>
<rect x="652" y="651.32" width="65" height="2.23" fill="#cbf466"/>
<rect x="652" y="652.55" width="65" height="5.30" fill="#e9fb3c"/>
<rect x="652" y="656.85" width="65" height="2.84" fill="#4634ee"/>
<rect x="652" y="658.70" width="65" height="2.23" fill="#5892f6"/>
<rect x="652" y="659.92" width="65" height="4.07" fill="#f0d040"/>
<rect x="652" y="663.00" width="65" height="3.46" fill="#5458fb"/>
<rect x="652" y="665.46" width="65" height="2.84" fill="#c8e2e2"/>
<rect x="652" y="667.30" width="65" height="2.84" fill="#4e40f8"/>
<rect x="652" y="669.15" width="65" height="3.46" fill="#5892f6"/>
<rect x="652" y="671.61" width="65" height="2.84" fill="#55cdc8"/>
<rect x="652" y="673.45" width="65" height="4.55" fill="#64d4a8"/>
<rect x="457" y="678.00" width="65" height="2.84" fill="#cbf466"/>
<rect x="457" y="679.84" width="65" height="2.23" fill="#88d476"/>
<rect x="457" y="681.07" width="65" height="2.23" fill="#5458fb"/>
<rect x="457" y="682.30" width="65" height="5.30" fill="#4634ee"/>
<rect x="457" y="686.61" width="65" height="2.23" fill="#5892f6"/>
<rect x="457" y="687.84" width="65" height="4.69" fill="#4634ee"/>
<rect x="457" y="691.53" width="65" height="4.69" fill="#5458fb"/>
<rect x="457" y="695.21" width="65" height="4.07" fill="#5674fa"/>
<rect x="457" y="698.29" width="65" height="4.07" fill="#5458fb"/>
<rect x="457" y="701.36" width="65" height="3.46" fill="#5674fa"/>
<rect x="457" y="703.82" width="65" height="2.84" fill="#5892f6"/>
<rect x="457" y="705.67" width="65" height="4.69" fill="#4e40f8"/>
<rect x="457" y="709.36" width="65" height="3.46" fill="#5892f6"/>
<rect x="457" y="711.81" width="65" height="4.69" fill="#5458fb"/>
<rect x="457" y="715.50" width="65" height="4.07" fill="#5892f6"/>
<rect x="457" y="718.58" width="65" height="5.30" fill="#4634ee"/>
<rect x="457" y="722.88" width="65" height="4.07" fill="#5458fb"/>
<rect x="457" y="725.95" width="65" height="3.46" fill="#64d4a8"/>
<rect x="457" y="728.41" width="65" height="3.46" fill="#5892f6"/>
<rect x="457" y="730.87" width="65" height="3.46" fill="#50c0e4"/>
<rect x="457" y="733.33" width="65" height="2.84" fill="#5892f6"/>
<rect x="457" y="735.18" width="65" height="3.46" fill="#55cdc8"/>
<rect x="457" y="737.64" width="65" height="5.30" fill="#88d476"/>
<rect x="457" y="741.94" width="65" height="4.07" fill="#4e40f8"/>
<rect x="457" y="745.01" width="65" height="4.07" fill="#5892f6"/>
<rect x="457" y="748.09" width="65" height="3.46" fill="#4634ee"/>
<rect x="457" y="750.55" width="65" height="2.23" fill="#55acf0"/>
<rect x="457" y="751.78" width="65" height="3.46" fill="#5458fb"/>
<rect x="457" y="754.24" width="65" height="2.23" fill="#4634ee"/>
<rect x="457" y="755.47" width="65" height="2.84" fill="#c8e2e2"/>
<rect x="457" y="757.31" width="65" height="2.84" fill="#f0d040"/>
<rect x="457" y="759.15" width="65" height="3.46" fill="#55cdc8"/>
<rect x="457" y="761.61" width="65" height="3.46" fill="#5892f6"/>
<rect x="457" y="764.07" width="65" height="2.84" fill="#5458fb"/>
<rect x="457" y="765.92" width="65" height="2.84" fill="#f0d040"/>
<rect x="457" y="767.76" width="65" height="3.46" fill="#5892f6"/>
<rect x="457" y="770.22" width="65" height="3.46" fill="#55cdc8"/>
<rect x="457" y="772.68" width="65" height="2.84" fill="#5892f6"/>
<rect x="457" y="774.52" width="65" height="1.48" fill="#cbf466"/>
<rect x="522" y="678.00" width="65" height="2.23" fill="#88d476"/>
<rect x="522" y="679.23" width="65" height="2.84" fill="#4634ee"/>
<rect x="522" y="681.07" width="65" height="3.46" fill="#f0d040"/>
<rect x="522" y="683.53" width="65" height="2.84" fill="#cbf466"/>
<rect x="522" y="685.38" width="65" height="2.84" fill="#88d476"/>
<rect x="522" y="687.22" width="65" height="3.46" fill="#cbf466"/>
<rect x="522" y="689.68" width="65" height="2.84" fill="#88d476"/>
<rect x="522" y="691.53" width="65" height="3.46" fill="#55cdc8"/>
<rect x="522" y="693.98" width="65" height="4.69" fill="#e9fb3c"/>
<rect x="522" y="697.67" width="65" height="2.84" fill="#f0d040"/>
<rect x="522" y="699.52" width="65" height="26.21" fill="#e9fb3c"/>
<rect x="522" y="724.73" width="65" height="3.46" fill="#88d476"/>
<rect x="522" y="727.18" width="65" height="3.46" fill="#cbf466"/>
<rect x="522" y="729.64" width="65" height="2.23" fill="#88d476"/>
<rect x="522" y="730.87" width="65" height="9.61" fill="#e9fb3c"/>
<rect x="522" y="739.48" width="65" height="2.84" fill="#88d476"/>
<rect x="522" y="741.32" width="65" height="3.46" fill="#cbf466"/>
<rect x="522" y="743.78" width="65" height="2.84" fill="#e9fb3c"/>
<rect x="522" y="745.63" width="65" height="2.84" fill="#55cdc8"/>
<rect x="522" y="747.47" width="65" height="5.30" fill="#e9fb3c"/>
<rect x="522" y="751.78" width="65" height="2.84" fill="#55cdc8"/>
<rect x="522" y="753.62" width="65" height="5.30" fill="#88d476"/>
<rect x="522" y="757.92" width="65" height="2.84" fill="#cbf466"/>
<rect x="522" y="759.77" width="65" height="4.07" fill="#f0d040"/>
<rect x="522" y="762.84" width="65" height="2.84" fill="#cbf466"/>
<rect x="522" y="764.69" width="65" height="2.84" fill="#c8e2e2"/>
<rect x="522" y="766.53" width="65" height="2.84" fill="#55cdc8"/>
<rect x="522" y="768.38" width="65" height="4.07" fill="#cbf466"/>
<rect x="522" y="771.45" width="65" height="2.23" fill="#f0d040"/>
<rect x="522" y="772.68" width="65" height="2.84" fill="#4634ee"/>
<rect x="522" y="774.52" width="65" height="1.48" fill="#f0d040"/>
<rect x="587" y="678.00" width="65" height="2.84" fill="#88d476"/>
<rect x="587" y="679.84" width="65" height="2.23" fill="#4634ee"/>
<rect x="587" y="681.07" width="65" height="5.30" fill="#4e40f8"/>
<rect x="587" y="685.38" width="65" height="2.84" fill="#4634ee"/>
<rect x="587" y="687.22" width="65" height="3.46" fill="#55acf0"/>
<rect x="587" y="689.68" width="65" height="6.53" fill="#4e40f8"/>
<rect x="587" y="695.21" width="65" height="3.46" fill="#4634ee"/>
<rect x="587" y="697.67" width="65" height="5.92" fill="#5892f6"/>
<rect x="587" y="702.59" width="65" height="4.07" fill="#55acf0"/>
<rect x="587" y="705.67" width="65" height="3.46" fill="#4634ee"/>
<rect x="587" y="708.13" width="65" height="2.84" fill="#5458fb"/>
<rect x="587" y="709.97" width="65" height="3.46" fill="#55cdc8"/>
<rect x="587" y="712.43" width="65" height="4.07" fill="#5892f6"/>
<rect x="587" y="715.50" width="65" height="2.84" fill="#55acf0"/>
<rect x="587" y="717.35" width="65" height="4.07" fill="#4e40f8"/>
<rect x="587" y="720.42" width="65" height="4.69" fill="#55acf0"/>
<rect x="587" y="724.11" width="65" height="3.46" fill="#5892f6"/>
<rect x="587" y="726.57" width="65" height="4.07" fill="#5674fa"/>
<rect x="587" y="729.64" width="65" height="5.30" fill="#5892f6"/>
<rect x="587" y="733.95" width="65" height="2.84" fill="#cbf466"/>
<rect x="587" y="735.79" width="65" height="3.46" fill="#55cdc8"/>
<rect x="587" y="738.25" width="65" height="4.07" fill="#e9fb3c"/>
<rect x="587" y="741.32" width="65" height="2.23" fill="#88d476"/>
<rect x="587" y="742.55" width="65" height="5.30" fill="#5892f6"/>
<rect x="587" y="746.86" width="65" height="2.23" fill="#55acf0"/>
<rect x="587" y="748.09" width="65" height="2.23" fill="#c8e2e2"/>
<rect x="587" y="749.32" width="65" height="2.23" fill="#4a4868"/>
<rect x="587" y="750.55" width="65" height="2.84" fill="#5892f6"/>
<rect x="587" y="752.39" width="65" height="2.23" fill="#55acf0"/>
<rect x="587" y="753.62" width="65" height="2.84" fill="#4e40f8"/>
<rect x="587" y="755.47" width="65" height="2.84" fill="#88d476"/>
<rect x="587" y="757.31" width="65" height="3.46" fill="#e9fb3c"/>
<rect x="587" y="759.77" width="65" height="4.07" fill="#64d4a8"/>
<rect x="587" y="762.84" width="65" height="2.84" fill="#5892f6"/>
<rect x="587" y="764.69" width="65" height="2.84" fill="#55acf0"/>
<rect x="587" y="766.53" width="65" height="2.84" fill="#cbf466"/>
<rect x="587" y="768.38" width="65" height="4.69" fill="#55cdc8"/>
<rect x="587" y="772.07" width="65" height="2.84" fill="#4634ee"/>
<rect x="587" y="773.91" width="65" height="2.09" fill="#55acf0"/>
<rect x="652" y="678.00" width="65" height="2.84" fill="#88d476"/>
<rect x="652" y="679.84" width="65" height="2.84" fill="#5458fb"/>
<rect x="652" y="681.69" width="65" height="4.69" fill="#4e40f8"/>
<rect x="652" y="685.38" width="65" height="2.84" fill="#4634ee"/>
<rect x="652" y="687.22" width="65" height="2.84" fill="#55acf0"/>
<rect x="652" y="689.07" width="65" height="9.61" fill="#4634ee"/>
<rect x="652" y="697.67" width="65" height="2.84" fill="#50c0e4"/>
<rect x="652" y="699.52" width="65" height="8.38" fill="#4634ee"/>
<rect x="652" y="706.90" width="65" height="2.84" fill="#55acf0"/>
<rect x="652" y="708.74" width="65" height="3.46" fill="#4e40f8"/>
<rect x="652" y="711.20" width="65" height="3.46" fill="#55acf0"/>
<rect x="652" y="713.66" width="65" height="12.07" fill="#4634ee"/>
<rect x="652" y="724.73" width="65" height="5.30" fill="#5458fb"/>
<rect x="652" y="729.03" width="65" height="4.07" fill="#55acf0"/>
<rect x="652" y="732.10" width="65" height="3.46" fill="#5892f6"/>
<rect x="652" y="734.56" width="65" height="2.84" fill="#cbf466"/>
<rect x="652" y="736.41" width="65" height="2.84" fill="#5892f6"/>
<rect x="652" y="738.25" width="65" height="2.84" fill="#cbf466"/>
<rect x="652" y="740.10" width="65" height="2.84" fill="#4e40f8"/>
<rect x="652" y="741.94" width="65" height="4.07" fill="#5458fb"/>
<rect x="652" y="745.01" width="65" height="2.84" fill="#4e40f8"/>
<rect x="652" y="746.86" width="65" height="3.46" fill="#5892f6"/>
<rect x="652" y="749.32" width="65" height="2.23" fill="#3c28dc"/>
<rect x="652" y="750.55" width="65" height="2.84" fill="#5892f6"/>
<rect x="652" y="752.39" width="65" height="2.84" fill="#50c0e4"/>
<rect x="652" y="754.24" width="65" height="3.46" fill="#55acf0"/>
<rect x="652" y="756.70" width="65" height="4.07" fill="#f0d040"/>
<rect x="652" y="759.77" width="65" height="4.07" fill="#64d4a8"/>
<rect x="652" y="762.84" width="65" height="3.46" fill="#5892f6"/>
<rect x="652" y="765.30" width="65" height="3.46" fill="#cbf466"/>
<rect x="652" y="767.76" width="65" height="4.69" fill="#55cdc8"/>
<rect x="652" y="771.45" width="65" height="2.84" fill="#5892f6"/>
<rect x="652" y="773.29" width="65" height="2.71" fill="#55acf0"/>
<rect x="457" y="776.00" width="65" height="2.84" fill="#88d476"/>
<rect x="457" y="777.84" width="65" height="4.07" fill="#55acf0"/>
<rect x="457" y="780.92" width="65" height="3.46" fill="#4634ee"/>
<rect x="457" y="783.38" width="65" height="3.46" fill="#4e40f8"/>
<rect x="457" y="785.84" width="65" height="5.92" fill="#4634ee"/>
<rect x="457" y="790.76" width="65" height="3.46" fill="#4e40f8"/>
<rect x="457" y="793.21" width="65" height="2.23" fill="#4634ee"/>
<rect x="457" y="794.44" width="65" height="2.23" fill="#c8e2e2"/>
<rect x="457" y="795.67" width="65" height="2.84" fill="#4634ee"/>
<rect x="457" y="797.52" width="65" height="4.07" fill="#5458fb"/>
<rect x="457" y="800.59" width="65" height="2.84" fill="#55acf0"/>
<rect x="457" y="802.44" width="65" height="3.46" fill="#4e40f8"/>
<rect x="457" y="804.90" width="65" height="3.46" fill="#55acf0"/>
<rect x="457" y="807.36" width="65" height="3.46" fill="#4e40f8"/>
<rect x="457" y="809.81" width="65" height="2.84" fill="#55cdc8"/>
<rect x="457" y="811.66" width="65" height="7.15" fill="#4634ee"/>
<rect x="457" y="817.81" width="65" height="3.46" fill="#88d476"/>
<rect x="457" y="820.27" width="65" height="3.46" fill="#55acf0"/>
<rect x="457" y="822.73" width="65" height="3.46" fill="#4634ee"/>
<rect x="457" y="825.18" width="65" height="3.46" fill="#f0d040"/>
<rect x="457" y="827.64" width="65" height="3.46" fill="#55cdc8"/>
<rect x="457" y="830.10" width="65" height="2.84" fill="#cbf466"/>
<rect x="457" y="831.95" width="65" height="3.46" fill="#5892f6"/>
<rect x="457" y="834.41" width="65" height="4.07" fill="#55acf0"/>
<rect x="457" y="837.48" width="65" height="4.07" fill="#cbf466"/>
<rect x="457" y="840.55" width="65" height="2.84" fill="#55cdc8"/>
<rect x="457" y="842.40" width="65" height="3.46" fill="#cbf466"/>
<rect x="457" y="844.86" width="65" height="3.46" fill="#5892f6"/>
<rect x="457" y="847.32" width="65" height="3.46" fill="#4e40f8"/>
<rect x="457" y="849.78" width="65" height="5.92" fill="#5458fb"/>
<rect x="457" y="854.70" width="65" height="3.46" fill="#55acf0"/>
<rect x="457" y="857.15" width="65" height="4.69" fill="#4e40f8"/>
<rect x="457" y="860.84" width="65" height="2.84" fill="#5458fb"/>
<rect x="457" y="862.69" width="65" height="4.07" fill="#55acf0"/>
<rect x="457" y="865.76" width="65" height="5.30" fill="#5458fb"/>
<rect x="457" y="870.07" width="65" height="2.84" fill="#cbf466"/>
<rect x="457" y="871.91" width="65" height="2.09" fill="#5892f6"/>
<rect x="522" y="776.00" width="65" height="5.30" fill="#e9fb3c"/>
<rect x="522" y="780.30" width="65" height="10.84" fill="#4634ee"/>
<rect x="522" y="790.14" width="65" height="4.07" fill="#55acf0"/>
<rect x="522" y="793.21" width="65" height="3.46" fill="#5892f6"/>
<rect x="522" y="795.67" width="65" height="4.07" fill="#4634ee"/>
<rect x="522" y="798.75" width="65" height="2.84" fill="#5458fb"/>
<rect x="522" y="800.59" width="65" height="3.46" fill="#55acf0"/>
<rect x="522" y="803.05" width="65" height="2.23" fill="#4634ee"/>
<rect x="522" y="804.28" width="65" height="3.46" fill="#50c0e4"/>
<rect x="522" y="806.74" width="65" height="2.84" fill="#4e40f8"/>
<rect x="522" y="808.58" width="65" height="4.07" fill="#55acf0"/>
<rect x="522" y="811.66" width="65" height="7.15" fill="#4e40f8"/>
<rect x="522" y="817.81" width="65" height="3.46" fill="#64d4a8"/>
<rect x="522" y="820.27" width="65" height="3.46" fill="#cbf466"/>
<rect x="522" y="822.73" width="65" height="3.46" fill="#4e40f8"/>
<rect x="522" y="825.18" width="65" height="3.46" fill="#cbf466"/>
<rect x="522" y="827.64" width="65" height="2.23" fill="#4634ee"/>
<rect x="522" y="828.87" width="65" height="3.46" fill="#55acf0"/>
<rect x="522" y="831.33" width="65" height="3.46" fill="#f0d040"/>
<rect x="522" y="833.79" width="65" height="3.46" fill="#5892f6"/>
<rect x="522" y="836.25" width="65" height="2.84" fill="#55acf0"/>
<rect x="522" y="838.10" width="65" height="4.07" fill="#e9fb3c"/>
<rect x="522" y="841.17" width="65" height="4.07" fill="#88d476"/>
<rect x="522" y="844.24" width="65" height="4.07" fill="#55cdc8"/>
<rect x="522" y="847.32" width="65" height="8.38" fill="#4634ee"/>
<rect x="522" y="854.70" width="65" height="7.15" fill="#5458fb"/>
<rect x="522" y="860.84" width="65" height="4.69" fill="#4e40f8"/>
<rect x="522" y="864.53" width="65" height="3.46" fill="#5892f6"/>
<rect x="522" y="866.99" width="65" height="4.07" fill="#4634ee"/>
<rect x="522" y="870.07" width="65" height="2.84" fill="#c8e2e2"/>
<rect x="522" y="871.91" width="65" height="2.09" fill="#5892f6"/>
<rect x="587" y="776.00" width="65" height="2.84" fill="#55cdc8"/>
<rect x="587" y="777.84" width="65" height="2.84" fill="#cbf466"/>
<rect x="587" y="779.69" width="65" height="3.46" fill="#88d476"/>
<rect x="587" y="782.15" width="65" height="4.07" fill="#f0d040"/>
<rect x="587" y="785.22" width="65" height="7.76" fill="#e9fb3c"/>
<rect x="587" y="791.98" width="65" height="2.84" fill="#88d476"/>
<rect x="587" y="793.83" width="65" height="7.15" fill="#e9fb3c"/>
<rect x="587" y="799.98" width="65" height="3.46" fill="#64d4a8"/>
<rect x="587" y="802.44" width="65" height="3.46" fill="#cbf466"/>
<rect x="587" y="804.90" width="65" height="2.84" fill="#88d476"/>
<rect x="587" y="806.74" width="65" height="8.38" fill="#e9fb3c"/>
<rect x="587" y="814.12" width="65" height="4.07" fill="#50c0e4"/>
<rect x="587" y="817.19" width="65" height="4.07" fill="#88d476"/>
<rect x="587" y="820.27" width="65" height="5.30" fill="#e9fb3c"/>
<rect x="587" y="824.57" width="65" height="2.84" fill="#88d476"/>
<rect x="587" y="826.41" width="65" height="7.15" fill="#e9fb3c"/>
<rect x="587" y="832.56" width="65" height="2.84" fill="#4a4868"/>
<rect x="587" y="834.41" width="65" height="2.84" fill="#c8e2e2"/>
<rect x="587" y="836.25" width="65" height="3.46" fill="#e9fb3c"/>
<rect x="587" y="838.71" width="65" height="3.46" fill="#88d476"/>
<rect x="587" y="841.17" width="65" height="3.46" fill="#cbf466"/>
<rect x="587" y="843.63" width="65" height="4.07" fill="#e9fb3c"/>
<rect x="587" y="846.70" width="65" height="2.23" fill="#55cdc8"/>
<rect x="587" y="847.93" width="65" height="4.07" fill="#4634ee"/>
<rect x="587" y="851.01" width="65" height="4.69" fill="#5674fa"/>
<rect x="587" y="854.70" width="65" height="8.38" fill="#4634ee"/>
<rect x="587" y="862.07" width="65" height="3.46" fill="#5674fa"/>
<rect x="587" y="864.53" width="65" height="4.69" fill="#5458fb"/>
<rect x="587" y="868.22" width="65" height="3.46" fill="#4634ee"/>
<rect x="587" y="870.68" width="65" height="2.23" fill="#c8e2e2"/>
<rect x="587" y="871.91" width="65" height="2.09" fill="#5458fb"/>
<rect x="652" y="776.00" width="65" height="5.92" fill="#55acf0"/>
<rect x="652" y="780.92" width="65" height="5.30" fill="#4e40f8"/>
<rect x="652" y="785.22" width="65" height="7.76" fill="#5892f6"/>
<rect x="652" y="791.98" width="65" height="4.07" fill="#4634ee"/>
<rect x="652" y="795.06" width="65" height="2.23" fill="#c8e2e2"/>
<rect x="652" y="796.29" width="65" height="4.69" fill="#5458fb"/>
<rect x="652" y="799.98" width="65" height="2.84" fill="#cbf466"/>
<rect x="652" y="801.82" width="65" height="4.69" fill="#5892f6"/>
<rect x="652" y="805.51" width="65" height="3.46" fill="#55acf0"/>
<rect x="652" y="807.97" width="65" height="4.69" fill="#55cdc8"/>
<rect x="652" y="811.66" width="65" height="4.69" fill="#5892f6"/>
<rect x="652" y="815.35" width="65" height="4.07" fill="#55acf0"/>
<rect x="652" y="818.42" width="65" height="3.46" fill="#f0d040"/>
<rect x="652" y="820.88" width="65" height="5.30" fill="#55acf0"/>
<rect x="652" y="825.18" width="65" height="2.84" fill="#88d476"/>
<rect x="652" y="827.03" width="65" height="2.84" fill="#55acf0"/>
<rect x="652" y="828.87" width="65" height="3.46" fill="#55cdc8"/>
<rect x="652" y="831.33" width="65" height="3.46" fill="#4a4868"/>
<rect x="652" y="833.79" width="65" height="3.46" fill="#55acf0"/>
<rect x="652" y="836.25" width="65" height="4.07" fill="#64d4a8"/>
<rect x="652" y="839.32" width="65" height="5.30" fill="#cbf466"/>
<rect x="652" y="843.63" width="65" height="3.46" fill="#55cdc8"/>
<rect x="652" y="846.09" width="65" height="2.84" fill="#55acf0"/>
<rect x="652" y="847.93" width="65" height="7.76" fill="#e9fb3c"/>
<rect x="652" y="854.70" width="65" height="2.84" fill="#55cdc8"/>
<rect x="652" y="856.54" width="65" height="4.07" fill="#e9fb3c"/>
<rect x="652" y="859.61" width="65" height="3.46" fill="#55acf0"/>
<rect x="652" y="862.07" width="65" height="3.46" fill="#88d476"/>
<rect x="652" y="864.53" width="65" height="9.47" fill="#e9fb3c"/>
<rect x="457" y="874.00" width="65" height="4.07" fill="#55acf0"/>
<rect x="457" y="877.07" width="65" height="4.07" fill="#55cdc8"/>
<rect x="457" y="880.15" width="65" height="4.07" fill="#5892f6"/>
<rect x="457" y="883.22" width="65" height="2.84" fill="#5458fb"/>
<rect x="457" y="885.07" width="65" height="3.46" fill="#55acf0"/>
<rect x="457" y="887.53" width="65" height="4.07" fill="#50c0e4"/>
<rect x="457" y="890.60" width="65" height="2.84" fill="#5892f6"/>
<rect x="457" y="892.44" width="65" height="6.53" fill="#64d4a8"/>
<rect x="457" y="897.98" width="65" height="3.46" fill="#88d476"/>
<rect x="457" y="900.44" width="65" height="2.84" fill="#5892f6"/>
<rect x="457" y="902.28" width="65" height="4.69" fill="#5674fa"/>
<rect x="457" y="905.97" width="65" height="4.69" fill="#cbf466"/>
<rect x="457" y="909.66" width="65" height="4.69" fill="#5458fb"/>
<rect x="457" y="913.35" width="65" height="4.69" fill="#5892f6"/>
<rect x="457" y="917.04" width="65" height="2.84" fill="#f0d040"/>
<rect x="457" y="918.88" width="65" height="2.84" fill="#55acf0"/>
<rect x="457" y="920.73" width="65" height="4.69" fill="#50c0e4"/>
<rect x="457" y="924.41" width="65" height="3.46" fill="#5892f6"/>
<rect x="457" y="926.87" width="65" height="4.07" fill="#cbf466"/>
<rect x="457" y="929.95" width="65" height="4.07" fill="#5458fb"/>
<rect x="457" y="933.02" width="65" height="4.07" fill="#64d4a8"/>
<rect x="457" y="936.10" width="65" height="4.69" fill="#5892f6"/>
<rect x="457" y="939.78" width="65" height="4.07" fill="#55cdc8"/>
<rect x="457" y="942.86" width="65" height="3.46" fill="#5458fb"/>
<rect x="457" y="945.32" width="65" height="2.84" fill="#f0d040"/>
<rect x="457" y="947.16" width="65" height="3.46" fill="#55acf0"/>
<rect x="457" y="949.62" width="65" height="3.46" fill="#55cdc8"/>
<rect x="457" y="952.08" width="65" height="2.84" fill="#5892f6"/>
<rect x="457" y="953.92" width="65" height="2.84" fill="#f0d040"/>
<rect x="457" y="955.77" width="65" height="2.84" fill="#55acf0"/>
<rect x="457" y="957.61" width="65" height="4.07" fill="#e9fb3c"/>
<rect x="457" y="960.69" width="65" height="2.84" fill="#55cdc8"/>
<rect x="457" y="962.53" width="65" height="2.84" fill="#cbf466"/>
<rect x="457" y="964.38" width="65" height="4.07" fill="#64d4a8"/>
<rect x="457" y="967.45" width="65" height="4.69" fill="#88d476"/>
<rect x="457" y="971.14" width="65" height="0.86" fill="#4a4868"/>
<rect x="522" y="874.00" width="65" height="2.84" fill="#4634ee"/>
<rect x="522" y="875.84" width="65" height="5.30" fill="#5458fb"/>
<rect x="522" y="880.15" width="65" height="7.15" fill="#4e40f8"/>
<rect x="522" y="886.30" width="65" height="7.15" fill="#4634ee"/>
<rect x="522" y="892.44" width="65" height="2.84" fill="#55acf0"/>
<rect x="522" y="894.29" width="65" height="2.84" fill="#4634ee"/>
<rect x="522" y="896.13" width="65" height="3.46" fill="#55acf0"/>
<rect x="522" y="898.59" width="65" height="3.46" fill="#5458fb"/>
<rect x="522" y="901.05" width="65" height="3.46" fill="#55acf0"/>
<rect x="522" y="903.51" width="65" height="5.92" fill="#4634ee"/>
<rect x="522" y="908.43" width="65" height="3.46" fill="#55acf0"/>
<rect x="522" y="910.89" width="65" height="5.30" fill="#4634ee"/>
<rect x="522" y="915.19" width="65" height="3.46" fill="#5458fb"/>
<rect x="522" y="917.65" width="65" height="2.84" fill="#c8e2e2"/>
<rect x="522" y="919.50" width="65" height="3.46" fill="#5458fb"/>
<rect x="522" y="921.95" width="65" height="3.46" fill="#4634ee"/>
<rect x="522" y="924.41" width="65" height="3.46" fill="#5892f6"/>
<rect x="522" y="926.87" width="65" height="4.07" fill="#5458fb"/>
<rect x="522" y="929.95" width="65" height="2.84" fill="#55cdc8"/>
<rect x="522" y="931.79" width="65" height="2.84" fill="#4e40f8"/>
<rect x="522" y="933.64" width="65" height="2.84" fill="#5892f6"/>
<rect x="522" y="935.48" width="65" height="4.69" fill="#5458fb"/>
<rect x="522" y="939.17" width="65" height="2.84" fill="#55acf0"/>
<rect x="522" y="941.01" width="65" height="4.07" fill="#e9fb3c"/>
<rect x="522" y="944.09" width="65" height="2.84" fill="#4e40f8"/>
<rect x="522" y="945.93" width="65" height="2.84" fill="#f0d040"/>
<rect x="522" y="947.78" width="65" height="7.15" fill="#55acf0"/>
<rect x="522" y="953.92" width="65" height="2.84" fill="#f0d040"/>
<rect x="522" y="955.77" width="65" height="2.84" fill="#55acf0"/>
<rect x="522" y="957.61" width="65" height="3.46" fill="#64d4a8"/>
<rect x="522" y="960.07" width="65" height="2.84" fill="#5458fb"/>
<rect x="522" y="961.92" width="65" height="2.23" fill="#c8e2e2"/>
<rect x="522" y="963.15" width="65" height="5.30" fill="#55acf0"/>
<rect x="522" y="967.45" width="65" height="4.69" fill="#5892f6"/>
<rect x="522" y="971.14" width="65" height="0.86" fill="#4a4868"/>
<rect x="587" y="874.00" width="65" height="4.69" fill="#4e40f8"/>
<rect x="587" y="877.69" width="65" height="3.46" fill="#50c0e4"/>
<rect x="587" y="880.15" width="65" height="8.38" fill="#4e40f8"/>
<rect x="587" y="887.53" width="65" height="5.30" fill="#4634ee"/>
<rect x="587" y="891.83" width="65" height="3.46" fill="#55acf0"/>
<rect x="587" y="894.29" width="65" height="2.84" fill="#4e40f8"/>
<rect x="587" y="896.13" width="65" height="2.84" fill="#55acf0"/>
<rect x="587" y="897.98" width="65" height="3.46" fill="#5458fb"/>
<rect x="587" y="900.44" width="65" height="2.84" fill="#55acf0"/>
<rect x="587" y="902.28" width="65" height="6.53" fill="#4e40f8"/>
<rect x="587" y="907.81" width="65" height="3.46" fill="#55acf0"/>
<rect x="587" y="910.27" width="65" height="4.07" fill="#4e40f8"/>
<rect x="587" y="913.35" width="65" height="4.69" fill="#5458fb"/>
<rect x="587" y="917.04" width="65" height="3.46" fill="#55acf0"/>
<rect x="587" y="919.50" width="65" height="3.46" fill="#5674fa"/>
<rect x="587" y="921.95" width="65" height="3.46" fill="#4e40f8"/>
<rect x="587" y="924.41" width="65" height="2.84" fill="#c8e2e2"/>
<rect x="587" y="926.26" width="65" height="6.53" fill="#4634ee"/>
<rect x="587" y="931.79" width="65" height="2.84" fill="#5458fb"/>
<rect x="587" y="933.64" width="65" height="2.23" fill="#c8e2e2"/>
<rect x="587" y="934.87" width="65" height="6.53" fill="#5674fa"/>
<rect x="587" y="940.40" width="65" height="2.84" fill="#4e40f8"/>
<rect x="587" y="942.24" width="65" height="2.84" fill="#cbf466"/>
<rect x="587" y="944.09" width="65" height="2.84" fill="#4634ee"/>
<rect x="587" y="945.93" width="65" height="2.84" fill="#f0d040"/>
<rect x="587" y="947.78" width="65" height="2.84" fill="#5458fb"/>
<rect x="587" y="949.62" width="65" height="4.69" fill="#88d476"/>
<rect x="587" y="953.31" width="65" height="3.46" fill="#55cdc8"/>
<rect x="587" y="955.77" width="65" height="2.84" fill="#cbf466"/>
<rect x="587" y="957.61" width="65" height="4.07" fill="#50c0e4"/>
<rect x="587" y="960.69" width="65" height="2.84" fill="#cbf466"/>
<rect x="587" y="962.53" width="65" height="3.46" fill="#55cdc8"/>
<rect x="587" y="964.99" width="65" height="2.84" fill="#4e40f8"/>
<rect x="587" y="966.84" width="65" height="5.30" fill="#64d4a8"/>
<rect x="587" y="971.14" width="65" height="0.86" fill="#4a4868"/>
<rect x="652" y="874.00" width="65" height="22.52" fill="#e9fb3c"/>
<rect x="652" y="895.52" width="65" height="2.84" fill="#f0d040"/>
<rect x="652" y="897.36" width="65" height="4.07" fill="#e9fb3c"/>
<rect x="652" y="900.44" width="65" height="2.23" fill="#64d4a8"/>
<rect x="652" y="901.67" width="65" height="3.46" fill="#88d476"/>
<rect x="652" y="904.13" width="65" height="6.53" fill="#e9fb3c"/>
<rect x="652" y="909.66" width="65" height="2.23" fill="#88d476"/>
<rect x="652" y="910.89" width="65" height="15.76" fill="#e9fb3c"/>
<rect x="652" y="925.64" width="65" height="3.46" fill="#55cdc8"/>
<rect x="652" y="928.10" width="65" height="2.84" fill="#e9fb3c"/>
<rect x="652" y="929.95" width="65" height="2.84" fill="#55cdc8"/>
<rect x="652" y="931.79" width="65" height="5.92" fill="#e9fb3c"/>
<rect x="652" y="936.71" width="65" height="4.69" fill="#50c0e4"/>
<rect x="652" y="940.40" width="65" height="3.46" fill="#cbf466"/>
<rect x="652" y="942.86" width="65" height="3.46" fill="#55cdc8"/>
<rect x="652" y="945.32" width="65" height="2.23" fill="#4e40f8"/>
<rect x="652" y="946.55" width="65" height="4.07" fill="#f0d040"/>
<rect x="652" y="949.62" width="65" height="5.30" fill="#55cdc8"/>
<rect x="652" y="953.92" width="65" height="2.84" fill="#f0d040"/>
<rect x="652" y="955.77" width="65" height="4.07" fill="#cbf466"/>
<rect x="652" y="958.84" width="65" height="2.84" fill="#88d476"/>
<rect x="652" y="960.69" width="65" height="2.84" fill="#e9fb3c"/>
<rect x="652" y="962.53" width="65" height="3.46" fill="#f0d040"/>
<rect x="652" y="964.99" width="65" height="7.15" fill="#e9fb3c"/>
<rect x="652" y="971.14" width="65" height="0.86" fill="#4a4868"/>
<rect x="790.5" y="580.00" width="65.0" height="3.48" fill="#4634ee"/>
<rect x="790.5" y="582.48" width="65.0" height="3.48" fill="#c8e2e2"/>
<rect x="790.5" y="584.96" width="65.0" height="2.86" fill="#55cdc8"/>
<rect x="790.5" y="586.81" width="65.0" height="2.86" fill="#50c0e4"/>
<rect x="790.5" y="588.67" width="65.0" height="4.10" fill="#5458fb"/>
<rect x="790.5" y="591.77" width="65.0" height="4.10" fill="#55acf0"/>
<rect x="790.5" y="594.87" width="65.0" height="4.72" fill="#5458fb"/>
<rect x="790.5" y="598.58" width="65.0" height="4.72" fill="#55acf0"/>
<rect x="790.5" y="602.30" width="65.0" height="3.48" fill="#5892f6"/>
<rect x="790.5" y="604.78" width="65.0" height="2.86" fill="#55cdc8"/>
<rect x="790.5" y="606.64" width="65.0" height="2.86" fill="#cbf466"/>
<rect x="790.5" y="608.50" width="65.0" height="2.86" fill="#4a4868"/>
<rect x="790.5" y="610.35" width="65.0" height="2.24" fill="#c8e2e2"/>
<rect x="790.5" y="611.59" width="65.0" height="4.72" fill="#4e40f8"/>
<rect x="790.5" y="615.31" width="65.0" height="2.86" fill="#cbf466"/>
<rect x="790.5" y="617.17" width="65.0" height="3.48" fill="#5892f6"/>
<rect x="790.5" y="619.65" width="65.0" height="2.86" fill="#c8e2e2"/>
<rect x="790.5" y="621.50" width="65.0" height="2.86" fill="#4634ee"/>
<rect x="790.5" y="623.36" width="65.0" height="3.48" fill="#5458fb"/>
<rect x="790.5" y="625.84" width="65.0" height="3.48" fill="#88d476"/>
<rect x="790.5" y="628.32" width="65.0" height="2.86" fill="#55acf0"/>
<rect x="790.5" y="630.18" width="65.0" height="4.72" fill="#5892f6"/>
<rect x="790.5" y="633.89" width="65.0" height="2.86" fill="#cbf466"/>
<rect x="790.5" y="635.75" width="65.0" height="2.24" fill="#4a4868"/>
<rect x="790.5" y="636.99" width="65.0" height="2.86" fill="#c8e2e2"/>
<rect x="790.5" y="638.85" width="65.0" height="2.86" fill="#4a4868"/>
<rect x="790.5" y="640.71" width="65.0" height="2.86" fill="#4e40f8"/>
<rect x="790.5" y="642.57" width="65.0" height="4.10" fill="#55cdc8"/>
<rect x="790.5" y="645.66" width="65.0" height="2.86" fill="#64d4a8"/>
<rect x="790.5" y="647.52" width="65.0" height="2.86" fill="#5892f6"/>
<rect x="790.5" y="649.38" width="65.0" height="4.72" fill="#64d4a8"/>
<rect x="790.5" y="653.10" width="65.0" height="2.86" fill="#cbf466"/>
<rect x="790.5" y="654.96" width="65.0" height="2.86" fill="#e9fb3c"/>
<rect x="790.5" y="656.81" width="65.0" height="3.48" fill="#55cdc8"/>
<rect x="790.5" y="659.29" width="65.0" height="2.86" fill="#cbf466"/>
<rect x="790.5" y="661.15" width="65.0" height="2.86" fill="#55cdc8"/>
<rect x="790.5" y="663.01" width="65.0" height="3.48" fill="#4634ee"/>
<rect x="790.5" y="665.49" width="65.0" height="2.86" fill="#c8e2e2"/>
<rect x="790.5" y="667.35" width="65.0" height="2.86" fill="#f0d040"/>
<rect x="790.5" y="669.20" width="65.0" height="3.48" fill="#cbf466"/>
<rect x="790.5" y="671.68" width="65.0" height="3.48" fill="#5892f6"/>
<rect x="790.5" y="674.16" width="65.0" height="2.86" fill="#55cdc8"/>
<rect x="790.5" y="676.02" width="65.0" height="1.98" fill="#cbf466"/>
<rect x="855.5" y="580.00" width="65.20000000000005" height="3.48" fill="#55cdc8"/>
<rect x="855.5" y="582.48" width="65.20000000000005" height="2.86" fill="#c8e2e2"/>
<rect x="855.5" y="584.34" width="65.20000000000005" height="3.48" fill="#cbf466"/>
<rect x="855.5" y="586.81" width="65.20000000000005" height="2.86" fill="#5892f6"/>
<rect x="855.5" y="588.67" width="65.20000000000005" height="5.96" fill="#5458fb"/>
<rect x="855.5" y="593.63" width="65.20000000000005" height="2.86" fill="#f0d040"/>
<rect x="855.5" y="595.49" width="65.20000000000005" height="3.48" fill="#4e40f8"/>
<rect x="855.5" y="597.96" width="65.20000000000005" height="2.86" fill="#5458fb"/>
<rect x="855.5" y="599.82" width="65.20000000000005" height="2.86" fill="#4634ee"/>
<rect x="855.5" y="601.68" width="65.20000000000005" height="3.48" fill="#5892f6"/>
<rect x="855.5" y="604.16" width="65.20000000000005" height="3.48" fill="#55cdc8"/>
<rect x="855.5" y="606.64" width="65.20000000000005" height="2.86" fill="#cbf466"/>
<rect x="855.5" y="608.50" width="65.20000000000005" height="2.86" fill="#55cdc8"/>
<rect x="855.5" y="610.35" width="65.20000000000005" height="4.10" fill="#4634ee"/>
<rect x="855.5" y="613.45" width="65.20000000000005" height="3.48" fill="#5892f6"/>
<rect x="855.5" y="615.93" width="65.20000000000005" height="4.72" fill="#4e40f8"/>
<rect x="855.5" y="619.65" width="65.20000000000005" height="2.86" fill="#c8e2e2"/>
<rect x="855.5" y="621.50" width="65.20000000000005" height="2.86" fill="#5458fb"/>
<rect x="855.5" y="623.36" width="65.20000000000005" height="3.48" fill="#4e40f8"/>
<rect x="855.5" y="625.84" width="65.20000000000005" height="2.86" fill="#c8e2e2"/>
<rect x="855.5" y="627.70" width="65.20000000000005" height="2.86" fill="#4634ee"/>
<rect x="855.5" y="629.56" width="65.20000000000005" height="3.48" fill="#5892f6"/>
<rect x="855.5" y="632.04" width="65.20000000000005" height="2.86" fill="#4e40f8"/>
<rect x="855.5" y="633.89" width="65.20000000000005" height="2.86" fill="#cbf466"/>
<rect x="855.5" y="635.75" width="65.20000000000005" height="2.24" fill="#4a4868"/>
<rect x="855.5" y="636.99" width="65.20000000000005" height="2.86" fill="#55acf0"/>
<rect x="855.5" y="638.85" width="65.20000000000005" height="4.10" fill="#4634ee"/>
<rect x="855.5" y="641.95" width="65.20000000000005" height="7.81" fill="#5674fa"/>
<rect x="855.5" y="648.76" width="65.20000000000005" height="3.48" fill="#55acf0"/>
<rect x="855.5" y="651.24" width="65.20000000000005" height="2.86" fill="#cbf466"/>
<rect x="855.5" y="653.10" width="65.20000000000005" height="5.34" fill="#e9fb3c"/>
<rect x="855.5" y="657.43" width="65.20000000000005" height="2.86" fill="#4634ee"/>
<rect x="855.5" y="659.29" width="65.20000000000005" height="3.48" fill="#cbf466"/>
<rect x="855.5" y="661.77" width="65.20000000000005" height="3.48" fill="#55acf0"/>
<rect x="855.5" y="664.25" width="65.20000000000005" height="2.86" fill="#4634ee"/>
<rect x="855.5" y="666.11" width="65.20000000000005" height="2.86" fill="#c8e2e2"/>
<rect x="855.5" y="667.96" width="65.20000000000005" height="4.72" fill="#55cdc8"/>
<rect x="855.5" y="671.68" width="65.20000000000005" height="3.48" fill="#55acf0"/>
<rect x="855.5" y="674.16" width="65.20000000000005" height="2.86" fill="#5892f6"/>
<rect x="855.5" y="676.02" width="65.20000000000005" height="1.98" fill="#cbf466"/>
<rect x="920.7" y="580.00" width="65.29999999999995" height="3.48" fill="#4e40f8"/>
<rect x="920.7" y="582.48" width="65.29999999999995" height="3.48" fill="#c8e2e2"/>
<rect x="920.7" y="584.96" width="65.29999999999995" height="3.48" fill="#88d476"/>
<rect x="920.7" y="587.43" width="65.29999999999995" height="3.48" fill="#55cdc8"/>
<rect x="920.7" y="589.91" width="65.29999999999995" height="4.10" fill="#5458fb"/>
<rect x="920.7" y="593.01" width="65.29999999999995" height="2.86" fill="#4634ee"/>
<rect x="920.7" y="594.87" width="65.29999999999995" height="4.72" fill="#5674fa"/>
<rect x="920.7" y="598.58" width="65.29999999999995" height="2.86" fill="#4634ee"/>
<rect x="920.7" y="600.44" width="65.29999999999995" height="4.72" fill="#5892f6"/>
<rect x="920.7" y="604.16" width="65.29999999999995" height="3.48" fill="#5458fb"/>
<rect x="920.7" y="606.64" width="65.29999999999995" height="4.10" fill="#cbf466"/>
<rect x="920.7" y="609.73" width="65.29999999999995" height="2.86" fill="#5892f6"/>
<rect x="920.7" y="611.59" width="65.29999999999995" height="4.10" fill="#5674fa"/>
<rect x="920.7" y="614.69" width="65.29999999999995" height="2.86" fill="#c8e2e2"/>
<rect x="920.7" y="616.55" width="65.29999999999995" height="4.10" fill="#5674fa"/>
<rect x="920.7" y="619.65" width="65.29999999999995" height="2.86" fill="#c8e2e2"/>
<rect x="920.7" y="621.50" width="65.29999999999995" height="5.96" fill="#5458fb"/>
<rect x="920.7" y="626.46" width="65.29999999999995" height="3.48" fill="#cbf466"/>
<rect x="920.7" y="628.94" width="65.29999999999995" height="3.48" fill="#5892f6"/>
<rect x="920.7" y="631.42" width="65.29999999999995" height="4.10" fill="#55acf0"/>
<rect x="920.7" y="634.51" width="65.29999999999995" height="2.86" fill="#88d476"/>
<rect x="920.7" y="636.37" width="65.29999999999995" height="2.86" fill="#4a4868"/>
<rect x="920.7" y="638.23" width="65.29999999999995" height="2.86" fill="#c8e2e2"/>
<rect x="920.7" y="640.09" width="65.29999999999995" height="2.86" fill="#4e40f8"/>
<rect x="920.7" y="641.95" width="65.29999999999995" height="3.48" fill="#c8e2e2"/>
<rect x="920.7" y="644.42" width="65.29999999999995" height="4.72" fill="#55cdc8"/>
<rect x="920.7" y="648.14" width="65.29999999999995" height="4.72" fill="#55acf0"/>
<rect x="920.7" y="651.86" width="65.29999999999995" height="3.48" fill="#cbf466"/>
<rect x="920.7" y="654.34" width="65.29999999999995" height="2.86" fill="#4634ee"/>
<rect x="920.7" y="656.19" width="65.29999999999995" height="2.86" fill="#50c0e4"/>
<rect x="920.7" y="658.05" width="65.29999999999995" height="2.86" fill="#5892f6"/>
<rect x="920.7" y="659.91" width="65.29999999999995" height="3.48" fill="#c8e2e2"/>
<rect x="920.7" y="662.39" width="65.29999999999995" height="4.10" fill="#55cdc8"/>
<rect x="920.7" y="665.49" width="65.29999999999995" height="2.86" fill="#55acf0"/>
<rect x="920.7" y="667.35" width="65.29999999999995" height="3.48" fill="#cbf466"/>
<rect x="920.7" y="669.82" width="65.29999999999995" height="3.48" fill="#55cdc8"/>
<rect x="920.7" y="672.30" width="65.29999999999995" height="2.86" fill="#cbf466"/>
<rect x="920.7" y="674.16" width="65.29999999999995" height="2.86" fill="#55acf0"/>
<rect x="920.7" y="676.02" width="65.29999999999995" height="1.98" fill="#cbf466"/>
<rect x="986" y="580.00" width="64.5" height="3.48" fill="#4e40f8"/>
<rect x="986" y="582.48" width="64.5" height="3.48" fill="#c8e2e2"/>
<rect x="986" y="584.96" width="64.5" height="2.86" fill="#cbf466"/>
<rect x="986" y="586.81" width="64.5" height="3.48" fill="#f0d040"/>
<rect x="986" y="589.29" width="64.5" height="3.48" fill="#55cdc8"/>
<rect x="986" y="591.77" width="64.5" height="2.86" fill="#55acf0"/>
<rect x="986" y="593.63" width="64.5" height="3.48" fill="#5458fb"/>
<rect x="986" y="596.11" width="64.5" height="2.86" fill="#4e40f8"/>
<rect x="986" y="597.96" width="64.5" height="3.48" fill="#4634ee"/>
<rect x="986" y="600.44" width="64.5" height="2.86" fill="#55acf0"/>
<rect x="986" y="602.30" width="64.5" height="2.86" fill="#c8e2e2"/>
<rect x="986" y="604.16" width="64.5" height="4.72" fill="#cbf466"/>
<rect x="986" y="607.88" width="64.5" height="2.86" fill="#5892f6"/>
<rect x="986" y="609.73" width="64.5" height="3.48" fill="#64d4a8"/>
<rect x="986" y="612.21" width="64.5" height="3.48" fill="#5892f6"/>
<rect x="986" y="614.69" width="64.5" height="2.86" fill="#cbf466"/>
<rect x="986" y="616.55" width="64.5" height="3.48" fill="#5892f6"/>
<rect x="986" y="619.03" width="64.5" height="4.10" fill="#55acf0"/>
<rect x="986" y="622.12" width="64.5" height="4.10" fill="#5458fb"/>
<rect x="986" y="625.22" width="64.5" height="4.10" fill="#cbf466"/>
<rect x="986" y="628.32" width="64.5" height="2.86" fill="#5892f6"/>
<rect x="986" y="630.18" width="64.5" height="3.48" fill="#cbf466"/>
<rect x="986" y="632.65" width="64.5" height="2.86" fill="#55cdc8"/>
<rect x="986" y="634.51" width="64.5" height="2.86" fill="#cbf466"/>
<rect x="986" y="636.37" width="64.5" height="3.48" fill="#5892f6"/>
<rect x="986" y="638.85" width="64.5" height="2.86" fill="#4a4868"/>
<rect x="986" y="640.71" width="64.5" height="4.10" fill="#cbf466"/>
<rect x="986" y="643.81" width="64.5" height="3.48" fill="#55cdc8"/>
<rect x="986" y="646.28" width="64.5" height="3.48" fill="#5892f6"/>
<rect x="986" y="648.76" width="64.5" height="2.86" fill="#55cdc8"/>
<rect x="986" y="650.62" width="64.5" height="3.48" fill="#cbf466"/>
<rect x="986" y="653.10" width="64.5" height="3.48" fill="#55cdc8"/>
<rect x="986" y="655.58" width="64.5" height="3.48" fill="#e9fb3c"/>
<rect x="986" y="658.05" width="64.5" height="2.86" fill="#88d476"/>
<rect x="986" y="659.91" width="64.5" height="3.48" fill="#cbf466"/>
<rect x="986" y="662.39" width="64.5" height="4.10" fill="#5892f6"/>
<rect x="986" y="665.49" width="64.5" height="2.86" fill="#50c0e4"/>
<rect x="986" y="667.35" width="64.5" height="5.34" fill="#f0d040"/>
<rect x="986" y="671.68" width="64.5" height="3.48" fill="#cbf466"/>
<rect x="986" y="674.16" width="64.5" height="3.48" fill="#55cdc8"/>
<rect x="986" y="676.64" width="64.5" height="1.36" fill="#88d476"/>
<rect x="790.5" y="678.00" width="65.0" height="2.86" fill="#88d476"/>
<rect x="790.5" y="679.86" width="65.0" height="2.24" fill="#4a4868"/>
<rect x="790.5" y="681.10" width="65.0" height="2.86" fill="#c8e2e2"/>
<rect x="790.5" y="682.96" width="65.0" height="2.24" fill="#4a4868"/>
<rect x="790.5" y="684.19" width="65.0" height="2.86" fill="#c8e2e2"/>
<rect x="790.5" y="686.05" width="65.0" height="2.24" fill="#55cdc8"/>
<rect x="790.5" y="687.29" width="65.0" height="3.48" fill="#cbf466"/>
<rect x="790.5" y="689.77" width="65.0" height="2.86" fill="#55acf0"/>
<rect x="790.5" y="691.63" width="65.0" height="3.48" fill="#e9fb3c"/>
<rect x="790.5" y="694.11" width="65.0" height="2.86" fill="#4a4868"/>
<rect x="790.5" y="695.96" width="65.0" height="2.86" fill="#cbf466"/>
<rect x="790.5" y="697.82" width="65.0" height="2.86" fill="#88d476"/>
<rect x="790.5" y="699.68" width="65.0" height="4.10" fill="#55acf0"/>
<rect x="790.5" y="702.78" width="65.0" height="2.86" fill="#55cdc8"/>
<rect x="790.5" y="704.64" width="65.0" height="2.86" fill="#88d476"/>
<rect x="790.5" y="706.50" width="65.0" height="2.86" fill="#4634ee"/>
<rect x="790.5" y="708.35" width="65.0" height="3.48" fill="#5892f6"/>
<rect x="790.5" y="710.83" width="65.0" height="3.48" fill="#55cdc8"/>
<rect x="790.5" y="713.31" width="65.0" height="2.86" fill="#88d476"/>
<rect x="790.5" y="715.17" width="65.0" height="4.10" fill="#e9fb3c"/>
<rect x="790.5" y="718.27" width="65.0" height="2.86" fill="#88d476"/>
<rect x="790.5" y="720.12" width="65.0" height="3.48" fill="#55cdc8"/>
<rect x="790.5" y="722.60" width="65.0" height="2.86" fill="#88d476"/>
<rect x="790.5" y="724.46" width="65.0" height="4.10" fill="#5892f6"/>
<rect x="790.5" y="727.56" width="65.0" height="3.48" fill="#88d476"/>
<rect x="790.5" y="730.04" width="65.0" height="3.48" fill="#55cdc8"/>
<rect x="790.5" y="732.51" width="65.0" height="2.86" fill="#55acf0"/>
<rect x="790.5" y="734.37" width="65.0" height="2.86" fill="#cbf466"/>
<rect x="790.5" y="736.23" width="65.0" height="2.86" fill="#f0d040"/>
<rect x="790.5" y="738.09" width="65.0" height="4.10" fill="#e9fb3c"/>
<rect x="790.5" y="741.19" width="65.0" height="5.96" fill="#50c0e4"/>
<rect x="790.5" y="746.14" width="65.0" height="2.86" fill="#c8e2e2"/>
<rect x="790.5" y="748.00" width="65.0" height="2.86" fill="#4a4868"/>
<rect x="790.5" y="749.86" width="65.0" height="2.86" fill="#cbf466"/>
<rect x="790.5" y="751.72" width="65.0" height="3.48" fill="#e9fb3c"/>
<rect x="790.5" y="754.19" width="65.0" height="2.86" fill="#55cdc8"/>
<rect x="790.5" y="756.05" width="65.0" height="2.86" fill="#cbf466"/>
<rect x="790.5" y="757.91" width="65.0" height="3.48" fill="#55cdc8"/>
<rect x="790.5" y="760.39" width="65.0" height="4.72" fill="#e9fb3c"/>
<rect x="790.5" y="764.11" width="65.0" height="2.86" fill="#88d476"/>
<rect x="790.5" y="765.96" width="65.0" height="4.10" fill="#e9fb3c"/>
<rect x="790.5" y="769.06" width="65.0" height="2.86" fill="#88d476"/>
<rect x="790.5" y="770.92" width="65.0" height="3.48" fill="#55cdc8"/>
<rect x="790.5" y="773.40" width="65.0" height="2.60" fill="#88d476"/>
<rect x="855.5" y="678.00" width="65.20000000000005" height="2.86" fill="#cbf466"/>
<rect x="855.5" y="679.86" width="65.20000000000005" height="2.24" fill="#4e40f8"/>
<rect x="855.5" y="681.10" width="65.20000000000005" height="4.72" fill="#4634ee"/>
<rect x="855.5" y="684.81" width="65.20000000000005" height="2.86" fill="#4e40f8"/>
<rect x="855.5" y="686.67" width="65.20000000000005" height="3.48" fill="#50c0e4"/>
<rect x="855.5" y="689.15" width="65.20000000000005" height="3.48" fill="#5674fa"/>
<rect x="855.5" y="691.63" width="65.20000000000005" height="4.72" fill="#4e40f8"/>
<rect x="855.5" y="695.35" width="65.20000000000005" height="2.86" fill="#55acf0"/>
<rect x="855.5" y="697.20" width="65.20000000000005" height="4.10" fill="#cbf466"/>
<rect x="855.5" y="700.30" width="65.20000000000005" height="2.86" fill="#5892f6"/>
<rect x="855.5" y="702.16" width="65.20000000000005" height="3.48" fill="#4634ee"/>
<rect x="855.5" y="704.64" width="65.20000000000005" height="2.86" fill="#c8e2e2"/>
<rect x="855.5" y="706.50" width="65.20000000000005" height="3.48" fill="#5458fb"/>
<rect x="855.5" y="708.97" width="65.20000000000005" height="2.86" fill="#5892f6"/>
<rect x="855.5" y="710.83" width="65.20000000000005" height="4.10" fill="#5674fa"/>
<rect x="855.5" y="713.93" width="65.20000000000005" height="3.48" fill="#88d476"/>
<rect x="855.5" y="716.41" width="65.20000000000005" height="2.86" fill="#cbf466"/>
<rect x="855.5" y="718.27" width="65.20000000000005" height="2.86" fill="#c8e2e2"/>
<rect x="855.5" y="720.12" width="65.20000000000005" height="5.96" fill="#4634ee"/>
<rect x="855.5" y="725.08" width="65.20000000000005" height="3.48" fill="#5892f6"/>
<rect x="855.5" y="727.56" width="65.20000000000005" height="3.48" fill="#f0d040"/>
<rect x="855.5" y="730.04" width="65.20000000000005" height="4.10" fill="#5892f6"/>
<rect x="855.5" y="733.13" width="65.20000000000005" height="2.86" fill="#cbf466"/>
<rect x="855.5" y="734.99" width="65.20000000000005" height="3.48" fill="#f0d040"/>
<rect x="855.5" y="737.47" width="65.20000000000005" height="4.72" fill="#e9fb3c"/>
<rect x="855.5" y="741.19" width="65.20000000000005" height="3.48" fill="#4e40f8"/>
<rect x="855.5" y="743.66" width="65.20000000000005" height="3.48" fill="#5892f6"/>
<rect x="855.5" y="746.14" width="65.20000000000005" height="4.10" fill="#88d476"/>
<rect x="855.5" y="749.24" width="65.20000000000005" height="2.86" fill="#f0d040"/>
<rect x="855.5" y="751.10" width="65.20000000000005" height="3.48" fill="#4e40f8"/>
<rect x="855.5" y="753.58" width="65.20000000000005" height="2.86" fill="#55acf0"/>
<rect x="855.5" y="755.43" width="65.20000000000005" height="5.34" fill="#e9fb3c"/>
<rect x="855.5" y="759.77" width="65.20000000000005" height="4.72" fill="#88d476"/>
<rect x="855.5" y="763.49" width="65.20000000000005" height="2.86" fill="#cbf466"/>
<rect x="855.5" y="765.35" width="65.20000000000005" height="3.48" fill="#f0d040"/>
<rect x="855.5" y="767.82" width="65.20000000000005" height="3.48" fill="#88d476"/>
<rect x="855.5" y="770.30" width="65.20000000000005" height="2.86" fill="#cbf466"/>
<rect x="855.5" y="772.16" width="65.20000000000005" height="2.86" fill="#88d476"/>
<rect x="855.5" y="774.02" width="65.20000000000005" height="1.98" fill="#55cdc8"/>
<rect x="920.7" y="678.00" width="65.29999999999995" height="2.86" fill="#cbf466"/>
<rect x="920.7" y="679.86" width="65.29999999999995" height="4.10" fill="#5892f6"/>
<rect x="920.7" y="682.96" width="65.29999999999995" height="3.48" fill="#5458fb"/>
<rect x="920.7" y="685.43" width="65.29999999999995" height="7.19" fill="#4634ee"/>
<rect x="920.7" y="691.63" width="65.29999999999995" height="3.48" fill="#5674fa"/>
<rect x="920.7" y="694.11" width="65.29999999999995" height="2.86" fill="#4634ee"/>
<rect x="920.7" y="695.96" width="65.29999999999995" height="4.72" fill="#55acf0"/>
<rect x="920.7" y="699.68" width="65.29999999999995" height="4.10" fill="#5892f6"/>
<rect x="920.7" y="702.78" width="65.29999999999995" height="2.24" fill="#4e40f8"/>
<rect x="920.7" y="704.02" width="65.29999999999995" height="2.86" fill="#c8e2e2"/>
<rect x="920.7" y="705.88" width="65.29999999999995" height="7.81" fill="#4634ee"/>
<rect x="920.7" y="712.69" width="65.29999999999995" height="2.86" fill="#5892f6"/>
<rect x="920.7" y="714.55" width="65.29999999999995" height="4.72" fill="#cbf466"/>
<rect x="920.7" y="718.27" width="65.29999999999995" height="2.86" fill="#4a4868"/>
<rect x="920.7" y="720.12" width="65.29999999999995" height="6.58" fill="#5674fa"/>
<rect x="920.7" y="725.70" width="65.29999999999995" height="2.24" fill="#cbf466"/>
<rect x="920.7" y="726.94" width="65.29999999999995" height="4.10" fill="#e9fb3c"/>
<rect x="920.7" y="730.04" width="65.29999999999995" height="2.86" fill="#f0d040"/>
<rect x="920.7" y="731.89" width="65.29999999999995" height="2.86" fill="#5892f6"/>
<rect x="920.7" y="733.75" width="65.29999999999995" height="2.86" fill="#cbf466"/>
<rect x="920.7" y="735.61" width="65.29999999999995" height="2.86" fill="#88d476"/>
<rect x="920.7" y="737.47" width="65.29999999999995" height="4.10" fill="#55cdc8"/>
<rect x="920.7" y="740.57" width="65.29999999999995" height="2.86" fill="#cbf466"/>
<rect x="920.7" y="742.42" width="65.29999999999995" height="3.48" fill="#4634ee"/>
<rect x="920.7" y="744.90" width="65.29999999999995" height="4.72" fill="#cbf466"/>
<rect x="920.7" y="748.62" width="65.29999999999995" height="4.10" fill="#55cdc8"/>
<rect x="920.7" y="751.72" width="65.29999999999995" height="2.86" fill="#cbf466"/>
<rect x="920.7" y="753.58" width="65.29999999999995" height="3.48" fill="#5892f6"/>
<rect x="920.7" y="756.05" width="65.29999999999995" height="2.86" fill="#88d476"/>
<rect x="920.7" y="757.91" width="65.29999999999995" height="3.48" fill="#cbf466"/>
<rect x="920.7" y="760.39" width="65.29999999999995" height="2.86" fill="#f0d040"/>
<rect x="920.7" y="762.25" width="65.29999999999995" height="3.48" fill="#cbf466"/>
<rect x="920.7" y="764.73" width="65.29999999999995" height="3.48" fill="#88d476"/>
<rect x="920.7" y="767.20" width="65.29999999999995" height="4.10" fill="#e9fb3c"/>
<rect x="920.7" y="770.30" width="65.29999999999995" height="2.86" fill="#55cdc8"/>
<rect x="920.7" y="772.16" width="65.29999999999995" height="2.86" fill="#55acf0"/>
<rect x="920.7" y="774.02" width="65.29999999999995" height="1.98" fill="#5892f6"/>
<rect x="986" y="678.00" width="64.5" height="2.86" fill="#e9fb3c"/>
<rect x="986" y="679.86" width="64.5" height="2.86" fill="#4e40f8"/>
<rect x="986" y="681.72" width="64.5" height="2.86" fill="#f0d040"/>
<rect x="986" y="683.58" width="64.5" height="2.86" fill="#4e40f8"/>
<rect x="986" y="685.43" width="64.5" height="3.48" fill="#55acf0"/>
<rect x="986" y="687.91" width="64.5" height="4.10" fill="#4e40f8"/>
<rect x="986" y="691.01" width="64.5" height="2.86" fill="#4634ee"/>
<rect x="986" y="692.87" width="64.5" height="2.86" fill="#c8e2e2"/>
<rect x="986" y="694.73" width="64.5" height="2.86" fill="#55acf0"/>
<rect x="986" y="696.58" width="64.5" height="4.10" fill="#50c0e4"/>
<rect x="986" y="699.68" width="64.5" height="3.48" fill="#4a4868"/>
<rect x="986" y="702.16" width="64.5" height="3.48" fill="#c8e2e2"/>
<rect x="986" y="704.64" width="64.5" height="2.24" fill="#55cdc8"/>
<rect x="986" y="705.88" width="64.5" height="3.48" fill="#4e40f8"/>
<rect x="986" y="708.35" width="64.5" height="2.86" fill="#55cdc8"/>
<rect x="986" y="710.21" width="64.5" height="3.48" fill="#55acf0"/>
<rect x="986" y="712.69" width="64.5" height="3.48" fill="#55cdc8"/>
<rect x="986" y="715.17" width="64.5" height="2.86" fill="#cbf466"/>
<rect x="986" y="717.03" width="64.5" height="2.86" fill="#c8e2e2"/>
<rect x="986" y="718.88" width="64.5" height="3.48" fill="#5892f6"/>
<rect x="986" y="721.36" width="64.5" height="3.48" fill="#55acf0"/>
<rect x="986" y="723.84" width="64.5" height="2.86" fill="#4634ee"/>
<rect x="986" y="725.70" width="64.5" height="2.24" fill="#c8e2e2"/>
<rect x="986" y="726.94" width="64.5" height="4.72" fill="#88d476"/>
<rect x="986" y="730.65" width="64.5" height="2.86" fill="#f0d040"/>
<rect x="986" y="732.51" width="64.5" height="4.10" fill="#55acf0"/>
<rect x="986" y="735.61" width="64.5" height="2.86" fill="#cbf466"/>
<rect x="986" y="737.47" width="64.5" height="4.10" fill="#88d476"/>
<rect x="986" y="740.57" width="64.5" height="2.86" fill="#e9fb3c"/>
<rect x="986" y="742.42" width="64.5" height="2.86" fill="#f0d040"/>
<rect x="986" y="744.28" width="64.5" height="2.86" fill="#5892f6"/>
<rect x="986" y="746.14" width="64.5" height="3.48" fill="#cbf466"/>
<rect x="986" y="748.62" width="64.5" height="2.86" fill="#55acf0"/>
<rect x="986" y="750.48" width="64.5" height="4.10" fill="#f0d040"/>
<rect x="986" y="753.58" width="64.5" height="3.48" fill="#cbf466"/>
<rect x="986" y="756.05" width="64.5" height="5.34" fill="#55cdc8"/>
<rect x="986" y="760.39" width="64.5" height="4.10" fill="#64d4a8"/>
<rect x="986" y="763.49" width="64.5" height="2.86" fill="#f0d040"/>
<rect x="986" y="765.35" width="64.5" height="3.48" fill="#e9fb3c"/>
<rect x="986" y="767.82" width="64.5" height="3.48" fill="#cbf466"/>
<rect x="986" y="770.30" width="64.5" height="3.48" fill="#55cdc8"/>
<rect x="986" y="772.78" width="64.5" height="3.22" fill="#55acf0"/>
<rect x="790.5" y="776.00" width="65.0" height="2.86" fill="#88d476"/>
<rect x="790.5" y="777.86" width="65.0" height="4.10" fill="#50c0e4"/>
<rect x="790.5" y="780.96" width="65.0" height="2.86" fill="#4634ee"/>
<rect x="790.5" y="782.81" width="65.0" height="2.86" fill="#50c0e4"/>
<rect x="790.5" y="784.67" width="65.0" height="2.86" fill="#55acf0"/>
<rect x="790.5" y="786.53" width="65.0" height="5.96" fill="#5674fa"/>
<rect x="790.5" y="791.49" width="65.0" height="2.86" fill="#c8e2e2"/>
<rect x="790.5" y="793.35" width="65.0" height="2.24" fill="#4a4868"/>
<rect x="790.5" y="794.58" width="65.0" height="4.10" fill="#55acf0"/>
<rect x="790.5" y="797.68" width="65.0" height="2.24" fill="#4a4868"/>
<rect x="790.5" y="798.92" width="65.0" height="2.86" fill="#c8e2e2"/>
<rect x="790.5" y="800.78" width="65.0" height="2.86" fill="#64d4a8"/>
<rect x="790.5" y="802.64" width="65.0" height="2.86" fill="#cbf466"/>
<rect x="790.5" y="804.50" width="65.0" height="3.48" fill="#55cdc8"/>
<rect x="790.5" y="806.97" width="65.0" height="2.86" fill="#55acf0"/>
<rect x="790.5" y="808.83" width="65.0" height="3.48" fill="#5892f6"/>
<rect x="790.5" y="811.31" width="65.0" height="2.86" fill="#64d4a8"/>
<rect x="790.5" y="813.17" width="65.0" height="3.48" fill="#cbf466"/>
<rect x="790.5" y="815.65" width="65.0" height="2.24" fill="#88d476"/>
<rect x="790.5" y="816.88" width="65.0" height="4.72" fill="#e9fb3c"/>
<rect x="790.5" y="820.60" width="65.0" height="2.86" fill="#55acf0"/>
<rect x="790.5" y="822.46" width="65.0" height="2.86" fill="#4e40f8"/>
<rect x="790.5" y="824.32" width="65.0" height="2.86" fill="#cbf466"/>
<rect x="790.5" y="826.18" width="65.0" height="2.86" fill="#f0d040"/>
<rect x="790.5" y="828.04" width="65.0" height="2.24" fill="#4634ee"/>
<rect x="790.5" y="829.27" width="65.0" height="2.86" fill="#c8e2e2"/>
<rect x="790.5" y="831.13" width="65.0" height="4.72" fill="#5892f6"/>
<rect x="790.5" y="834.85" width="65.0" height="4.10" fill="#55cdc8"/>
<rect x="790.5" y="837.95" width="65.0" height="3.48" fill="#cbf466"/>
<rect x="790.5" y="840.42" width="65.0" height="2.86" fill="#64d4a8"/>
<rect x="790.5" y="842.28" width="65.0" height="3.48" fill="#88d476"/>
<rect x="790.5" y="844.76" width="65.0" height="4.10" fill="#50c0e4"/>
<rect x="790.5" y="847.86" width="65.0" height="5.96" fill="#3c28dc"/>
<rect x="790.5" y="852.81" width="65.0" height="3.48" fill="#55acf0"/>
<rect x="790.5" y="855.29" width="65.0" height="3.48" fill="#5458fb"/>
<rect x="790.5" y="857.77" width="65.0" height="4.72" fill="#5892f6"/>
<rect x="790.5" y="861.49" width="65.0" height="3.48" fill="#5458fb"/>
<rect x="790.5" y="863.96" width="65.0" height="2.86" fill="#50c0e4"/>
<rect x="790.5" y="865.82" width="65.0" height="5.34" fill="#55acf0"/>
<rect x="790.5" y="870.16" width="65.0" height="2.24" fill="#4a4868"/>
<rect x="790.5" y="871.40" width="65.0" height="2.24" fill="#c8e2e2"/>
<rect x="790.5" y="872.64" width="65.0" height="1.36" fill="#4e40f8"/>
<rect x="855.5" y="776.00" width="65.20000000000005" height="2.86" fill="#c8e2e2"/>
<rect x="855.5" y="777.86" width="65.20000000000005" height="2.86" fill="#5892f6"/>
<rect x="855.5" y="779.72" width="65.20000000000005" height="3.48" fill="#cbf466"/>
<rect x="855.5" y="782.19" width="65.20000000000005" height="2.24" fill="#4a4868"/>
<rect x="855.5" y="783.43" width="65.20000000000005" height="2.86" fill="#c8e2e2"/>
<rect x="855.5" y="785.29" width="65.20000000000005" height="5.34" fill="#5892f6"/>
<rect x="855.5" y="789.63" width="65.20000000000005" height="4.72" fill="#cbf466"/>
<rect x="855.5" y="793.35" width="65.20000000000005" height="2.86" fill="#4a4868"/>
<rect x="855.5" y="795.20" width="65.20000000000005" height="4.72" fill="#4e40f8"/>
<rect x="855.5" y="798.92" width="65.20000000000005" height="2.86" fill="#64d4a8"/>
<rect x="855.5" y="800.78" width="65.20000000000005" height="4.72" fill="#88d476"/>
<rect x="855.5" y="804.50" width="65.20000000000005" height="2.86" fill="#c8e2e2"/>
<rect x="855.5" y="806.35" width="65.20000000000005" height="3.48" fill="#55acf0"/>
<rect x="855.5" y="808.83" width="65.20000000000005" height="3.48" fill="#5892f6"/>
<rect x="855.5" y="811.31" width="65.20000000000005" height="2.86" fill="#cbf466"/>
<rect x="855.5" y="813.17" width="65.20000000000005" height="4.10" fill="#e9fb3c"/>
<rect x="855.5" y="816.27" width="65.20000000000005" height="3.48" fill="#55cdc8"/>
<rect x="855.5" y="818.74" width="65.20000000000005" height="3.48" fill="#cbf466"/>
<rect x="855.5" y="821.22" width="65.20000000000005" height="2.86" fill="#55acf0"/>
<rect x="855.5" y="823.08" width="65.20000000000005" height="2.86" fill="#cbf466"/>
<rect x="855.5" y="824.94" width="65.20000000000005" height="4.10" fill="#e9fb3c"/>
<rect x="855.5" y="828.04" width="65.20000000000005" height="2.24" fill="#4a4868"/>
<rect x="855.5" y="829.27" width="65.20000000000005" height="2.86" fill="#c8e2e2"/>
<rect x="855.5" y="831.13" width="65.20000000000005" height="4.10" fill="#5892f6"/>
<rect x="855.5" y="834.23" width="65.20000000000005" height="3.48" fill="#55acf0"/>
<rect x="855.5" y="836.71" width="65.20000000000005" height="2.86" fill="#cbf466"/>
<rect x="855.5" y="838.57" width="65.20000000000005" height="5.96" fill="#f0d040"/>
<rect x="855.5" y="843.52" width="65.20000000000005" height="3.48" fill="#cbf466"/>
<rect x="855.5" y="846.00" width="65.20000000000005" height="2.86" fill="#55cdc8"/>
<rect x="855.5" y="847.86" width="65.20000000000005" height="3.48" fill="#4634ee"/>
<rect x="855.5" y="850.34" width="65.20000000000005" height="3.48" fill="#5458fb"/>
<rect x="855.5" y="852.81" width="65.20000000000005" height="3.48" fill="#50c0e4"/>
<rect x="855.5" y="855.29" width="65.20000000000005" height="4.10" fill="#5892f6"/>
<rect x="855.5" y="858.39" width="65.20000000000005" height="4.10" fill="#4e40f8"/>
<rect x="855.5" y="861.49" width="65.20000000000005" height="3.48" fill="#5892f6"/>
<rect x="855.5" y="863.96" width="65.20000000000005" height="2.86" fill="#4a4868"/>
<rect x="855.5" y="865.82" width="65.20000000000005" height="5.34" fill="#55acf0"/>
<rect x="855.5" y="870.16" width="65.20000000000005" height="2.86" fill="#5892f6"/>
<rect x="855.5" y="872.02" width="65.20000000000005" height="1.98" fill="#c8e2e2"/>
<rect x="920.7" y="776.00" width="65.29999999999995" height="2.86" fill="#cbf466"/>
<rect x="920.7" y="777.86" width="65.29999999999995" height="4.10" fill="#55acf0"/>
<rect x="920.7" y="780.96" width="65.29999999999995" height="2.24" fill="#4634ee"/>
<rect x="920.7" y="782.19" width="65.29999999999995" height="4.72" fill="#5674fa"/>
<rect x="920.7" y="785.91" width="65.29999999999995" height="4.72" fill="#4e40f8"/>
<rect x="920.7" y="789.63" width="65.29999999999995" height="2.86" fill="#55acf0"/>
<rect x="920.7" y="791.49" width="65.29999999999995" height="2.86" fill="#cbf466"/>
<rect x="920.7" y="793.35" width="65.29999999999995" height="2.24" fill="#4a4868"/>
<rect x="920.7" y="794.58" width="65.29999999999995" height="2.86" fill="#55acf0"/>
<rect x="920.7" y="796.44" width="65.29999999999995" height="4.10" fill="#4e40f8"/>
<rect x="920.7" y="799.54" width="65.29999999999995" height="4.10" fill="#55cdc8"/>
<rect x="920.7" y="802.64" width="65.29999999999995" height="3.48" fill="#55acf0"/>
<rect x="920.7" y="805.12" width="65.29999999999995" height="3.48" fill="#50c0e4"/>
<rect x="920.7" y="807.59" width="65.29999999999995" height="3.48" fill="#5892f6"/>
<rect x="920.7" y="810.07" width="65.29999999999995" height="2.86" fill="#cbf466"/>
<rect x="920.7" y="811.93" width="65.29999999999995" height="3.48" fill="#5892f6"/>
<rect x="920.7" y="814.41" width="65.29999999999995" height="4.10" fill="#64d4a8"/>
<rect x="920.7" y="817.50" width="65.29999999999995" height="4.72" fill="#e9fb3c"/>
<rect x="920.7" y="821.22" width="65.29999999999995" height="2.86" fill="#5892f6"/>
<rect x="920.7" y="823.08" width="65.29999999999995" height="2.86" fill="#55acf0"/>
<rect x="920.7" y="824.94" width="65.29999999999995" height="3.48" fill="#cbf466"/>
<rect x="920.7" y="827.42" width="65.29999999999995" height="2.24" fill="#4a4868"/>
<rect x="920.7" y="828.65" width="65.29999999999995" height="2.86" fill="#c8e2e2"/>
<rect x="920.7" y="830.51" width="65.29999999999995" height="2.86" fill="#5892f6"/>
<rect x="920.7" y="832.37" width="65.29999999999995" height="4.72" fill="#e9fb3c"/>
<rect x="920.7" y="836.09" width="65.29999999999995" height="2.24" fill="#55cdc8"/>
<rect x="920.7" y="837.33" width="65.29999999999995" height="4.10" fill="#50c0e4"/>
<rect x="920.7" y="840.42" width="65.29999999999995" height="4.10" fill="#e9fb3c"/>
<rect x="920.7" y="843.52" width="65.29999999999995" height="3.48" fill="#55cdc8"/>
<rect x="920.7" y="846.00" width="65.29999999999995" height="2.24" fill="#cbf466"/>
<rect x="920.7" y="847.24" width="65.29999999999995" height="2.24" fill="#4a4868"/>
<rect x="920.7" y="848.48" width="65.29999999999995" height="2.86" fill="#c8e2e2"/>
<rect x="920.7" y="850.34" width="65.29999999999995" height="2.86" fill="#5892f6"/>
<rect x="920.7" y="852.19" width="65.29999999999995" height="2.86" fill="#5458fb"/>
<rect x="920.7" y="854.05" width="65.29999999999995" height="2.86" fill="#cbf466"/>
<rect x="920.7" y="855.91" width="65.29999999999995" height="2.86" fill="#5892f6"/>
<rect x="920.7" y="857.77" width="65.29999999999995" height="2.86" fill="#4634ee"/>
<rect x="920.7" y="859.63" width="65.29999999999995" height="3.48" fill="#e9fb3c"/>
<rect x="920.7" y="862.11" width="65.29999999999995" height="2.86" fill="#cbf466"/>
<rect x="920.7" y="863.96" width="65.29999999999995" height="2.86" fill="#5892f6"/>
<rect x="920.7" y="865.82" width="65.29999999999995" height="2.86" fill="#50c0e4"/>
<rect x="920.7" y="867.68" width="65.29999999999995" height="2.86" fill="#4e40f8"/>
<rect x="920.7" y="869.54" width="65.29999999999995" height="2.86" fill="#cbf466"/>
<rect x="920.7" y="871.40" width="65.29999999999995" height="2.60" fill="#55acf0"/>
<rect x="986" y="776.00" width="64.5" height="4.72" fill="#55acf0"/>
<rect x="986" y="779.72" width="64.5" height="2.86" fill="#5458fb"/>
<rect x="986" y="781.58" width="64.5" height="5.96" fill="#4634ee"/>
<rect x="986" y="786.53" width="64.5" height="3.48" fill="#4e40f8"/>
<rect x="986" y="789.01" width="64.5" height="2.86" fill="#55acf0"/>
<rect x="986" y="790.87" width="64.5" height="4.10" fill="#4e40f8"/>
<rect x="986" y="793.96" width="64.5" height="3.48" fill="#5458fb"/>
<rect x="986" y="796.44" width="64.5" height="4.10" fill="#4634ee"/>
<rect x="986" y="799.54" width="64.5" height="2.24" fill="#55acf0"/>
<rect x="986" y="800.78" width="64.5" height="3.48" fill="#88d476"/>
<rect x="986" y="803.26" width="64.5" height="2.86" fill="#55cdc8"/>
<rect x="986" y="805.12" width="64.5" height="3.48" fill="#55acf0"/>
<rect x="986" y="807.59" width="64.5" height="2.86" fill="#4e40f8"/>
<rect x="986" y="809.45" width="64.5" height="3.48" fill="#50c0e4"/>
<rect x="986" y="811.93" width="64.5" height="3.48" fill="#4e40f8"/>
<rect x="986" y="814.41" width="64.5" height="2.86" fill="#55acf0"/>
<rect x="986" y="816.27" width="64.5" height="5.96" fill="#f0d040"/>
<rect x="986" y="821.22" width="64.5" height="3.48" fill="#5458fb"/>
<rect x="986" y="823.70" width="64.5" height="2.86" fill="#55acf0"/>
<rect x="986" y="825.56" width="64.5" height="3.48" fill="#cbf466"/>
<rect x="986" y="828.04" width="64.5" height="2.24" fill="#4a4868"/>
<rect x="986" y="829.27" width="64.5" height="2.86" fill="#c8e2e2"/>
<rect x="986" y="831.13" width="64.5" height="4.10" fill="#55acf0"/>
<rect x="986" y="834.23" width="64.5" height="3.48" fill="#55cdc8"/>
<rect x="986" y="836.71" width="64.5" height="4.72" fill="#cbf466"/>
<rect x="986" y="840.42" width="64.5" height="2.86" fill="#55cdc8"/>
<rect x="986" y="842.28" width="64.5" height="4.10" fill="#5892f6"/>
<rect x="986" y="845.38" width="64.5" height="3.48" fill="#50c0e4"/>
<rect x="986" y="847.86" width="64.5" height="3.48" fill="#4e40f8"/>
<rect x="986" y="850.34" width="64.5" height="3.48" fill="#5892f6"/>
<rect x="986" y="852.81" width="64.5" height="2.86" fill="#4e40f8"/>
<rect x="986" y="854.67" width="64.5" height="2.86" fill="#55acf0"/>
<rect x="986" y="856.53" width="64.5" height="2.86" fill="#4634ee"/>
<rect x="986" y="858.39" width="64.5" height="4.10" fill="#5892f6"/>
<rect x="986" y="861.49" width="64.5" height="2.86" fill="#4634ee"/>
<rect x="986" y="863.35" width="64.5" height="3.48" fill="#55acf0"/>
<rect x="986" y="865.82" width="64.5" height="2.86" fill="#4634ee"/>
<rect x="986" y="867.68" width="64.5" height="3.48" fill="#5892f6"/>
<rect x="986" y="870.16" width="64.5" height="2.86" fill="#4634ee"/>
<rect x="986" y="872.02" width="64.5" height="1.98" fill="#55acf0"/>
<rect x="790.5" y="874.00" width="65.0" height="2.86" fill="#5458fb"/>
<rect x="790.5" y="875.86" width="65.0" height="2.86" fill="#4634ee"/>
<rect x="790.5" y="877.72" width="65.0" height="3.48" fill="#50c0e4"/>
<rect x="790.5" y="880.19" width="65.0" height="2.24" fill="#4e40f8"/>
<rect x="790.5" y="881.43" width="65.0" height="3.48" fill="#55acf0"/>
<rect x="790.5" y="883.91" width="65.0" height="5.96" fill="#4e40f8"/>
<rect x="790.5" y="888.87" width="65.0" height="3.48" fill="#5458fb"/>
<rect x="790.5" y="891.35" width="65.0" height="3.48" fill="#f0d040"/>
<rect x="790.5" y="893.82" width="65.0" height="4.10" fill="#55acf0"/>
<rect x="790.5" y="896.92" width="65.0" height="3.48" fill="#55cdc8"/>
<rect x="790.5" y="899.40" width="65.0" height="3.48" fill="#e9fb3c"/>
<rect x="790.5" y="901.88" width="65.0" height="2.86" fill="#5892f6"/>
<rect x="790.5" y="903.73" width="65.0" height="2.86" fill="#55acf0"/>
<rect x="790.5" y="905.59" width="65.0" height="2.86" fill="#4634ee"/>
<rect x="790.5" y="907.45" width="65.0" height="3.48" fill="#5892f6"/>
<rect x="790.5" y="909.93" width="65.0" height="5.96" fill="#4634ee"/>
<rect x="790.5" y="914.88" width="65.0" height="4.10" fill="#5892f6"/>
<rect x="790.5" y="917.98" width="65.0" height="3.48" fill="#55acf0"/>
<rect x="790.5" y="920.46" width="65.0" height="3.48" fill="#5892f6"/>
<rect x="790.5" y="922.94" width="65.0" height="2.86" fill="#3c28dc"/>
<rect x="790.5" y="924.80" width="65.0" height="2.86" fill="#5892f6"/>
<rect x="790.5" y="926.65" width="65.0" height="2.86" fill="#50c0e4"/>
<rect x="790.5" y="928.51" width="65.0" height="3.48" fill="#5892f6"/>
<rect x="790.5" y="930.99" width="65.0" height="3.48" fill="#3c28dc"/>
<rect x="790.5" y="933.47" width="65.0" height="2.86" fill="#5458fb"/>
<rect x="790.5" y="935.33" width="65.0" height="5.96" fill="#50c0e4"/>
<rect x="790.5" y="940.28" width="65.0" height="2.86" fill="#55cdc8"/>
<rect x="790.5" y="942.14" width="65.0" height="4.72" fill="#e9fb3c"/>
<rect x="790.5" y="945.86" width="65.0" height="5.34" fill="#f0d040"/>
<rect x="790.5" y="950.19" width="65.0" height="5.34" fill="#e9fb3c"/>
<rect x="790.5" y="954.53" width="65.0" height="2.86" fill="#cbf466"/>
<rect x="790.5" y="956.39" width="65.0" height="2.86" fill="#5892f6"/>
<rect x="790.5" y="958.25" width="65.0" height="3.48" fill="#cbf466"/>
<rect x="790.5" y="960.73" width="65.0" height="2.86" fill="#5458fb"/>
<rect x="790.5" y="962.58" width="65.0" height="3.48" fill="#88d476"/>
<rect x="790.5" y="965.06" width="65.0" height="2.86" fill="#64d4a8"/>
<rect x="790.5" y="966.92" width="65.0" height="3.48" fill="#e9fb3c"/>
<rect x="790.5" y="969.40" width="65.0" height="2.86" fill="#f0d040"/>
<rect x="790.5" y="971.26" width="65.0" height="0.74" fill="#4a4868"/>
<rect x="855.5" y="874.00" width="65.20000000000005" height="2.86" fill="#5892f6"/>
<rect x="855.5" y="875.86" width="65.20000000000005" height="2.86" fill="#55acf0"/>
<rect x="855.5" y="877.72" width="65.20000000000005" height="3.48" fill="#50c0e4"/>
<rect x="855.5" y="880.19" width="65.20000000000005" height="3.48" fill="#5892f6"/>
<rect x="855.5" y="882.67" width="65.20000000000005" height="3.48" fill="#55acf0"/>
<rect x="855.5" y="885.15" width="65.20000000000005" height="7.19" fill="#5458fb"/>
<rect x="855.5" y="891.35" width="65.20000000000005" height="3.48" fill="#cbf466"/>
<rect x="855.5" y="893.82" width="65.20000000000005" height="2.86" fill="#e9fb3c"/>
<rect x="855.5" y="895.68" width="65.20000000000005" height="2.86" fill="#55cdc8"/>
<rect x="855.5" y="897.54" width="65.20000000000005" height="4.10" fill="#cbf466"/>
<rect x="855.5" y="900.64" width="65.20000000000005" height="2.86" fill="#88d476"/>
<rect x="855.5" y="902.50" width="65.20000000000005" height="2.86" fill="#c8e2e2"/>
<rect x="855.5" y="904.35" width="65.20000000000005" height="3.48" fill="#5892f6"/>
<rect x="855.5" y="906.83" width="65.20000000000005" height="6.58" fill="#5458fb"/>
<rect x="855.5" y="912.41" width="65.20000000000005" height="4.72" fill="#55acf0"/>
<rect x="855.5" y="916.12" width="65.20000000000005" height="3.48" fill="#50c0e4"/>
<rect x="855.5" y="918.60" width="65.20000000000005" height="4.72" fill="#5892f6"/>
<rect x="855.5" y="922.32" width="65.20000000000005" height="3.48" fill="#4e40f8"/>
<rect x="855.5" y="924.80" width="65.20000000000005" height="3.48" fill="#88d476"/>
<rect x="855.5" y="927.27" width="65.20000000000005" height="3.48" fill="#55cdc8"/>
<rect x="855.5" y="929.75" width="65.20000000000005" height="3.48" fill="#5458fb"/>
<rect x="855.5" y="932.23" width="65.20000000000005" height="3.48" fill="#5892f6"/>
<rect x="855.5" y="934.71" width="65.20000000000005" height="2.86" fill="#cbf466"/>
<rect x="855.5" y="936.57" width="65.20000000000005" height="4.72" fill="#e9fb3c"/>
<rect x="855.5" y="940.28" width="65.20000000000005" height="2.86" fill="#55cdc8"/>
<rect x="855.5" y="942.14" width="65.20000000000005" height="4.72" fill="#e9fb3c"/>
<rect x="855.5" y="945.86" width="65.20000000000005" height="3.48" fill="#f0d040"/>
<rect x="855.5" y="948.34" width="65.20000000000005" height="3.48" fill="#cbf466"/>
<rect x="855.5" y="950.81" width="65.20000000000005" height="4.10" fill="#f0d040"/>
<rect x="855.5" y="953.91" width="65.20000000000005" height="3.48" fill="#cbf466"/>
<rect x="855.5" y="956.39" width="65.20000000000005" height="3.48" fill="#5892f6"/>
<rect x="855.5" y="958.87" width="65.20000000000005" height="2.86" fill="#f0d040"/>
<rect x="855.5" y="960.73" width="65.20000000000005" height="2.86" fill="#55cdc8"/>
<rect x="855.5" y="962.58" width="65.20000000000005" height="4.10" fill="#88d476"/>
<rect x="855.5" y="965.68" width="65.20000000000005" height="6.58" fill="#cbf466"/>
<rect x="855.5" y="971.26" width="65.20000000000005" height="0.74" fill="#4a4868"/>
<rect x="920.7" y="874.00" width="65.29999999999995" height="3.48" fill="#55cdc8"/>
<rect x="920.7" y="876.48" width="65.29999999999995" height="2.24" fill="#4e40f8"/>
<rect x="920.7" y="877.72" width="65.29999999999995" height="3.48" fill="#f0d040"/>
<rect x="920.7" y="880.19" width="65.29999999999995" height="2.86" fill="#55acf0"/>
<rect x="920.7" y="882.05" width="65.29999999999995" height="3.48" fill="#55cdc8"/>
<rect x="920.7" y="884.53" width="65.29999999999995" height="2.86" fill="#50c0e4"/>
<rect x="920.7" y="886.39" width="65.29999999999995" height="2.24" fill="#5892f6"/>
<rect x="920.7" y="887.63" width="65.29999999999995" height="3.48" fill="#5458fb"/>
<rect x="920.7" y="890.11" width="65.29999999999995" height="2.86" fill="#55acf0"/>
<rect x="920.7" y="891.96" width="65.29999999999995" height="4.72" fill="#e9fb3c"/>
<rect x="920.7" y="895.68" width="65.29999999999995" height="2.86" fill="#55cdc8"/>
<rect x="920.7" y="897.54" width="65.29999999999995" height="4.10" fill="#cbf466"/>
<rect x="920.7" y="900.64" width="65.29999999999995" height="2.86" fill="#55cdc8"/>
<rect x="920.7" y="902.50" width="65.29999999999995" height="2.86" fill="#c8e2e2"/>
<rect x="920.7" y="904.35" width="65.29999999999995" height="3.48" fill="#55cdc8"/>
<rect x="920.7" y="906.83" width="65.29999999999995" height="2.86" fill="#55acf0"/>
<rect x="920.7" y="908.69" width="65.29999999999995" height="3.48" fill="#f0d040"/>
<rect x="920.7" y="911.17" width="65.29999999999995" height="2.86" fill="#5892f6"/>
<rect x="920.7" y="913.03" width="65.29999999999995" height="2.86" fill="#55acf0"/>
<rect x="920.7" y="914.88" width="65.29999999999995" height="2.86" fill="#c8e2e2"/>
<rect x="920.7" y="916.74" width="65.29999999999995" height="3.48" fill="#55cdc8"/>
<rect x="920.7" y="919.22" width="65.29999999999995" height="3.48" fill="#cbf466"/>
<rect x="920.7" y="921.70" width="65.29999999999995" height="3.48" fill="#64d4a8"/>
<rect x="920.7" y="924.18" width="65.29999999999995" height="2.86" fill="#5892f6"/>
<rect x="920.7" y="926.04" width="65.29999999999995" height="4.10" fill="#e9fb3c"/>
<rect x="920.7" y="929.13" width="65.29999999999995" height="2.86" fill="#f0d040"/>
<rect x="920.7" y="930.99" width="65.29999999999995" height="2.86" fill="#55cdc8"/>
<rect x="920.7" y="932.85" width="65.29999999999995" height="3.48" fill="#50c0e4"/>
<rect x="920.7" y="935.33" width="65.29999999999995" height="5.34" fill="#e9fb3c"/>
<rect x="920.7" y="939.66" width="65.29999999999995" height="2.86" fill="#cbf466"/>
<rect x="920.7" y="941.52" width="65.29999999999995" height="2.86" fill="#e9fb3c"/>
<rect x="920.7" y="943.38" width="65.29999999999995" height="4.72" fill="#50c0e4"/>
<rect x="920.7" y="947.10" width="65.29999999999995" height="4.72" fill="#f0d040"/>
<rect x="920.7" y="950.81" width="65.29999999999995" height="3.48" fill="#e9fb3c"/>
<rect x="920.7" y="953.29" width="65.29999999999995" height="3.48" fill="#f0d040"/>
<rect x="920.7" y="955.77" width="65.29999999999995" height="3.48" fill="#55cdc8"/>
<rect x="920.7" y="958.25" width="65.29999999999995" height="5.96" fill="#e9fb3c"/>
<rect x="920.7" y="963.20" width="65.29999999999995" height="4.10" fill="#cbf466"/>
<rect x="920.7" y="966.30" width="65.29999999999995" height="2.86" fill="#f0d040"/>
<rect x="920.7" y="968.16" width="65.29999999999995" height="4.10" fill="#e9fb3c"/>
<rect x="920.7" y="971.26" width="65.29999999999995" height="0.74" fill="#4a4868"/>
<rect x="986" y="874.00" width="64.5" height="3.48" fill="#5458fb"/>
<rect x="986" y="876.48" width="64.5" height="2.86" fill="#50c0e4"/>
<rect x="986" y="878.34" width="64.5" height="2.86" fill="#5892f6"/>
<rect x="986" y="880.19" width="64.5" height="2.86" fill="#50c0e4"/>
<rect x="986" y="882.05" width="64.5" height="3.48" fill="#55acf0"/>
<rect x="986" y="884.53" width="64.5" height="4.72" fill="#4e40f8"/>
<rect x="986" y="888.25" width="64.5" height="2.24" fill="#50c0e4"/>
<rect x="986" y="889.49" width="64.5" height="4.10" fill="#5458fb"/>
<rect x="986" y="892.58" width="64.5" height="2.86" fill="#cbf466"/>
<rect x="986" y="894.44" width="64.5" height="2.86" fill="#4a4868"/>
<rect x="986" y="896.30" width="64.5" height="4.72" fill="#55cdc8"/>
<rect x="986" y="900.02" width="64.5" height="2.86" fill="#5892f6"/>
<rect x="986" y="901.88" width="64.5" height="7.19" fill="#4634ee"/>
<rect x="986" y="908.07" width="64.5" height="3.48" fill="#55acf0"/>
<rect x="986" y="910.55" width="64.5" height="4.72" fill="#4634ee"/>
<rect x="986" y="914.27" width="64.5" height="3.48" fill="#5892f6"/>
<rect x="986" y="916.74" width="64.5" height="2.86" fill="#55acf0"/>
<rect x="986" y="918.60" width="64.5" height="2.86" fill="#55cdc8"/>
<rect x="986" y="920.46" width="64.5" height="4.10" fill="#5892f6"/>
<rect x="986" y="923.56" width="64.5" height="2.86" fill="#4634ee"/>
<rect x="986" y="925.42" width="64.5" height="4.72" fill="#50c0e4"/>
<rect x="986" y="929.13" width="64.5" height="2.86" fill="#cbf466"/>
<rect x="986" y="930.99" width="64.5" height="2.86" fill="#5892f6"/>
<rect x="986" y="932.85" width="64.5" height="4.10" fill="#4e40f8"/>
<rect x="986" y="935.95" width="64.5" height="2.86" fill="#55cdc8"/>
<rect x="986" y="937.81" width="64.5" height="3.48" fill="#5892f6"/>
<rect x="986" y="940.28" width="64.5" height="3.48" fill="#cbf466"/>
<rect x="986" y="942.76" width="64.5" height="3.48" fill="#f0d040"/>
<rect x="986" y="945.24" width="64.5" height="2.86" fill="#4634ee"/>
<rect x="986" y="947.10" width="64.5" height="2.86" fill="#c8e2e2"/>
<rect x="986" y="948.96" width="64.5" height="2.86" fill="#88d476"/>
<rect x="986" y="950.81" width="64.5" height="3.48" fill="#cbf466"/>
<rect x="986" y="953.29" width="64.5" height="3.48" fill="#f0d040"/>
<rect x="986" y="955.77" width="64.5" height="3.48" fill="#cbf466"/>
<rect x="986" y="958.25" width="64.5" height="3.48" fill="#55cdc8"/>
<rect x="986" y="960.73" width="64.5" height="3.48" fill="#50c0e4"/>
<rect x="986" y="963.20" width="64.5" height="4.10" fill="#88d476"/>
<rect x="986" y="966.30" width="64.5" height="2.86" fill="#cbf466"/>
<rect x="986" y="968.16" width="64.5" height="4.10" fill="#f0d040"/>
<rect x="986" y="971.26" width="64.5" height="0.74" fill="#4a4868"/>
</g>
<rect x="125.2" y="126.2" width="261.6" height="392.6" fill="none" stroke="#000" stroke-width="2.4"/>
<rect x="456.2" y="126.2" width="261.6" height="392.6" fill="none" stroke="#000" stroke-width="2.4"/>
<rect x="789.2" y="126.2" width="262.6" height="392.6" fill="none" stroke="#000" stroke-width="2.4"/>
<rect x="125.2" y="579.7" width="261.6" height="392.6" fill="none" stroke="#000" stroke-width="2.4"/>
<rect x="456.2" y="579.7" width="261.6" height="392.6" fill="none" stroke="#000" stroke-width="2.4"/>
<rect x="789.2" y="579.7" width="262.6" height="392.6" fill="none" stroke="#000" stroke-width="2.4"/>
<rect x="157.5" y="121.0" width="2" height="5" fill="#000"/>
<rect x="222.5" y="121.0" width="2" height="5" fill="#000"/>
<rect x="287.5" y="121.0" width="2" height="5" fill="#000"/>
<rect x="352.5" y="121.0" width="2" height="5" fill="#000"/>
<rect x="488.5" y="121.0" width="2" height="5" fill="#000"/>
<rect x="553.5" y="121.0" width="2" height="5" fill="#000"/>
<rect x="618.5" y="121.0" width="2" height="5" fill="#000"/>
<rect x="683.5" y="121.0" width="2" height="5" fill="#000"/>
<rect x="826" y="121.0" width="2" height="5" fill="#000"/>
<rect x="891" y="121.0" width="2" height="5" fill="#000"/>
<rect x="956" y="121.0" width="2" height="5" fill="#000"/>
<rect x="1021" y="121.0" width="2" height="5" fill="#000"/>
<g shape-rendering="auto"><rect x="157.50" y="94.10" width="2.4" height="18.1" fill="#000"/><line x1="158.50" y1="95.10" x2="155.10" y2="97.30" stroke="#000" stroke-width="2.2" stroke-linecap="round"/></g>
<g shape-rendering="auto"><rect x="488.50" y="94.10" width="2.4" height="18.1" fill="#000"/><line x1="489.50" y1="95.10" x2="486.10" y2="97.30" stroke="#000" stroke-width="2.2" stroke-linecap="round"/></g>
<g shape-rendering="auto"><rect x="826.00" y="94.10" width="2.4" height="18.1" fill="#000"/><line x1="827.00" y1="95.10" x2="823.60" y2="97.30" stroke="#000" stroke-width="2.2" stroke-linecap="round"/></g>
<g shape-rendering="auto"><rect x="105.00" y="120.00" width="2.4" height="18.1" fill="#000"/><line x1="106.00" y1="121.00" x2="102.60" y2="123.20" stroke="#000" stroke-width="2.2" stroke-linecap="round"/></g>
<g shape-rendering="auto"><rect x="109.30" y="573.40" width="2.4" height="18.1" fill="#000"/><line x1="110.30" y1="574.40" x2="106.90" y2="576.60" stroke="#000" stroke-width="2.2" stroke-linecap="round"/></g>
<g font-family="'Liberation Sans', sans-serif" fill="#000" shape-rendering="auto">
<text x="8.3" y="29" font-size="36" font-weight="bold" stroke="#000" stroke-width="0.7" textLength="19.2" lengthAdjust="spacingAndGlyphs">a</text>
<text x="219.3" y="25" font-size="27.5" font-weight="bold" stroke="#000" stroke-width="0.7" textLength="67.2" lengthAdjust="spacingAndGlyphs">Place</text>
<text x="414" y="29" font-size="36" font-weight="bold" stroke="#000" stroke-width="0.7">b</text>
<text x="724.5" y="25" font-size="27.5" font-weight="bold" stroke="#000" stroke-width="0.7" textLength="62.3" lengthAdjust="spacingAndGlyphs">Gaze</text>
<text x="513.5" y="54" font-size="26" textLength="149.6" lengthAdjust="spacingAndGlyphs">Contralateral</text>
<text x="865" y="53.5" font-size="26" textLength="111.9" lengthAdjust="spacingAndGlyphs">Ipsilateral</text>
<text x="233.2" y="89" font-size="26" textLength="44.4" lengthAdjust="spacingAndGlyphs">Site</text>
<text x="223.5" y="112" font-size="25.5" text-anchor="middle">2</text>
<text x="288.5" y="112" font-size="25.5" text-anchor="middle">3</text>
<text x="353.5" y="112" font-size="25.5" text-anchor="middle">4</text>
<text x="565.1" y="89" font-size="26" textLength="44.4" lengthAdjust="spacingAndGlyphs">Site</text>
<text x="554.5" y="112" font-size="25.5" text-anchor="middle">2</text>
<text x="619.5" y="112" font-size="25.5" text-anchor="middle">3</text>
<text x="684.5" y="112" font-size="25.5" text-anchor="middle">4</text>
<text x="898.5" y="89" font-size="26" textLength="43.7" lengthAdjust="spacingAndGlyphs">Site</text>
<text x="892" y="112" font-size="25.5" text-anchor="middle">2</text>
<text x="957" y="112" font-size="25.5" text-anchor="middle">3</text>
<text x="1022" y="112" font-size="25.5" text-anchor="middle">4</text>
<text x="74.5" y="528" font-size="25.5" textLength="41" lengthAdjust="spacingAndGlyphs">255</text>
<text x="74.5" y="982" font-size="25.5" textLength="41" lengthAdjust="spacingAndGlyphs">303</text>
<text x="8" y="582" font-size="34" font-weight="bold" stroke="#000" stroke-width="0.7">c</text>
<text x="413.5" y="582" font-size="36" font-weight="bold" stroke="#000" stroke-width="0.7">d</text>
<text x="25.2" y="401.5" font-size="27" font-weight="bold" stroke="#000" stroke-width="0.7" textLength="161" lengthAdjust="spacingAndGlyphs" transform="rotate(-90 25.2 401.5)">Random task</text>
<text x="80" y="354" font-size="25.5" textLength="61" lengthAdjust="spacingAndGlyphs" transform="rotate(-90 80 354)">Cell #</text>
<text x="25" y="881.5" font-size="27" font-weight="bold" stroke="#000" stroke-width="0.7" textLength="214" lengthAdjust="spacingAndGlyphs" transform="rotate(-90 25 881.5)">Blocked-trial task</text>
<text x="80" y="807" font-size="25.5" textLength="61" lengthAdjust="spacingAndGlyphs" transform="rotate(-90 80 807)">Cell #</text>
</g>
</svg>
</body></html>
